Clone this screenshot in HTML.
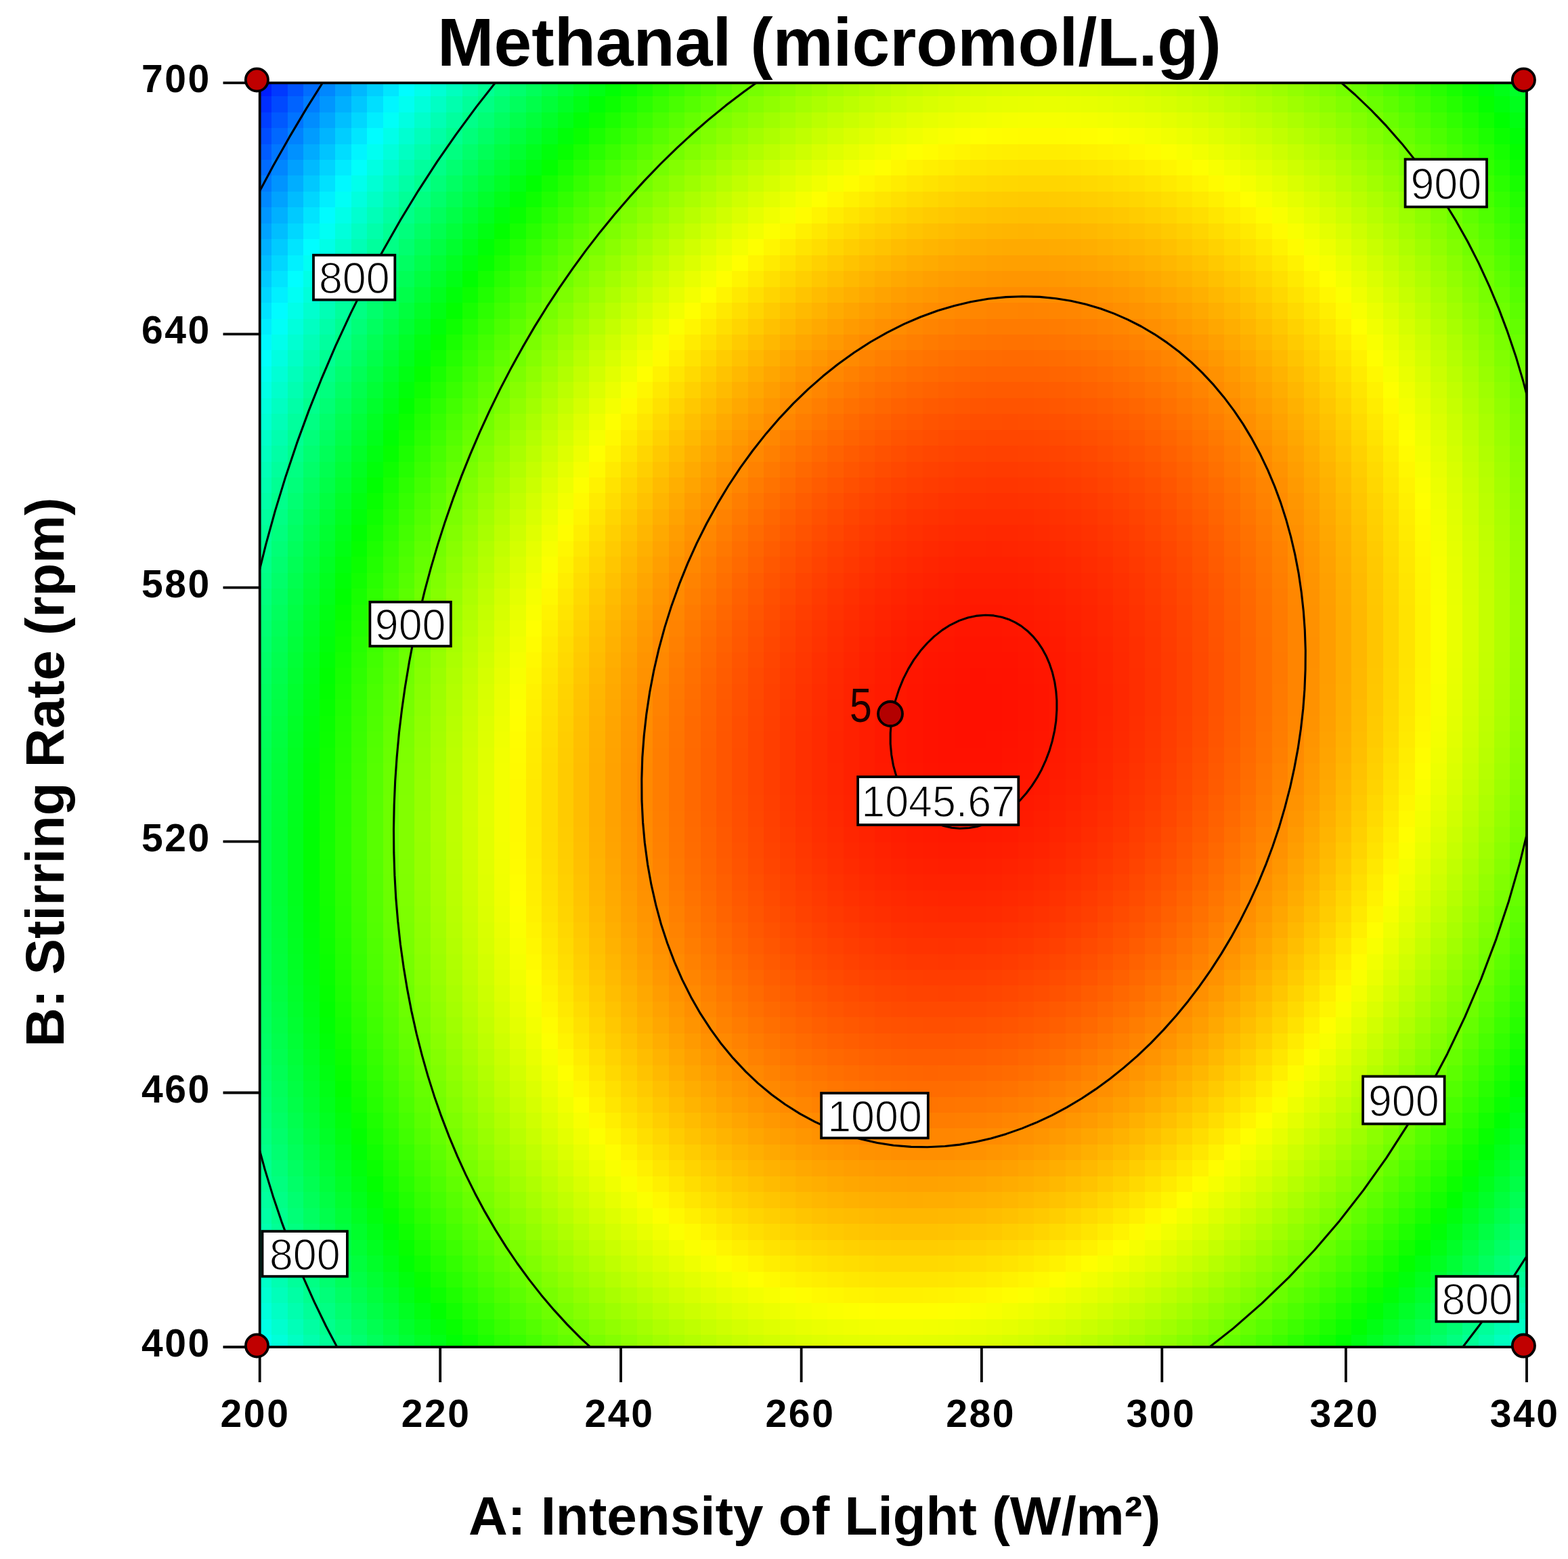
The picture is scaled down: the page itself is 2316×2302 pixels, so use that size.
<!DOCTYPE html>
<html><head><meta charset="utf-8"><title>Methanal contour</title>
<style>
html,body{margin:0;padding:0;background:#fff;}
body{width:2316px;height:2302px;position:relative;overflow:hidden;font-family:"Liberation Sans",Arial,sans-serif;}
#clip{position:absolute;left:383.7px;top:122.4px;width:1871.3px;height:1866.6px;overflow:hidden;}
#field{position:absolute;left:-5.60px;top:-3.60px;width:1876.0px;height:1876.0px;}
#field div{position:absolute;left:0;width:1876.0px;height:24.05px;}
svg{position:absolute;left:0;top:0;}
</style></head><body>
<div id="clip"><div id="field">
<div style="top:0.00px;background:linear-gradient(90deg,#001eff 0 23.4px,#0039ff 0 46.9px,#0053ff 0 70.3px,#006dff 0 93.8px,#0087ff 0 117.2px,#009fff 0 140.7px,#00b8ff 0 164.2px,#00cfff 0 187.6px,#00e6ff 0 211.0px,#00fdff 0 234.5px,#00ffea 0 257.9px,#00ffd4 0 281.4px,#00ffbe 0 304.8px,#00ffa9 0 328.3px,#00ff94 0 351.8px,#00ff80 0 375.2px,#00ff6d 0 398.6px,#00ff5a 0 422.1px,#00ff47 0 445.6px,#00ff36 0 469.0px,#00ff24 0 492.4px,#00ff14 0 515.9px,#00ff04 0 539.4px,#0cff00 0 562.8px,#1bff00 0 586.2px,#2aff00 0 609.7px,#38ff00 0 633.1px,#46ff00 0 656.6px,#53ff00 0 680.0px,#5fff00 0 703.5px,#6bff00 0 726.9px,#76ff00 0 750.4px,#81ff00 0 773.9px,#8bff00 0 797.3px,#95ff00 0 820.8px,#9dff00 0 844.2px,#a6ff00 0 867.6px,#adff00 0 891.1px,#b4ff00 0 914.5px,#bbff00 0 938.0px,#c1ff00 0 961.4px,#c6ff00 0 984.9px,#cbff00 0 1008.4px,#cfff00 0 1031.8px,#d2ff00 0 1055.2px,#d5ff00 0 1078.7px,#d7ff00 0 1102.1px,#d9ff00 0 1125.6px,#daff00 0 1149.0px,#dbff00 0 1172.5px,#dbff00 0 1196.0px,#daff00 0 1219.4px,#d9ff00 0 1242.8px,#d7ff00 0 1266.3px,#d5ff00 0 1289.8px,#d2ff00 0 1313.2px,#ceff00 0 1336.6px,#caff00 0 1360.1px,#c5ff00 0 1383.5px,#c0ff00 0 1407.0px,#baff00 0 1430.5px,#b3ff00 0 1453.9px,#acff00 0 1477.3px,#a4ff00 0 1500.8px,#9cff00 0 1524.2px,#93ff00 0 1547.7px,#89ff00 0 1571.1px,#7fff00 0 1594.6px,#74ff00 0 1618.0px,#69ff00 0 1641.5px,#5dff00 0 1665.0px,#50ff00 0 1688.4px,#43ff00 0 1711.8px,#36ff00 0 1735.3px,#27ff00 0 1758.8px,#18ff00 0 1782.2px,#09ff00 0 1805.6px,#00ff07 0 1829.1px,#00ff17 0 1852.5px,#00ff28 0 1876.0px)"></div>
<div style="top:23.45px;background:linear-gradient(90deg,#002eff 0 23.4px,#0049ff 0 46.9px,#0063ff 0 70.3px,#007dff 0 93.8px,#0096ff 0 117.2px,#00afff 0 140.7px,#00c7ff 0 164.2px,#00dfff 0 187.6px,#00f6ff 0 211.0px,#00fff1 0 234.5px,#00ffda 0 257.9px,#00ffc4 0 281.4px,#00ffae 0 304.8px,#00ff99 0 328.3px,#00ff84 0 351.8px,#00ff70 0 375.2px,#00ff5d 0 398.6px,#00ff4a 0 422.1px,#00ff38 0 445.6px,#00ff26 0 469.0px,#00ff15 0 492.4px,#00ff04 0 515.9px,#0cff00 0 539.4px,#1cff00 0 562.8px,#2bff00 0 586.2px,#3aff00 0 609.7px,#48ff00 0 633.1px,#55ff00 0 656.6px,#62ff00 0 680.0px,#6fff00 0 703.5px,#7aff00 0 726.9px,#86ff00 0 750.4px,#90ff00 0 773.9px,#9aff00 0 797.3px,#a4ff00 0 820.8px,#acff00 0 844.2px,#b4ff00 0 867.6px,#bcff00 0 891.1px,#c3ff00 0 914.5px,#c9ff00 0 938.0px,#cfff00 0 961.4px,#d4ff00 0 984.9px,#d9ff00 0 1008.4px,#ddff00 0 1031.8px,#e1ff00 0 1055.2px,#e3ff00 0 1078.7px,#e6ff00 0 1102.1px,#e7ff00 0 1125.6px,#e8ff00 0 1149.0px,#e9ff00 0 1172.5px,#e9ff00 0 1196.0px,#e8ff00 0 1219.4px,#e7ff00 0 1242.8px,#e5ff00 0 1266.3px,#e2ff00 0 1289.8px,#dfff00 0 1313.2px,#dbff00 0 1336.6px,#d7ff00 0 1360.1px,#d2ff00 0 1383.5px,#cdff00 0 1407.0px,#c7ff00 0 1430.5px,#c0ff00 0 1453.9px,#b9ff00 0 1477.3px,#b1ff00 0 1500.8px,#a9ff00 0 1524.2px,#9fff00 0 1547.7px,#96ff00 0 1571.1px,#8cff00 0 1594.6px,#81ff00 0 1618.0px,#75ff00 0 1641.5px,#69ff00 0 1665.0px,#5dff00 0 1688.4px,#50ff00 0 1711.8px,#42ff00 0 1735.3px,#33ff00 0 1758.8px,#25ff00 0 1782.2px,#15ff00 0 1805.6px,#05ff00 0 1829.1px,#00ff0c 0 1852.5px,#00ff1c 0 1876.0px)"></div>
<div style="top:46.90px;background:linear-gradient(90deg,#003eff 0 23.4px,#0059ff 0 46.9px,#0073ff 0 70.3px,#008dff 0 93.8px,#00a6ff 0 117.2px,#00bfff 0 140.7px,#00d7ff 0 164.2px,#00eeff 0 187.6px,#00fff8 0 211.0px,#00ffe1 0 234.5px,#00ffca 0 257.9px,#00ffb4 0 281.4px,#00ff9e 0 304.8px,#00ff89 0 328.3px,#00ff75 0 351.8px,#00ff61 0 375.2px,#00ff4d 0 398.6px,#00ff3b 0 422.1px,#00ff29 0 445.6px,#00ff17 0 469.0px,#00ff06 0 492.4px,#0bff00 0 515.9px,#1bff00 0 539.4px,#2bff00 0 562.8px,#3aff00 0 586.2px,#49ff00 0 609.7px,#57ff00 0 633.1px,#65ff00 0 656.6px,#71ff00 0 680.0px,#7eff00 0 703.5px,#89ff00 0 726.9px,#94ff00 0 750.4px,#9fff00 0 773.9px,#a9ff00 0 797.3px,#b2ff00 0 820.8px,#bbff00 0 844.2px,#c3ff00 0 867.6px,#caff00 0 891.1px,#d1ff00 0 914.5px,#d8ff00 0 938.0px,#ddff00 0 961.4px,#e3ff00 0 984.9px,#e7ff00 0 1008.4px,#ebff00 0 1031.8px,#eeff00 0 1055.2px,#f1ff00 0 1078.7px,#f3ff00 0 1102.1px,#f5ff00 0 1125.6px,#f6ff00 0 1149.0px,#f6ff00 0 1172.5px,#f6ff00 0 1196.0px,#f5ff00 0 1219.4px,#f4ff00 0 1242.8px,#f2ff00 0 1266.3px,#efff00 0 1289.8px,#ecff00 0 1313.2px,#e9ff00 0 1336.6px,#e4ff00 0 1360.1px,#dfff00 0 1383.5px,#daff00 0 1407.0px,#d4ff00 0 1430.5px,#cdff00 0 1453.9px,#c5ff00 0 1477.3px,#beff00 0 1500.8px,#b5ff00 0 1524.2px,#acff00 0 1547.7px,#a2ff00 0 1571.1px,#98ff00 0 1594.6px,#8dff00 0 1618.0px,#82ff00 0 1641.5px,#76ff00 0 1665.0px,#69ff00 0 1688.4px,#5cff00 0 1711.8px,#4eff00 0 1735.3px,#3fff00 0 1758.8px,#30ff00 0 1782.2px,#21ff00 0 1805.6px,#10ff00 0 1829.1px,#00ff00 0 1852.5px,#00ff11 0 1876.0px)"></div>
<div style="top:70.35px;background:linear-gradient(90deg,#004dff 0 23.4px,#0068ff 0 46.9px,#0082ff 0 70.3px,#009cff 0 93.8px,#00b5ff 0 117.2px,#00ceff 0 140.7px,#00e6ff 0 164.2px,#00fdff 0 187.6px,#00ffe9 0 211.0px,#00ffd1 0 234.5px,#00ffbb 0 257.9px,#00ffa5 0 281.4px,#00ff8f 0 304.8px,#00ff7a 0 328.3px,#00ff66 0 351.8px,#00ff52 0 375.2px,#00ff3e 0 398.6px,#00ff2c 0 422.1px,#00ff1a 0 445.6px,#00ff08 0 469.0px,#09ff00 0 492.4px,#1aff00 0 515.9px,#2aff00 0 539.4px,#3aff00 0 562.8px,#49ff00 0 586.2px,#58ff00 0 609.7px,#66ff00 0 633.1px,#73ff00 0 656.6px,#80ff00 0 680.0px,#8cff00 0 703.5px,#98ff00 0 726.9px,#a3ff00 0 750.4px,#adff00 0 773.9px,#b7ff00 0 797.3px,#c0ff00 0 820.8px,#c9ff00 0 844.2px,#d1ff00 0 867.6px,#d9ff00 0 891.1px,#dfff00 0 914.5px,#e6ff00 0 938.0px,#ebff00 0 961.4px,#f0ff00 0 984.9px,#f5ff00 0 1008.4px,#f9ff00 0 1031.8px,#fcff00 0 1055.2px,#ffff00 0 1078.7px,#fffd00 0 1102.1px,#fffc00 0 1125.6px,#fffb00 0 1149.0px,#fffb00 0 1172.5px,#fffb00 0 1196.0px,#fffc00 0 1219.4px,#fffd00 0 1242.8px,#ffff00 0 1266.3px,#fcff00 0 1289.8px,#f9ff00 0 1313.2px,#f5ff00 0 1336.6px,#f1ff00 0 1360.1px,#ecff00 0 1383.5px,#e6ff00 0 1407.0px,#e0ff00 0 1430.5px,#d9ff00 0 1453.9px,#d2ff00 0 1477.3px,#caff00 0 1500.8px,#c1ff00 0 1524.2px,#b8ff00 0 1547.7px,#aeff00 0 1571.1px,#a4ff00 0 1594.6px,#99ff00 0 1618.0px,#8dff00 0 1641.5px,#81ff00 0 1665.0px,#75ff00 0 1688.4px,#67ff00 0 1711.8px,#59ff00 0 1735.3px,#4bff00 0 1758.8px,#3cff00 0 1782.2px,#2cff00 0 1805.6px,#1cff00 0 1829.1px,#0bff00 0 1852.5px,#00ff06 0 1876.0px)"></div>
<div style="top:93.80px;background:linear-gradient(90deg,#005cff 0 23.4px,#0077ff 0 46.9px,#0091ff 0 70.3px,#00abff 0 93.8px,#00c4ff 0 117.2px,#00ddff 0 140.7px,#00f5ff 0 164.2px,#00fff1 0 187.6px,#00ffda 0 211.0px,#00ffc2 0 234.5px,#00ffac 0 257.9px,#00ff96 0 281.4px,#00ff80 0 304.8px,#00ff6b 0 328.3px,#00ff57 0 351.8px,#00ff43 0 375.2px,#00ff30 0 398.6px,#00ff1d 0 422.1px,#00ff0b 0 445.6px,#07ff00 0 469.0px,#18ff00 0 492.4px,#29ff00 0 515.9px,#39ff00 0 539.4px,#49ff00 0 562.8px,#58ff00 0 586.2px,#67ff00 0 609.7px,#74ff00 0 633.1px,#82ff00 0 656.6px,#8eff00 0 680.0px,#9bff00 0 703.5px,#a6ff00 0 726.9px,#b1ff00 0 750.4px,#bbff00 0 773.9px,#c5ff00 0 797.3px,#ceff00 0 820.8px,#d7ff00 0 844.2px,#dfff00 0 867.6px,#e6ff00 0 891.1px,#edff00 0 914.5px,#f3ff00 0 938.0px,#f9ff00 0 961.4px,#feff00 0 984.9px,#fffc00 0 1008.4px,#fff800 0 1031.8px,#fff500 0 1055.2px,#fff200 0 1078.7px,#fff000 0 1102.1px,#ffef00 0 1125.6px,#ffee00 0 1149.0px,#ffee00 0 1172.5px,#ffee00 0 1196.0px,#ffef00 0 1219.4px,#fff100 0 1242.8px,#fff300 0 1266.3px,#fff500 0 1289.8px,#fff900 0 1313.2px,#fffc00 0 1336.6px,#fdff00 0 1360.1px,#f8ff00 0 1383.5px,#f2ff00 0 1407.0px,#ecff00 0 1430.5px,#e5ff00 0 1453.9px,#deff00 0 1477.3px,#d6ff00 0 1500.8px,#cdff00 0 1524.2px,#c4ff00 0 1547.7px,#baff00 0 1571.1px,#b0ff00 0 1594.6px,#a5ff00 0 1618.0px,#99ff00 0 1641.5px,#8dff00 0 1665.0px,#80ff00 0 1688.4px,#72ff00 0 1711.8px,#64ff00 0 1735.3px,#56ff00 0 1758.8px,#47ff00 0 1782.2px,#37ff00 0 1805.6px,#27ff00 0 1829.1px,#16ff00 0 1852.5px,#04ff00 0 1876.0px)"></div>
<div style="top:117.25px;background:linear-gradient(90deg,#006bff 0 23.4px,#0086ff 0 46.9px,#00a0ff 0 70.3px,#00baff 0 93.8px,#00d3ff 0 117.2px,#00ebff 0 140.7px,#00fffb 0 164.2px,#00ffe2 0 187.6px,#00ffcb 0 211.0px,#00ffb3 0 234.5px,#00ff9d 0 257.9px,#00ff87 0 281.4px,#00ff71 0 304.8px,#00ff5d 0 328.3px,#00ff48 0 351.8px,#00ff35 0 375.2px,#00ff21 0 398.6px,#00ff0f 0 422.1px,#03ff00 0 445.6px,#15ff00 0 469.0px,#27ff00 0 492.4px,#37ff00 0 515.9px,#48ff00 0 539.4px,#57ff00 0 562.8px,#66ff00 0 586.2px,#75ff00 0 609.7px,#83ff00 0 633.1px,#90ff00 0 656.6px,#9cff00 0 680.0px,#a8ff00 0 703.5px,#b4ff00 0 726.9px,#bfff00 0 750.4px,#c9ff00 0 773.9px,#d3ff00 0 797.3px,#dcff00 0 820.8px,#e4ff00 0 844.2px,#ecff00 0 867.6px,#f4ff00 0 891.1px,#faff00 0 914.5px,#fffe00 0 938.0px,#fff800 0 961.4px,#fff300 0 984.9px,#ffef00 0 1008.4px,#ffec00 0 1031.8px,#ffe800 0 1055.2px,#ffe600 0 1078.7px,#ffe400 0 1102.1px,#ffe300 0 1125.6px,#ffe200 0 1149.0px,#ffe200 0 1172.5px,#ffe200 0 1196.0px,#ffe300 0 1219.4px,#ffe500 0 1242.8px,#ffe700 0 1266.3px,#ffea00 0 1289.8px,#ffed00 0 1313.2px,#fff100 0 1336.6px,#fff500 0 1360.1px,#fffa00 0 1383.5px,#feff00 0 1407.0px,#f8ff00 0 1430.5px,#f1ff00 0 1453.9px,#e9ff00 0 1477.3px,#e1ff00 0 1500.8px,#d8ff00 0 1524.2px,#cfff00 0 1547.7px,#c5ff00 0 1571.1px,#bbff00 0 1594.6px,#b0ff00 0 1618.0px,#a4ff00 0 1641.5px,#98ff00 0 1665.0px,#8bff00 0 1688.4px,#7dff00 0 1711.8px,#6fff00 0 1735.3px,#61ff00 0 1758.8px,#51ff00 0 1782.2px,#42ff00 0 1805.6px,#31ff00 0 1829.1px,#20ff00 0 1852.5px,#0eff00 0 1876.0px)"></div>
<div style="top:140.70px;background:linear-gradient(90deg,#007aff 0 23.4px,#0094ff 0 46.9px,#00aeff 0 70.3px,#00c8ff 0 93.8px,#00e1ff 0 117.2px,#00f9ff 0 140.7px,#00ffec 0 164.2px,#00ffd4 0 187.6px,#00ffbc 0 211.0px,#00ffa5 0 234.5px,#00ff8f 0 257.9px,#00ff79 0 281.4px,#00ff63 0 304.8px,#00ff4e 0 328.3px,#00ff3a 0 351.8px,#00ff27 0 375.2px,#00ff13 0 398.6px,#00ff01 0 422.1px,#12ff00 0 445.6px,#23ff00 0 469.0px,#35ff00 0 492.4px,#46ff00 0 515.9px,#56ff00 0 539.4px,#65ff00 0 562.8px,#74ff00 0 586.2px,#83ff00 0 609.7px,#90ff00 0 633.1px,#9dff00 0 656.6px,#aaff00 0 680.0px,#b6ff00 0 703.5px,#c1ff00 0 726.9px,#ccff00 0 750.4px,#d6ff00 0 773.9px,#e0ff00 0 797.3px,#e9ff00 0 820.8px,#f1ff00 0 844.2px,#f9ff00 0 867.6px,#fffd00 0 891.1px,#fff700 0 914.5px,#fff100 0 938.0px,#ffec00 0 961.4px,#ffe700 0 984.9px,#ffe300 0 1008.4px,#ffdf00 0 1031.8px,#ffdc00 0 1055.2px,#ffda00 0 1078.7px,#ffd800 0 1102.1px,#ffd700 0 1125.6px,#ffd600 0 1149.0px,#ffd600 0 1172.5px,#ffd600 0 1196.0px,#ffd700 0 1219.4px,#ffd900 0 1242.8px,#ffdb00 0 1266.3px,#ffde00 0 1289.8px,#ffe100 0 1313.2px,#ffe500 0 1336.6px,#ffea00 0 1360.1px,#ffef00 0 1383.5px,#fff500 0 1407.0px,#fffb00 0 1430.5px,#fcff00 0 1453.9px,#f5ff00 0 1477.3px,#ecff00 0 1500.8px,#e4ff00 0 1524.2px,#daff00 0 1547.7px,#d0ff00 0 1571.1px,#c6ff00 0 1594.6px,#baff00 0 1618.0px,#afff00 0 1641.5px,#a2ff00 0 1665.0px,#95ff00 0 1688.4px,#88ff00 0 1711.8px,#7aff00 0 1735.3px,#6bff00 0 1758.8px,#5cff00 0 1782.2px,#4cff00 0 1805.6px,#3bff00 0 1829.1px,#2aff00 0 1852.5px,#18ff00 0 1876.0px)"></div>
<div style="top:164.15px;background:linear-gradient(90deg,#0088ff 0 23.4px,#00a2ff 0 46.9px,#00bcff 0 70.3px,#00d6ff 0 93.8px,#00efff 0 117.2px,#00fff6 0 140.7px,#00ffde 0 164.2px,#00ffc6 0 187.6px,#00ffae 0 211.0px,#00ff97 0 234.5px,#00ff80 0 257.9px,#00ff6b 0 281.4px,#00ff55 0 304.8px,#00ff41 0 328.3px,#00ff2c 0 351.8px,#00ff19 0 375.2px,#00ff06 0 398.6px,#0dff00 0 422.1px,#1fff00 0 445.6px,#31ff00 0 469.0px,#43ff00 0 492.4px,#53ff00 0 515.9px,#63ff00 0 539.4px,#73ff00 0 562.8px,#82ff00 0 586.2px,#90ff00 0 609.7px,#9eff00 0 633.1px,#abff00 0 656.6px,#b7ff00 0 680.0px,#c3ff00 0 703.5px,#cfff00 0 726.9px,#d9ff00 0 750.4px,#e3ff00 0 773.9px,#edff00 0 797.3px,#f6ff00 0 820.8px,#feff00 0 844.2px,#fff800 0 867.6px,#fff100 0 891.1px,#ffeb00 0 914.5px,#ffe500 0 938.0px,#ffe000 0 961.4px,#ffdb00 0 984.9px,#ffd700 0 1008.4px,#ffd300 0 1031.8px,#ffd000 0 1055.2px,#ffce00 0 1078.7px,#ffcc00 0 1102.1px,#ffcb00 0 1125.6px,#ffca00 0 1149.0px,#ffca00 0 1172.5px,#ffcb00 0 1196.0px,#ffcc00 0 1219.4px,#ffce00 0 1242.8px,#ffd000 0 1266.3px,#ffd300 0 1289.8px,#ffd600 0 1313.2px,#ffda00 0 1336.6px,#ffdf00 0 1360.1px,#ffe400 0 1383.5px,#ffea00 0 1407.0px,#fff000 0 1430.5px,#fff700 0 1453.9px,#ffff00 0 1477.3px,#f7ff00 0 1500.8px,#eeff00 0 1524.2px,#e5ff00 0 1547.7px,#dbff00 0 1571.1px,#d0ff00 0 1594.6px,#c5ff00 0 1618.0px,#b9ff00 0 1641.5px,#adff00 0 1665.0px,#a0ff00 0 1688.4px,#92ff00 0 1711.8px,#84ff00 0 1735.3px,#75ff00 0 1758.8px,#66ff00 0 1782.2px,#56ff00 0 1805.6px,#45ff00 0 1829.1px,#34ff00 0 1852.5px,#22ff00 0 1876.0px)"></div>
<div style="top:187.60px;background:linear-gradient(90deg,#0096ff 0 23.4px,#00b0ff 0 46.9px,#00caff 0 70.3px,#00e4ff 0 93.8px,#00fcff 0 117.2px,#00ffe8 0 140.7px,#00ffd0 0 164.2px,#00ffb8 0 187.6px,#00ffa0 0 211.0px,#00ff89 0 234.5px,#00ff73 0 257.9px,#00ff5d 0 281.4px,#00ff48 0 304.8px,#00ff33 0 328.3px,#00ff1f 0 351.8px,#00ff0b 0 375.2px,#08ff00 0 398.6px,#1bff00 0 422.1px,#2dff00 0 445.6px,#3fff00 0 469.0px,#50ff00 0 492.4px,#61ff00 0 515.9px,#71ff00 0 539.4px,#80ff00 0 562.8px,#8fff00 0 586.2px,#9dff00 0 609.7px,#abff00 0 633.1px,#b8ff00 0 656.6px,#c4ff00 0 680.0px,#d0ff00 0 703.5px,#dbff00 0 726.9px,#e6ff00 0 750.4px,#f0ff00 0 773.9px,#f9ff00 0 797.3px,#fffc00 0 820.8px,#fff400 0 844.2px,#ffec00 0 867.6px,#ffe500 0 891.1px,#ffdf00 0 914.5px,#ffd900 0 938.0px,#ffd400 0 961.4px,#ffcf00 0 984.9px,#ffcb00 0 1008.4px,#ffc800 0 1031.8px,#ffc500 0 1055.2px,#ffc300 0 1078.7px,#ffc100 0 1102.1px,#ffc000 0 1125.6px,#ffbf00 0 1149.0px,#ffbf00 0 1172.5px,#ffc000 0 1196.0px,#ffc100 0 1219.4px,#ffc300 0 1242.8px,#ffc500 0 1266.3px,#ffc800 0 1289.8px,#ffcc00 0 1313.2px,#ffd000 0 1336.6px,#ffd400 0 1360.1px,#ffda00 0 1383.5px,#ffdf00 0 1407.0px,#ffe600 0 1430.5px,#ffed00 0 1453.9px,#fff400 0 1477.3px,#fffc00 0 1500.8px,#f9ff00 0 1524.2px,#efff00 0 1547.7px,#e5ff00 0 1571.1px,#daff00 0 1594.6px,#cfff00 0 1618.0px,#c3ff00 0 1641.5px,#b7ff00 0 1665.0px,#aaff00 0 1688.4px,#9cff00 0 1711.8px,#8eff00 0 1735.3px,#7fff00 0 1758.8px,#6fff00 0 1782.2px,#5fff00 0 1805.6px,#4fff00 0 1829.1px,#3dff00 0 1852.5px,#2bff00 0 1876.0px)"></div>
<div style="top:211.05px;background:linear-gradient(90deg,#00a3ff 0 23.4px,#00beff 0 46.9px,#00d7ff 0 70.3px,#00f1ff 0 93.8px,#00fff4 0 117.2px,#00ffdb 0 140.7px,#00ffc2 0 164.2px,#00ffaa 0 187.6px,#00ff93 0 211.0px,#00ff7c 0 234.5px,#00ff65 0 257.9px,#00ff50 0 281.4px,#00ff3b 0 304.8px,#00ff26 0 328.3px,#00ff12 0 351.8px,#02ff00 0 375.2px,#15ff00 0 398.6px,#28ff00 0 422.1px,#3aff00 0 445.6px,#4cff00 0 469.0px,#5dff00 0 492.4px,#6eff00 0 515.9px,#7eff00 0 539.4px,#8dff00 0 562.8px,#9cff00 0 586.2px,#aaff00 0 609.7px,#b7ff00 0 633.1px,#c4ff00 0 656.6px,#d1ff00 0 680.0px,#dcff00 0 703.5px,#e8ff00 0 726.9px,#f2ff00 0 750.4px,#fcff00 0 773.9px,#fff900 0 797.3px,#fff000 0 820.8px,#ffe800 0 844.2px,#ffe000 0 867.6px,#ffda00 0 891.1px,#ffd300 0 914.5px,#ffce00 0 938.0px,#ffc900 0 961.4px,#ffc400 0 984.9px,#ffc000 0 1008.4px,#ffbd00 0 1031.8px,#ffba00 0 1055.2px,#ffb800 0 1078.7px,#ffb600 0 1102.1px,#ffb500 0 1125.6px,#ffb400 0 1149.0px,#ffb500 0 1172.5px,#ffb500 0 1196.0px,#ffb600 0 1219.4px,#ffb800 0 1242.8px,#ffbb00 0 1266.3px,#ffbe00 0 1289.8px,#ffc100 0 1313.2px,#ffc500 0 1336.6px,#ffca00 0 1360.1px,#ffcf00 0 1383.5px,#ffd500 0 1407.0px,#ffdc00 0 1430.5px,#ffe300 0 1453.9px,#ffea00 0 1477.3px,#fff300 0 1500.8px,#fffb00 0 1524.2px,#f9ff00 0 1547.7px,#efff00 0 1571.1px,#e4ff00 0 1594.6px,#d9ff00 0 1618.0px,#cdff00 0 1641.5px,#c0ff00 0 1665.0px,#b3ff00 0 1688.4px,#a5ff00 0 1711.8px,#97ff00 0 1735.3px,#88ff00 0 1758.8px,#78ff00 0 1782.2px,#68ff00 0 1805.6px,#58ff00 0 1829.1px,#46ff00 0 1852.5px,#34ff00 0 1876.0px)"></div>
<div style="top:234.50px;background:linear-gradient(90deg,#00b0ff 0 23.4px,#00cbff 0 46.9px,#00e5ff 0 70.3px,#00feff 0 93.8px,#00ffe7 0 117.2px,#00ffcd 0 140.7px,#00ffb5 0 164.2px,#00ff9d 0 187.6px,#00ff86 0 211.0px,#00ff6f 0 234.5px,#00ff58 0 257.9px,#00ff43 0 281.4px,#00ff2e 0 304.8px,#00ff19 0 328.3px,#00ff05 0 351.8px,#0fff00 0 375.2px,#22ff00 0 398.6px,#35ff00 0 422.1px,#47ff00 0 445.6px,#59ff00 0 469.0px,#6aff00 0 492.4px,#7aff00 0 515.9px,#8aff00 0 539.4px,#99ff00 0 562.8px,#a8ff00 0 586.2px,#b6ff00 0 609.7px,#c4ff00 0 633.1px,#d1ff00 0 656.6px,#ddff00 0 680.0px,#e9ff00 0 703.5px,#f4ff00 0 726.9px,#feff00 0 750.4px,#fff600 0 773.9px,#ffed00 0 797.3px,#ffe400 0 820.8px,#ffdd00 0 844.2px,#ffd500 0 867.6px,#ffce00 0 891.1px,#ffc800 0 914.5px,#ffc300 0 938.0px,#ffbd00 0 961.4px,#ffb900 0 984.9px,#ffb500 0 1008.4px,#ffb200 0 1031.8px,#ffaf00 0 1055.2px,#ffad00 0 1078.7px,#ffab00 0 1102.1px,#ffaa00 0 1125.6px,#ffaa00 0 1149.0px,#ffaa00 0 1172.5px,#ffab00 0 1196.0px,#ffac00 0 1219.4px,#ffae00 0 1242.8px,#ffb100 0 1266.3px,#ffb400 0 1289.8px,#ffb700 0 1313.2px,#ffbb00 0 1336.6px,#ffc000 0 1360.1px,#ffc600 0 1383.5px,#ffcc00 0 1407.0px,#ffd200 0 1430.5px,#ffd900 0 1453.9px,#ffe100 0 1477.3px,#ffe900 0 1500.8px,#fff200 0 1524.2px,#fffb00 0 1547.7px,#f8ff00 0 1571.1px,#eeff00 0 1594.6px,#e2ff00 0 1618.0px,#d6ff00 0 1641.5px,#c9ff00 0 1665.0px,#bcff00 0 1688.4px,#aeff00 0 1711.8px,#a0ff00 0 1735.3px,#91ff00 0 1758.8px,#81ff00 0 1782.2px,#71ff00 0 1805.6px,#60ff00 0 1829.1px,#4fff00 0 1852.5px,#3dff00 0 1876.0px)"></div>
<div style="top:257.95px;background:linear-gradient(90deg,#00bdff 0 23.4px,#00d7ff 0 46.9px,#00f1ff 0 70.3px,#00fff3 0 93.8px,#00ffda 0 117.2px,#00ffc0 0 140.7px,#00ffa8 0 164.2px,#00ff90 0 187.6px,#00ff79 0 211.0px,#00ff62 0 234.5px,#00ff4c 0 257.9px,#00ff36 0 281.4px,#00ff21 0 304.8px,#00ff0d 0 328.3px,#07ff00 0 351.8px,#1bff00 0 375.2px,#2fff00 0 398.6px,#41ff00 0 422.1px,#54ff00 0 445.6px,#65ff00 0 469.0px,#76ff00 0 492.4px,#87ff00 0 515.9px,#96ff00 0 539.4px,#a6ff00 0 562.8px,#b4ff00 0 586.2px,#c2ff00 0 609.7px,#d0ff00 0 633.1px,#dcff00 0 656.6px,#e9ff00 0 680.0px,#f4ff00 0 703.5px,#ffff00 0 726.9px,#fff400 0 750.4px,#ffeb00 0 773.9px,#ffe200 0 797.3px,#ffd900 0 820.8px,#ffd100 0 844.2px,#ffca00 0 867.6px,#ffc300 0 891.1px,#ffbd00 0 914.5px,#ffb800 0 938.0px,#ffb300 0 961.4px,#ffae00 0 984.9px,#ffab00 0 1008.4px,#ffa700 0 1031.8px,#ffa500 0 1055.2px,#ffa300 0 1078.7px,#ffa100 0 1102.1px,#ffa000 0 1125.6px,#ffa000 0 1149.0px,#ffa000 0 1172.5px,#ffa100 0 1196.0px,#ffa200 0 1219.4px,#ffa400 0 1242.8px,#ffa700 0 1266.3px,#ffaa00 0 1289.8px,#ffae00 0 1313.2px,#ffb200 0 1336.6px,#ffb700 0 1360.1px,#ffbc00 0 1383.5px,#ffc200 0 1407.0px,#ffc900 0 1430.5px,#ffd000 0 1453.9px,#ffd800 0 1477.3px,#ffe000 0 1500.8px,#ffe900 0 1524.2px,#fff200 0 1547.7px,#fffd00 0 1571.1px,#f7ff00 0 1594.6px,#ebff00 0 1618.0px,#dfff00 0 1641.5px,#d2ff00 0 1665.0px,#c5ff00 0 1688.4px,#b7ff00 0 1711.8px,#a9ff00 0 1735.3px,#9aff00 0 1758.8px,#8aff00 0 1782.2px,#7aff00 0 1805.6px,#69ff00 0 1829.1px,#57ff00 0 1852.5px,#45ff00 0 1876.0px)"></div>
<div style="top:281.40px;background:linear-gradient(90deg,#00caff 0 23.4px,#00e4ff 0 46.9px,#00feff 0 70.3px,#00ffe6 0 93.8px,#00ffcd 0 117.2px,#00ffb4 0 140.7px,#00ff9b 0 164.2px,#00ff84 0 187.6px,#00ff6c 0 211.0px,#00ff56 0 234.5px,#00ff40 0 257.9px,#00ff2a 0 281.4px,#00ff15 0 304.8px,#00ff01 0 328.3px,#14ff00 0 351.8px,#28ff00 0 375.2px,#3bff00 0 398.6px,#4eff00 0 422.1px,#60ff00 0 445.6px,#71ff00 0 469.0px,#82ff00 0 492.4px,#92ff00 0 515.9px,#a2ff00 0 539.4px,#b1ff00 0 562.8px,#c0ff00 0 586.2px,#ceff00 0 609.7px,#dbff00 0 633.1px,#e8ff00 0 656.6px,#f4ff00 0 680.0px,#fffe00 0 703.5px,#fff400 0 726.9px,#ffea00 0 750.4px,#ffe000 0 773.9px,#ffd700 0 797.3px,#ffcf00 0 820.8px,#ffc700 0 844.2px,#ffc000 0 867.6px,#ffb900 0 891.1px,#ffb300 0 914.5px,#ffad00 0 938.0px,#ffa800 0 961.4px,#ffa400 0 984.9px,#ffa000 0 1008.4px,#ff9d00 0 1031.8px,#ff9b00 0 1055.2px,#ff9900 0 1078.7px,#ff9700 0 1102.1px,#ff9600 0 1125.6px,#ff9600 0 1149.0px,#ff9600 0 1172.5px,#ff9700 0 1196.0px,#ff9900 0 1219.4px,#ff9b00 0 1242.8px,#ff9d00 0 1266.3px,#ffa000 0 1289.8px,#ffa400 0 1313.2px,#ffa900 0 1336.6px,#ffae00 0 1360.1px,#ffb300 0 1383.5px,#ffb900 0 1407.0px,#ffc000 0 1430.5px,#ffc700 0 1453.9px,#ffcf00 0 1477.3px,#ffd700 0 1500.8px,#ffe000 0 1524.2px,#ffea00 0 1547.7px,#fff400 0 1571.1px,#ffff00 0 1594.6px,#f4ff00 0 1618.0px,#e8ff00 0 1641.5px,#dbff00 0 1665.0px,#cdff00 0 1688.4px,#bfff00 0 1711.8px,#b1ff00 0 1735.3px,#a2ff00 0 1758.8px,#92ff00 0 1782.2px,#82ff00 0 1805.6px,#71ff00 0 1829.1px,#5fff00 0 1852.5px,#4dff00 0 1876.0px)"></div>
<div style="top:304.85px;background:linear-gradient(90deg,#00d6ff 0 23.4px,#00f0ff 0 46.9px,#00fff4 0 70.3px,#00ffda 0 93.8px,#00ffc1 0 117.2px,#00ffa8 0 140.7px,#00ff8f 0 164.2px,#00ff77 0 187.6px,#00ff60 0 211.0px,#00ff4a 0 234.5px,#00ff34 0 257.9px,#00ff1e 0 281.4px,#00ff09 0 304.8px,#0bff00 0 328.3px,#20ff00 0 351.8px,#34ff00 0 375.2px,#47ff00 0 398.6px,#5aff00 0 422.1px,#6cff00 0 445.6px,#7dff00 0 469.0px,#8eff00 0 492.4px,#9eff00 0 515.9px,#aeff00 0 539.4px,#bdff00 0 562.8px,#cbff00 0 586.2px,#d9ff00 0 609.7px,#e6ff00 0 633.1px,#f3ff00 0 656.6px,#ffff00 0 680.0px,#fff400 0 703.5px,#ffe900 0 726.9px,#ffdf00 0 750.4px,#ffd500 0 773.9px,#ffcd00 0 797.3px,#ffc400 0 820.8px,#ffbc00 0 844.2px,#ffb500 0 867.6px,#ffaf00 0 891.1px,#ffa900 0 914.5px,#ffa300 0 938.0px,#ff9e00 0 961.4px,#ff9a00 0 984.9px,#ff9700 0 1008.4px,#ff9300 0 1031.8px,#ff9100 0 1055.2px,#ff8f00 0 1078.7px,#ff8e00 0 1102.1px,#ff8d00 0 1125.6px,#ff8d00 0 1149.0px,#ff8d00 0 1172.5px,#ff8e00 0 1196.0px,#ff8f00 0 1219.4px,#ff9100 0 1242.8px,#ff9400 0 1266.3px,#ff9700 0 1289.8px,#ff9b00 0 1313.2px,#ffa000 0 1336.6px,#ffa500 0 1360.1px,#ffaa00 0 1383.5px,#ffb000 0 1407.0px,#ffb700 0 1430.5px,#ffbe00 0 1453.9px,#ffc600 0 1477.3px,#ffcf00 0 1500.8px,#ffd800 0 1524.2px,#ffe200 0 1547.7px,#ffec00 0 1571.1px,#fff700 0 1594.6px,#fcff00 0 1618.0px,#f0ff00 0 1641.5px,#e3ff00 0 1665.0px,#d5ff00 0 1688.4px,#c7ff00 0 1711.8px,#b9ff00 0 1735.3px,#aaff00 0 1758.8px,#9aff00 0 1782.2px,#89ff00 0 1805.6px,#78ff00 0 1829.1px,#67ff00 0 1852.5px,#55ff00 0 1876.0px)"></div>
<div style="top:328.30px;background:linear-gradient(90deg,#00e2ff 0 23.4px,#00fcff 0 46.9px,#00ffe8 0 70.3px,#00ffce 0 93.8px,#00ffb5 0 117.2px,#00ff9c 0 140.7px,#00ff83 0 164.2px,#00ff6c 0 187.6px,#00ff55 0 211.0px,#00ff3e 0 234.5px,#00ff28 0 257.9px,#00ff13 0 281.4px,#02ff00 0 304.8px,#17ff00 0 328.3px,#2cff00 0 351.8px,#3fff00 0 375.2px,#52ff00 0 398.6px,#65ff00 0 422.1px,#77ff00 0 445.6px,#88ff00 0 469.0px,#99ff00 0 492.4px,#a9ff00 0 515.9px,#b9ff00 0 539.4px,#c8ff00 0 562.8px,#d6ff00 0 586.2px,#e4ff00 0 609.7px,#f1ff00 0 633.1px,#feff00 0 656.6px,#fff400 0 680.0px,#ffe900 0 703.5px,#ffdf00 0 726.9px,#ffd500 0 750.4px,#ffcb00 0 773.9px,#ffc200 0 797.3px,#ffba00 0 820.8px,#ffb300 0 844.2px,#ffab00 0 867.6px,#ffa500 0 891.1px,#ff9f00 0 914.5px,#ff9a00 0 938.0px,#ff9500 0 961.4px,#ff9100 0 984.9px,#ff8d00 0 1008.4px,#ff8a00 0 1031.8px,#ff8800 0 1055.2px,#ff8600 0 1078.7px,#ff8400 0 1102.1px,#ff8400 0 1125.6px,#ff8300 0 1149.0px,#ff8400 0 1172.5px,#ff8500 0 1196.0px,#ff8600 0 1219.4px,#ff8900 0 1242.8px,#ff8b00 0 1266.3px,#ff8f00 0 1289.8px,#ff9300 0 1313.2px,#ff9700 0 1336.6px,#ff9c00 0 1360.1px,#ffa200 0 1383.5px,#ffa800 0 1407.0px,#ffaf00 0 1430.5px,#ffb600 0 1453.9px,#ffbe00 0 1477.3px,#ffc700 0 1500.8px,#ffd000 0 1524.2px,#ffda00 0 1547.7px,#ffe400 0 1571.1px,#ffef00 0 1594.6px,#fffa00 0 1618.0px,#f8ff00 0 1641.5px,#ebff00 0 1665.0px,#ddff00 0 1688.4px,#cfff00 0 1711.8px,#c0ff00 0 1735.3px,#b1ff00 0 1758.8px,#a1ff00 0 1782.2px,#91ff00 0 1805.6px,#80ff00 0 1829.1px,#6eff00 0 1852.5px,#5cff00 0 1876.0px)"></div>
<div style="top:351.75px;background:linear-gradient(90deg,#00edff 0 23.4px,#00fff7 0 46.9px,#00ffdc 0 70.3px,#00ffc2 0 93.8px,#00ffa9 0 117.2px,#00ff90 0 140.7px,#00ff78 0 164.2px,#00ff60 0 187.6px,#00ff49 0 211.0px,#00ff33 0 234.5px,#00ff1d 0 257.9px,#00ff07 0 281.4px,#0eff00 0 304.8px,#23ff00 0 328.3px,#37ff00 0 351.8px,#4bff00 0 375.2px,#5eff00 0 398.6px,#70ff00 0 422.1px,#82ff00 0 445.6px,#93ff00 0 469.0px,#a4ff00 0 492.4px,#b4ff00 0 515.9px,#c4ff00 0 539.4px,#d3ff00 0 562.8px,#e1ff00 0 586.2px,#efff00 0 609.7px,#fcff00 0 633.1px,#fff600 0 656.6px,#ffea00 0 680.0px,#ffdf00 0 703.5px,#ffd500 0 726.9px,#ffcb00 0 750.4px,#ffc100 0 773.9px,#ffb900 0 797.3px,#ffb000 0 820.8px,#ffa900 0 844.2px,#ffa200 0 867.6px,#ff9b00 0 891.1px,#ff9600 0 914.5px,#ff9000 0 938.0px,#ff8c00 0 961.4px,#ff8700 0 984.9px,#ff8400 0 1008.4px,#ff8100 0 1031.8px,#ff7e00 0 1055.2px,#ff7d00 0 1078.7px,#ff7b00 0 1102.1px,#ff7b00 0 1125.6px,#ff7b00 0 1149.0px,#ff7b00 0 1172.5px,#ff7c00 0 1196.0px,#ff7e00 0 1219.4px,#ff8000 0 1242.8px,#ff8300 0 1266.3px,#ff8600 0 1289.8px,#ff8a00 0 1313.2px,#ff8f00 0 1336.6px,#ff9400 0 1360.1px,#ff9a00 0 1383.5px,#ffa000 0 1407.0px,#ffa700 0 1430.5px,#ffae00 0 1453.9px,#ffb600 0 1477.3px,#ffbf00 0 1500.8px,#ffc800 0 1524.2px,#ffd200 0 1547.7px,#ffdc00 0 1571.1px,#ffe700 0 1594.6px,#fff300 0 1618.0px,#ffff00 0 1641.5px,#f2ff00 0 1665.0px,#e5ff00 0 1688.4px,#d6ff00 0 1711.8px,#c8ff00 0 1735.3px,#b8ff00 0 1758.8px,#a8ff00 0 1782.2px,#98ff00 0 1805.6px,#87ff00 0 1829.1px,#75ff00 0 1852.5px,#63ff00 0 1876.0px)"></div>
<div style="top:375.20px;background:linear-gradient(90deg,#00f8ff 0 23.4px,#00ffeb 0 46.9px,#00ffd1 0 70.3px,#00ffb7 0 93.8px,#00ff9e 0 117.2px,#00ff85 0 140.7px,#00ff6d 0 164.2px,#00ff55 0 187.6px,#00ff3e 0 211.0px,#00ff28 0 234.5px,#00ff12 0 257.9px,#03ff00 0 281.4px,#19ff00 0 304.8px,#2eff00 0 328.3px,#42ff00 0 351.8px,#55ff00 0 375.2px,#68ff00 0 398.6px,#7bff00 0 422.1px,#8dff00 0 445.6px,#9eff00 0 469.0px,#afff00 0 492.4px,#bfff00 0 515.9px,#ceff00 0 539.4px,#ddff00 0 562.8px,#ebff00 0 586.2px,#f9ff00 0 609.7px,#fff800 0 633.1px,#ffec00 0 656.6px,#ffe100 0 680.0px,#ffd600 0 703.5px,#ffcb00 0 726.9px,#ffc100 0 750.4px,#ffb800 0 773.9px,#ffaf00 0 797.3px,#ffa700 0 820.8px,#ffa000 0 844.2px,#ff9900 0 867.6px,#ff9200 0 891.1px,#ff8c00 0 914.5px,#ff8700 0 938.0px,#ff8300 0 961.4px,#ff7f00 0 984.9px,#ff7b00 0 1008.4px,#ff7800 0 1031.8px,#ff7600 0 1055.2px,#ff7400 0 1078.7px,#ff7300 0 1102.1px,#ff7200 0 1125.6px,#ff7200 0 1149.0px,#ff7300 0 1172.5px,#ff7400 0 1196.0px,#ff7600 0 1219.4px,#ff7800 0 1242.8px,#ff7b00 0 1266.3px,#ff7e00 0 1289.8px,#ff8200 0 1313.2px,#ff8700 0 1336.6px,#ff8c00 0 1360.1px,#ff9200 0 1383.5px,#ff9800 0 1407.0px,#ff9f00 0 1430.5px,#ffa700 0 1453.9px,#ffaf00 0 1477.3px,#ffb800 0 1500.8px,#ffc100 0 1524.2px,#ffcb00 0 1547.7px,#ffd500 0 1571.1px,#ffe000 0 1594.6px,#ffec00 0 1618.0px,#fff800 0 1641.5px,#f9ff00 0 1665.0px,#ebff00 0 1688.4px,#ddff00 0 1711.8px,#ceff00 0 1735.3px,#bfff00 0 1758.8px,#afff00 0 1782.2px,#9eff00 0 1805.6px,#8dff00 0 1829.1px,#7bff00 0 1852.5px,#69ff00 0 1876.0px)"></div>
<div style="top:398.65px;background:linear-gradient(90deg,#00fffb 0 23.4px,#00ffe0 0 46.9px,#00ffc6 0 70.3px,#00ffac 0 93.8px,#00ff93 0 117.2px,#00ff7a 0 140.7px,#00ff62 0 164.2px,#00ff4a 0 187.6px,#00ff33 0 211.0px,#00ff1d 0 234.5px,#00ff07 0 257.9px,#0eff00 0 281.4px,#24ff00 0 304.8px,#38ff00 0 328.3px,#4cff00 0 351.8px,#60ff00 0 375.2px,#73ff00 0 398.6px,#85ff00 0 422.1px,#97ff00 0 445.6px,#a8ff00 0 469.0px,#b9ff00 0 492.4px,#c9ff00 0 515.9px,#d8ff00 0 539.4px,#e7ff00 0 562.8px,#f5ff00 0 586.2px,#fffb00 0 609.7px,#ffef00 0 633.1px,#ffe300 0 656.6px,#ffd700 0 680.0px,#ffcc00 0 703.5px,#ffc200 0 726.9px,#ffb800 0 750.4px,#ffaf00 0 773.9px,#ffa600 0 797.3px,#ff9e00 0 820.8px,#ff9700 0 844.2px,#ff9000 0 867.6px,#ff8a00 0 891.1px,#ff8400 0 914.5px,#ff7f00 0 938.0px,#ff7a00 0 961.4px,#ff7600 0 984.9px,#ff7300 0 1008.4px,#ff7000 0 1031.8px,#ff6e00 0 1055.2px,#ff6c00 0 1078.7px,#ff6b00 0 1102.1px,#ff6a00 0 1125.6px,#ff6a00 0 1149.0px,#ff6b00 0 1172.5px,#ff6c00 0 1196.0px,#ff6e00 0 1219.4px,#ff7000 0 1242.8px,#ff7300 0 1266.3px,#ff7700 0 1289.8px,#ff7b00 0 1313.2px,#ff8000 0 1336.6px,#ff8500 0 1360.1px,#ff8b00 0 1383.5px,#ff9100 0 1407.0px,#ff9800 0 1430.5px,#ffa000 0 1453.9px,#ffa800 0 1477.3px,#ffb100 0 1500.8px,#ffba00 0 1524.2px,#ffc400 0 1547.7px,#ffce00 0 1571.1px,#ffda00 0 1594.6px,#ffe500 0 1618.0px,#fff100 0 1641.5px,#fffe00 0 1665.0px,#f2ff00 0 1688.4px,#e4ff00 0 1711.8px,#d5ff00 0 1735.3px,#c5ff00 0 1758.8px,#b5ff00 0 1782.2px,#a5ff00 0 1805.6px,#93ff00 0 1829.1px,#81ff00 0 1852.5px,#6fff00 0 1876.0px)"></div>
<div style="top:422.10px;background:linear-gradient(90deg,#00fff0 0 23.4px,#00ffd5 0 46.9px,#00ffbb 0 70.3px,#00ffa1 0 93.8px,#00ff88 0 117.2px,#00ff6f 0 140.7px,#00ff57 0 164.2px,#00ff40 0 187.6px,#00ff29 0 211.0px,#00ff13 0 234.5px,#03ff00 0 257.9px,#19ff00 0 281.4px,#2eff00 0 304.8px,#43ff00 0 328.3px,#57ff00 0 351.8px,#6aff00 0 375.2px,#7dff00 0 398.6px,#8fff00 0 422.1px,#a1ff00 0 445.6px,#b2ff00 0 469.0px,#c3ff00 0 492.4px,#d2ff00 0 515.9px,#e2ff00 0 539.4px,#f0ff00 0 562.8px,#ffff00 0 586.2px,#fff200 0 609.7px,#ffe600 0 633.1px,#ffda00 0 656.6px,#ffce00 0 680.0px,#ffc300 0 703.5px,#ffb900 0 726.9px,#ffaf00 0 750.4px,#ffa600 0 773.9px,#ff9e00 0 797.3px,#ff9600 0 820.8px,#ff8e00 0 844.2px,#ff8700 0 867.6px,#ff8100 0 891.1px,#ff7b00 0 914.5px,#ff7600 0 938.0px,#ff7200 0 961.4px,#ff6e00 0 984.9px,#ff6b00 0 1008.4px,#ff6800 0 1031.8px,#ff6600 0 1055.2px,#ff6400 0 1078.7px,#ff6300 0 1102.1px,#ff6300 0 1125.6px,#ff6300 0 1149.0px,#ff6300 0 1172.5px,#ff6500 0 1196.0px,#ff6600 0 1219.4px,#ff6900 0 1242.8px,#ff6c00 0 1266.3px,#ff7000 0 1289.8px,#ff7400 0 1313.2px,#ff7900 0 1336.6px,#ff7e00 0 1360.1px,#ff8400 0 1383.5px,#ff8a00 0 1407.0px,#ff9100 0 1430.5px,#ff9900 0 1453.9px,#ffa100 0 1477.3px,#ffaa00 0 1500.8px,#ffb300 0 1524.2px,#ffbd00 0 1547.7px,#ffc800 0 1571.1px,#ffd300 0 1594.6px,#ffdf00 0 1618.0px,#ffeb00 0 1641.5px,#fff800 0 1665.0px,#f8ff00 0 1688.4px,#eaff00 0 1711.8px,#dbff00 0 1735.3px,#cbff00 0 1758.8px,#bbff00 0 1782.2px,#abff00 0 1805.6px,#99ff00 0 1829.1px,#87ff00 0 1852.5px,#75ff00 0 1876.0px)"></div>
<div style="top:445.55px;background:linear-gradient(90deg,#00ffe6 0 23.4px,#00ffcb 0 46.9px,#00ffb1 0 70.3px,#00ff97 0 93.8px,#00ff7e 0 117.2px,#00ff65 0 140.7px,#00ff4d 0 164.2px,#00ff36 0 187.6px,#00ff1f 0 211.0px,#00ff09 0 234.5px,#0dff00 0 257.9px,#23ff00 0 281.4px,#38ff00 0 304.8px,#4dff00 0 328.3px,#61ff00 0 351.8px,#74ff00 0 375.2px,#87ff00 0 398.6px,#99ff00 0 422.1px,#abff00 0 445.6px,#bcff00 0 469.0px,#ccff00 0 492.4px,#dcff00 0 515.9px,#ebff00 0 539.4px,#faff00 0 562.8px,#fff600 0 586.2px,#ffe900 0 609.7px,#ffdd00 0 633.1px,#ffd100 0 656.6px,#ffc500 0 680.0px,#ffbb00 0 703.5px,#ffb000 0 726.9px,#ffa700 0 750.4px,#ff9e00 0 773.9px,#ff9500 0 797.3px,#ff8d00 0 820.8px,#ff8600 0 844.2px,#ff7f00 0 867.6px,#ff7900 0 891.1px,#ff7300 0 914.5px,#ff6e00 0 938.0px,#ff6a00 0 961.4px,#ff6600 0 984.9px,#ff6300 0 1008.4px,#ff6000 0 1031.8px,#ff5e00 0 1055.2px,#ff5c00 0 1078.7px,#ff5b00 0 1102.1px,#ff5b00 0 1125.6px,#ff5b00 0 1149.0px,#ff5c00 0 1172.5px,#ff5d00 0 1196.0px,#ff5f00 0 1219.4px,#ff6200 0 1242.8px,#ff6500 0 1266.3px,#ff6900 0 1289.8px,#ff6d00 0 1313.2px,#ff7200 0 1336.6px,#ff7700 0 1360.1px,#ff7d00 0 1383.5px,#ff8400 0 1407.0px,#ff8b00 0 1430.5px,#ff9300 0 1453.9px,#ff9b00 0 1477.3px,#ffa400 0 1500.8px,#ffad00 0 1524.2px,#ffb700 0 1547.7px,#ffc200 0 1571.1px,#ffcd00 0 1594.6px,#ffd900 0 1618.0px,#ffe500 0 1641.5px,#fff200 0 1665.0px,#feff00 0 1688.4px,#f0ff00 0 1711.8px,#e1ff00 0 1735.3px,#d1ff00 0 1758.8px,#c1ff00 0 1782.2px,#b0ff00 0 1805.6px,#9fff00 0 1829.1px,#8dff00 0 1852.5px,#7aff00 0 1876.0px)"></div>
<div style="top:469.00px;background:linear-gradient(90deg,#00ffdb 0 23.4px,#00ffc1 0 46.9px,#00ffa7 0 70.3px,#00ff8d 0 93.8px,#00ff74 0 117.2px,#00ff5b 0 140.7px,#00ff44 0 164.2px,#00ff2c 0 187.6px,#00ff16 0 211.0px,#01ff00 0 234.5px,#17ff00 0 257.9px,#2dff00 0 281.4px,#42ff00 0 304.8px,#56ff00 0 328.3px,#6aff00 0 351.8px,#7dff00 0 375.2px,#90ff00 0 398.6px,#a2ff00 0 422.1px,#b4ff00 0 445.6px,#c5ff00 0 469.0px,#d5ff00 0 492.4px,#e5ff00 0 515.9px,#f4ff00 0 539.4px,#fffb00 0 562.8px,#ffee00 0 586.2px,#ffe100 0 609.7px,#ffd400 0 633.1px,#ffc800 0 656.6px,#ffbd00 0 680.0px,#ffb200 0 703.5px,#ffa800 0 726.9px,#ff9f00 0 750.4px,#ff9600 0 773.9px,#ff8d00 0 797.3px,#ff8500 0 820.8px,#ff7e00 0 844.2px,#ff7700 0 867.6px,#ff7100 0 891.1px,#ff6c00 0 914.5px,#ff6700 0 938.0px,#ff6200 0 961.4px,#ff5f00 0 984.9px,#ff5b00 0 1008.4px,#ff5900 0 1031.8px,#ff5700 0 1055.2px,#ff5500 0 1078.7px,#ff5400 0 1102.1px,#ff5400 0 1125.6px,#ff5400 0 1149.0px,#ff5500 0 1172.5px,#ff5700 0 1196.0px,#ff5900 0 1219.4px,#ff5b00 0 1242.8px,#ff5e00 0 1266.3px,#ff6200 0 1289.8px,#ff6600 0 1313.2px,#ff6b00 0 1336.6px,#ff7100 0 1360.1px,#ff7700 0 1383.5px,#ff7d00 0 1407.0px,#ff8500 0 1430.5px,#ff8c00 0 1453.9px,#ff9500 0 1477.3px,#ff9e00 0 1500.8px,#ffa700 0 1524.2px,#ffb100 0 1547.7px,#ffbc00 0 1571.1px,#ffc700 0 1594.6px,#ffd300 0 1618.0px,#ffe000 0 1641.5px,#ffed00 0 1665.0px,#fffa00 0 1688.4px,#f5ff00 0 1711.8px,#e6ff00 0 1735.3px,#d6ff00 0 1758.8px,#c6ff00 0 1782.2px,#b5ff00 0 1805.6px,#a4ff00 0 1829.1px,#92ff00 0 1852.5px,#7fff00 0 1876.0px)"></div>
<div style="top:492.45px;background:linear-gradient(90deg,#00ffd2 0 23.4px,#00ffb7 0 46.9px,#00ff9d 0 70.3px,#00ff83 0 93.8px,#00ff6a 0 117.2px,#00ff52 0 140.7px,#00ff3a 0 164.2px,#00ff23 0 187.6px,#00ff0c 0 211.0px,#0aff00 0 234.5px,#20ff00 0 257.9px,#36ff00 0 281.4px,#4bff00 0 304.8px,#5fff00 0 328.3px,#73ff00 0 351.8px,#87ff00 0 375.2px,#99ff00 0 398.6px,#abff00 0 422.1px,#bdff00 0 445.6px,#ceff00 0 469.0px,#deff00 0 492.4px,#eeff00 0 515.9px,#fdff00 0 539.4px,#fff300 0 562.8px,#ffe600 0 586.2px,#ffd900 0 609.7px,#ffcc00 0 633.1px,#ffc000 0 656.6px,#ffb500 0 680.0px,#ffaa00 0 703.5px,#ffa000 0 726.9px,#ff9700 0 750.4px,#ff8e00 0 773.9px,#ff8600 0 797.3px,#ff7e00 0 820.8px,#ff7700 0 844.2px,#ff7000 0 867.6px,#ff6a00 0 891.1px,#ff6400 0 914.5px,#ff6000 0 938.0px,#ff5b00 0 961.4px,#ff5800 0 984.9px,#ff5400 0 1008.4px,#ff5200 0 1031.8px,#ff5000 0 1055.2px,#ff4e00 0 1078.7px,#ff4e00 0 1102.1px,#ff4d00 0 1125.6px,#ff4e00 0 1149.0px,#ff4f00 0 1172.5px,#ff5000 0 1196.0px,#ff5200 0 1219.4px,#ff5500 0 1242.8px,#ff5800 0 1266.3px,#ff5c00 0 1289.8px,#ff6000 0 1313.2px,#ff6500 0 1336.6px,#ff6b00 0 1360.1px,#ff7100 0 1383.5px,#ff7800 0 1407.0px,#ff7f00 0 1430.5px,#ff8700 0 1453.9px,#ff8f00 0 1477.3px,#ff9800 0 1500.8px,#ffa200 0 1524.2px,#ffac00 0 1547.7px,#ffb700 0 1571.1px,#ffc200 0 1594.6px,#ffce00 0 1618.0px,#ffdb00 0 1641.5px,#ffe800 0 1665.0px,#fff500 0 1688.4px,#faff00 0 1711.8px,#ebff00 0 1735.3px,#dbff00 0 1758.8px,#cbff00 0 1782.2px,#baff00 0 1805.6px,#a9ff00 0 1829.1px,#96ff00 0 1852.5px,#84ff00 0 1876.0px)"></div>
<div style="top:515.90px;background:linear-gradient(90deg,#00ffc8 0 23.4px,#00ffae 0 46.9px,#00ff94 0 70.3px,#00ff7a 0 93.8px,#00ff61 0 117.2px,#00ff49 0 140.7px,#00ff31 0 164.2px,#00ff1a 0 187.6px,#00ff03 0 211.0px,#13ff00 0 234.5px,#29ff00 0 257.9px,#3fff00 0 281.4px,#54ff00 0 304.8px,#68ff00 0 328.3px,#7cff00 0 351.8px,#8fff00 0 375.2px,#a2ff00 0 398.6px,#b4ff00 0 422.1px,#c5ff00 0 445.6px,#d6ff00 0 469.0px,#e6ff00 0 492.4px,#f6ff00 0 515.9px,#fff900 0 539.4px,#ffeb00 0 562.8px,#ffde00 0 586.2px,#ffd100 0 609.7px,#ffc400 0 633.1px,#ffb900 0 656.6px,#ffad00 0 680.0px,#ffa300 0 703.5px,#ff9900 0 726.9px,#ff8f00 0 750.4px,#ff8700 0 773.9px,#ff7e00 0 797.3px,#ff7700 0 820.8px,#ff6f00 0 844.2px,#ff6900 0 867.6px,#ff6300 0 891.1px,#ff5e00 0 914.5px,#ff5900 0 938.0px,#ff5400 0 961.4px,#ff5100 0 984.9px,#ff4e00 0 1008.4px,#ff4b00 0 1031.8px,#ff4900 0 1055.2px,#ff4800 0 1078.7px,#ff4700 0 1102.1px,#ff4700 0 1125.6px,#ff4700 0 1149.0px,#ff4800 0 1172.5px,#ff4a00 0 1196.0px,#ff4c00 0 1219.4px,#ff4f00 0 1242.8px,#ff5200 0 1266.3px,#ff5600 0 1289.8px,#ff5a00 0 1313.2px,#ff6000 0 1336.6px,#ff6500 0 1360.1px,#ff6b00 0 1383.5px,#ff7200 0 1407.0px,#ff7900 0 1430.5px,#ff8100 0 1453.9px,#ff8a00 0 1477.3px,#ff9300 0 1500.8px,#ff9d00 0 1524.2px,#ffa700 0 1547.7px,#ffb200 0 1571.1px,#ffbd00 0 1594.6px,#ffc900 0 1618.0px,#ffd600 0 1641.5px,#ffe300 0 1665.0px,#fff100 0 1688.4px,#ffff00 0 1711.8px,#f0ff00 0 1735.3px,#e0ff00 0 1758.8px,#d0ff00 0 1782.2px,#bfff00 0 1805.6px,#adff00 0 1829.1px,#9bff00 0 1852.5px,#88ff00 0 1876.0px)"></div>
<div style="top:539.35px;background:linear-gradient(90deg,#00ffbf 0 23.4px,#00ffa5 0 46.9px,#00ff8b 0 70.3px,#00ff71 0 93.8px,#00ff58 0 117.2px,#00ff40 0 140.7px,#00ff28 0 164.2px,#00ff11 0 187.6px,#05ff00 0 211.0px,#1cff00 0 234.5px,#32ff00 0 257.9px,#48ff00 0 281.4px,#5cff00 0 304.8px,#71ff00 0 328.3px,#84ff00 0 351.8px,#98ff00 0 375.2px,#aaff00 0 398.6px,#bcff00 0 422.1px,#cdff00 0 445.6px,#deff00 0 469.0px,#eeff00 0 492.4px,#feff00 0 515.9px,#fff200 0 539.4px,#ffe400 0 562.8px,#ffd600 0 586.2px,#ffc900 0 609.7px,#ffbd00 0 633.1px,#ffb100 0 656.6px,#ffa600 0 680.0px,#ff9c00 0 703.5px,#ff9200 0 726.9px,#ff8800 0 750.4px,#ff8000 0 773.9px,#ff7700 0 797.3px,#ff7000 0 820.8px,#ff6900 0 844.2px,#ff6200 0 867.6px,#ff5c00 0 891.1px,#ff5700 0 914.5px,#ff5200 0 938.0px,#ff4e00 0 961.4px,#ff4a00 0 984.9px,#ff4700 0 1008.4px,#ff4500 0 1031.8px,#ff4300 0 1055.2px,#ff4200 0 1078.7px,#ff4100 0 1102.1px,#ff4100 0 1125.6px,#ff4200 0 1149.0px,#ff4300 0 1172.5px,#ff4400 0 1196.0px,#ff4600 0 1219.4px,#ff4900 0 1242.8px,#ff4d00 0 1266.3px,#ff5100 0 1289.8px,#ff5500 0 1313.2px,#ff5a00 0 1336.6px,#ff6000 0 1360.1px,#ff6600 0 1383.5px,#ff6d00 0 1407.0px,#ff7400 0 1430.5px,#ff7c00 0 1453.9px,#ff8500 0 1477.3px,#ff8e00 0 1500.8px,#ff9800 0 1524.2px,#ffa200 0 1547.7px,#ffad00 0 1571.1px,#ffb900 0 1594.6px,#ffc500 0 1618.0px,#ffd100 0 1641.5px,#ffde00 0 1665.0px,#ffec00 0 1688.4px,#fffb00 0 1711.8px,#f4ff00 0 1735.3px,#e4ff00 0 1758.8px,#d4ff00 0 1782.2px,#c3ff00 0 1805.6px,#b1ff00 0 1829.1px,#9fff00 0 1852.5px,#8cff00 0 1876.0px)"></div>
<div style="top:562.80px;background:linear-gradient(90deg,#00ffb6 0 23.4px,#00ff9c 0 46.9px,#00ff82 0 70.3px,#00ff69 0 93.8px,#00ff50 0 117.2px,#00ff38 0 140.7px,#00ff20 0 164.2px,#00ff09 0 187.6px,#0eff00 0 211.0px,#24ff00 0 234.5px,#3aff00 0 257.9px,#50ff00 0 281.4px,#65ff00 0 304.8px,#79ff00 0 328.3px,#8dff00 0 351.8px,#a0ff00 0 375.2px,#b2ff00 0 398.6px,#c4ff00 0 422.1px,#d5ff00 0 445.6px,#e6ff00 0 469.0px,#f6ff00 0 492.4px,#fff900 0 515.9px,#ffea00 0 539.4px,#ffdc00 0 562.8px,#ffcf00 0 586.2px,#ffc200 0 609.7px,#ffb600 0 633.1px,#ffaa00 0 656.6px,#ff9f00 0 680.0px,#ff9500 0 703.5px,#ff8b00 0 726.9px,#ff8200 0 750.4px,#ff7900 0 773.9px,#ff7100 0 797.3px,#ff6900 0 820.8px,#ff6200 0 844.2px,#ff5c00 0 867.6px,#ff5600 0 891.1px,#ff5100 0 914.5px,#ff4c00 0 938.0px,#ff4800 0 961.4px,#ff4400 0 984.9px,#ff4100 0 1008.4px,#ff3f00 0 1031.8px,#ff3d00 0 1055.2px,#ff3c00 0 1078.7px,#ff3b00 0 1102.1px,#ff3b00 0 1125.6px,#ff3c00 0 1149.0px,#ff3d00 0 1172.5px,#ff3f00 0 1196.0px,#ff4100 0 1219.4px,#ff4400 0 1242.8px,#ff4700 0 1266.3px,#ff4b00 0 1289.8px,#ff5000 0 1313.2px,#ff5500 0 1336.6px,#ff5b00 0 1360.1px,#ff6100 0 1383.5px,#ff6800 0 1407.0px,#ff7000 0 1430.5px,#ff7800 0 1453.9px,#ff8000 0 1477.3px,#ff8a00 0 1500.8px,#ff9300 0 1524.2px,#ff9e00 0 1547.7px,#ffa900 0 1571.1px,#ffb400 0 1594.6px,#ffc000 0 1618.0px,#ffcd00 0 1641.5px,#ffda00 0 1665.0px,#ffe800 0 1688.4px,#fff700 0 1711.8px,#f8ff00 0 1735.3px,#e8ff00 0 1758.8px,#d8ff00 0 1782.2px,#c6ff00 0 1805.6px,#b5ff00 0 1829.1px,#a2ff00 0 1852.5px,#8fff00 0 1876.0px)"></div>
<div style="top:586.25px;background:linear-gradient(90deg,#00ffae 0 23.4px,#00ff93 0 46.9px,#00ff7a 0 70.3px,#00ff60 0 93.8px,#00ff48 0 117.2px,#00ff30 0 140.7px,#00ff18 0 164.2px,#00ff01 0 187.6px,#16ff00 0 211.0px,#2dff00 0 234.5px,#42ff00 0 257.9px,#58ff00 0 281.4px,#6dff00 0 304.8px,#81ff00 0 328.3px,#94ff00 0 351.8px,#a7ff00 0 375.2px,#baff00 0 398.6px,#cbff00 0 422.1px,#ddff00 0 445.6px,#edff00 0 469.0px,#fdff00 0 492.4px,#fff200 0 515.9px,#ffe300 0 539.4px,#ffd500 0 562.8px,#ffc800 0 586.2px,#ffbb00 0 609.7px,#ffaf00 0 633.1px,#ffa400 0 656.6px,#ff9900 0 680.0px,#ff8e00 0 703.5px,#ff8500 0 726.9px,#ff7b00 0 750.4px,#ff7300 0 773.9px,#ff6b00 0 797.3px,#ff6300 0 820.8px,#ff5c00 0 844.2px,#ff5600 0 867.6px,#ff5000 0 891.1px,#ff4b00 0 914.5px,#ff4600 0 938.0px,#ff4200 0 961.4px,#ff3f00 0 984.9px,#ff3c00 0 1008.4px,#ff3a00 0 1031.8px,#ff3800 0 1055.2px,#ff3700 0 1078.7px,#ff3600 0 1102.1px,#ff3600 0 1125.6px,#ff3700 0 1149.0px,#ff3800 0 1172.5px,#ff3a00 0 1196.0px,#ff3c00 0 1219.4px,#ff3f00 0 1242.8px,#ff4300 0 1266.3px,#ff4700 0 1289.8px,#ff4b00 0 1313.2px,#ff5000 0 1336.6px,#ff5600 0 1360.1px,#ff5d00 0 1383.5px,#ff6400 0 1407.0px,#ff6b00 0 1430.5px,#ff7300 0 1453.9px,#ff7c00 0 1477.3px,#ff8500 0 1500.8px,#ff8f00 0 1524.2px,#ff9a00 0 1547.7px,#ffa500 0 1571.1px,#ffb000 0 1594.6px,#ffbd00 0 1618.0px,#ffc900 0 1641.5px,#ffd700 0 1665.0px,#ffe500 0 1688.4px,#fff300 0 1711.8px,#fcff00 0 1735.3px,#ecff00 0 1758.8px,#dbff00 0 1782.2px,#caff00 0 1805.6px,#b8ff00 0 1829.1px,#a5ff00 0 1852.5px,#92ff00 0 1876.0px)"></div>
<div style="top:609.70px;background:linear-gradient(90deg,#00ffa6 0 23.4px,#00ff8b 0 46.9px,#00ff72 0 70.3px,#00ff59 0 93.8px,#00ff40 0 117.2px,#00ff28 0 140.7px,#00ff10 0 164.2px,#07ff00 0 187.6px,#1eff00 0 211.0px,#34ff00 0 234.5px,#4aff00 0 257.9px,#5fff00 0 281.4px,#74ff00 0 304.8px,#88ff00 0 328.3px,#9cff00 0 351.8px,#afff00 0 375.2px,#c1ff00 0 398.6px,#d3ff00 0 422.1px,#e4ff00 0 445.6px,#f4ff00 0 469.0px,#fffa00 0 492.4px,#ffeb00 0 515.9px,#ffdd00 0 539.4px,#ffcf00 0 562.8px,#ffc200 0 586.2px,#ffb500 0 609.7px,#ffa900 0 633.1px,#ff9d00 0 656.6px,#ff9300 0 680.0px,#ff8800 0 703.5px,#ff7e00 0 726.9px,#ff7500 0 750.4px,#ff6d00 0 773.9px,#ff6500 0 797.3px,#ff5d00 0 820.8px,#ff5600 0 844.2px,#ff5000 0 867.6px,#ff4a00 0 891.1px,#ff4500 0 914.5px,#ff4100 0 938.0px,#ff3d00 0 961.4px,#ff3900 0 984.9px,#ff3700 0 1008.4px,#ff3400 0 1031.8px,#ff3300 0 1055.2px,#ff3200 0 1078.7px,#ff3100 0 1102.1px,#ff3100 0 1125.6px,#ff3200 0 1149.0px,#ff3300 0 1172.5px,#ff3500 0 1196.0px,#ff3700 0 1219.4px,#ff3a00 0 1242.8px,#ff3e00 0 1266.3px,#ff4200 0 1289.8px,#ff4700 0 1313.2px,#ff4c00 0 1336.6px,#ff5200 0 1360.1px,#ff5900 0 1383.5px,#ff6000 0 1407.0px,#ff6700 0 1430.5px,#ff6f00 0 1453.9px,#ff7800 0 1477.3px,#ff8200 0 1500.8px,#ff8c00 0 1524.2px,#ff9600 0 1547.7px,#ffa100 0 1571.1px,#ffad00 0 1594.6px,#ffb900 0 1618.0px,#ffc600 0 1641.5px,#ffd300 0 1665.0px,#ffe100 0 1688.4px,#fff000 0 1711.8px,#ffff00 0 1735.3px,#efff00 0 1758.8px,#deff00 0 1782.2px,#cdff00 0 1805.6px,#bbff00 0 1829.1px,#a8ff00 0 1852.5px,#95ff00 0 1876.0px)"></div>
<div style="top:633.15px;background:linear-gradient(90deg,#00ff9e 0 23.4px,#00ff84 0 46.9px,#00ff6a 0 70.3px,#00ff51 0 93.8px,#00ff38 0 117.2px,#00ff20 0 140.7px,#00ff09 0 164.2px,#0eff00 0 187.6px,#25ff00 0 211.0px,#3cff00 0 234.5px,#51ff00 0 257.9px,#67ff00 0 281.4px,#7bff00 0 304.8px,#8fff00 0 328.3px,#a3ff00 0 351.8px,#b5ff00 0 375.2px,#c8ff00 0 398.6px,#d9ff00 0 422.1px,#eaff00 0 445.6px,#fbff00 0 469.0px,#fff400 0 492.4px,#ffe500 0 515.9px,#ffd600 0 539.4px,#ffc900 0 562.8px,#ffbb00 0 586.2px,#ffaf00 0 609.7px,#ffa300 0 633.1px,#ff9700 0 656.6px,#ff8d00 0 680.0px,#ff8200 0 703.5px,#ff7900 0 726.9px,#ff7000 0 750.4px,#ff6700 0 773.9px,#ff5f00 0 797.3px,#ff5800 0 820.8px,#ff5100 0 844.2px,#ff4b00 0 867.6px,#ff4500 0 891.1px,#ff4000 0 914.5px,#ff3c00 0 938.0px,#ff3800 0 961.4px,#ff3400 0 984.9px,#ff3200 0 1008.4px,#ff3000 0 1031.8px,#ff2e00 0 1055.2px,#ff2d00 0 1078.7px,#ff2d00 0 1102.1px,#ff2d00 0 1125.6px,#ff2d00 0 1149.0px,#ff2f00 0 1172.5px,#ff3100 0 1196.0px,#ff3300 0 1219.4px,#ff3600 0 1242.8px,#ff3a00 0 1266.3px,#ff3e00 0 1289.8px,#ff4300 0 1313.2px,#ff4800 0 1336.6px,#ff4e00 0 1360.1px,#ff5500 0 1383.5px,#ff5c00 0 1407.0px,#ff6400 0 1430.5px,#ff6c00 0 1453.9px,#ff7500 0 1477.3px,#ff7e00 0 1500.8px,#ff8800 0 1524.2px,#ff9300 0 1547.7px,#ff9e00 0 1571.1px,#ffaa00 0 1594.6px,#ffb600 0 1618.0px,#ffc300 0 1641.5px,#ffd000 0 1665.0px,#ffde00 0 1688.4px,#ffed00 0 1711.8px,#fffc00 0 1735.3px,#f2ff00 0 1758.8px,#e1ff00 0 1782.2px,#cfff00 0 1805.6px,#bdff00 0 1829.1px,#abff00 0 1852.5px,#98ff00 0 1876.0px)"></div>
<div style="top:656.60px;background:linear-gradient(90deg,#00ff97 0 23.4px,#00ff7d 0 46.9px,#00ff63 0 70.3px,#00ff4a 0 93.8px,#00ff31 0 117.2px,#00ff19 0 140.7px,#00ff02 0 164.2px,#15ff00 0 187.6px,#2cff00 0 211.0px,#43ff00 0 234.5px,#58ff00 0 257.9px,#6dff00 0 281.4px,#82ff00 0 304.8px,#96ff00 0 328.3px,#a9ff00 0 351.8px,#bcff00 0 375.2px,#ceff00 0 398.6px,#e0ff00 0 422.1px,#f1ff00 0 445.6px,#fffd00 0 469.0px,#ffee00 0 492.4px,#ffdf00 0 515.9px,#ffd000 0 539.4px,#ffc300 0 562.8px,#ffb600 0 586.2px,#ffa900 0 609.7px,#ff9d00 0 633.1px,#ff9200 0 656.6px,#ff8700 0 680.0px,#ff7d00 0 703.5px,#ff7300 0 726.9px,#ff6a00 0 750.4px,#ff6200 0 773.9px,#ff5a00 0 797.3px,#ff5300 0 820.8px,#ff4c00 0 844.2px,#ff4600 0 867.6px,#ff4000 0 891.1px,#ff3b00 0 914.5px,#ff3700 0 938.0px,#ff3300 0 961.4px,#ff3000 0 984.9px,#ff2d00 0 1008.4px,#ff2b00 0 1031.8px,#ff2a00 0 1055.2px,#ff2900 0 1078.7px,#ff2800 0 1102.1px,#ff2800 0 1125.6px,#ff2900 0 1149.0px,#ff2b00 0 1172.5px,#ff2d00 0 1196.0px,#ff2f00 0 1219.4px,#ff3200 0 1242.8px,#ff3600 0 1266.3px,#ff3a00 0 1289.8px,#ff3f00 0 1313.2px,#ff4500 0 1336.6px,#ff4b00 0 1360.1px,#ff5100 0 1383.5px,#ff5800 0 1407.0px,#ff6000 0 1430.5px,#ff6900 0 1453.9px,#ff7100 0 1477.3px,#ff7b00 0 1500.8px,#ff8500 0 1524.2px,#ff9000 0 1547.7px,#ff9b00 0 1571.1px,#ffa700 0 1594.6px,#ffb300 0 1618.0px,#ffc000 0 1641.5px,#ffce00 0 1665.0px,#ffdc00 0 1688.4px,#ffeb00 0 1711.8px,#fffa00 0 1735.3px,#f4ff00 0 1758.8px,#e3ff00 0 1782.2px,#d2ff00 0 1805.6px,#c0ff00 0 1829.1px,#adff00 0 1852.5px,#9aff00 0 1876.0px)"></div>
<div style="top:680.05px;background:linear-gradient(90deg,#00ff90 0 23.4px,#00ff76 0 46.9px,#00ff5c 0 70.3px,#00ff43 0 93.8px,#00ff2b 0 117.2px,#00ff13 0 140.7px,#05ff00 0 164.2px,#1cff00 0 187.6px,#33ff00 0 211.0px,#49ff00 0 234.5px,#5fff00 0 257.9px,#74ff00 0 281.4px,#88ff00 0 304.8px,#9cff00 0 328.3px,#b0ff00 0 351.8px,#c2ff00 0 375.2px,#d4ff00 0 398.6px,#e6ff00 0 422.1px,#f7ff00 0 445.6px,#fff700 0 469.0px,#ffe800 0 492.4px,#ffd900 0 515.9px,#ffcb00 0 539.4px,#ffbd00 0 562.8px,#ffb000 0 586.2px,#ffa400 0 609.7px,#ff9800 0 633.1px,#ff8d00 0 656.6px,#ff8200 0 680.0px,#ff7800 0 703.5px,#ff6e00 0 726.9px,#ff6500 0 750.4px,#ff5d00 0 773.9px,#ff5500 0 797.3px,#ff4e00 0 820.8px,#ff4700 0 844.2px,#ff4100 0 867.6px,#ff3c00 0 891.1px,#ff3700 0 914.5px,#ff3200 0 938.0px,#ff2f00 0 961.4px,#ff2c00 0 984.9px,#ff2900 0 1008.4px,#ff2700 0 1031.8px,#ff2500 0 1055.2px,#ff2500 0 1078.7px,#ff2400 0 1102.1px,#ff2500 0 1125.6px,#ff2600 0 1149.0px,#ff2700 0 1172.5px,#ff2900 0 1196.0px,#ff2c00 0 1219.4px,#ff2f00 0 1242.8px,#ff3300 0 1266.3px,#ff3700 0 1289.8px,#ff3c00 0 1313.2px,#ff4100 0 1336.6px,#ff4700 0 1360.1px,#ff4e00 0 1383.5px,#ff5500 0 1407.0px,#ff5d00 0 1430.5px,#ff6600 0 1453.9px,#ff6f00 0 1477.3px,#ff7800 0 1500.8px,#ff8200 0 1524.2px,#ff8d00 0 1547.7px,#ff9800 0 1571.1px,#ffa400 0 1594.6px,#ffb100 0 1618.0px,#ffbe00 0 1641.5px,#ffcb00 0 1665.0px,#ffda00 0 1688.4px,#ffe800 0 1711.8px,#fff800 0 1735.3px,#f6ff00 0 1758.8px,#e5ff00 0 1782.2px,#d4ff00 0 1805.6px,#c2ff00 0 1829.1px,#afff00 0 1852.5px,#9cff00 0 1876.0px)"></div>
<div style="top:703.50px;background:linear-gradient(90deg,#00ff89 0 23.4px,#00ff6f 0 46.9px,#00ff55 0 70.3px,#00ff3d 0 93.8px,#00ff24 0 117.2px,#00ff0c 0 140.7px,#0bff00 0 164.2px,#22ff00 0 187.6px,#39ff00 0 211.0px,#4fff00 0 234.5px,#65ff00 0 257.9px,#7aff00 0 281.4px,#8eff00 0 304.8px,#a2ff00 0 328.3px,#b5ff00 0 351.8px,#c8ff00 0 375.2px,#daff00 0 398.6px,#ebff00 0 422.1px,#fcff00 0 445.6px,#fff200 0 469.0px,#ffe200 0 492.4px,#ffd400 0 515.9px,#ffc600 0 539.4px,#ffb800 0 562.8px,#ffab00 0 586.2px,#ff9f00 0 609.7px,#ff9300 0 633.1px,#ff8800 0 656.6px,#ff7d00 0 680.0px,#ff7300 0 703.5px,#ff6a00 0 726.9px,#ff6100 0 750.4px,#ff5800 0 773.9px,#ff5100 0 797.3px,#ff4a00 0 820.8px,#ff4300 0 844.2px,#ff3d00 0 867.6px,#ff3800 0 891.1px,#ff3300 0 914.5px,#ff2e00 0 938.0px,#ff2b00 0 961.4px,#ff2800 0 984.9px,#ff2500 0 1008.4px,#ff2300 0 1031.8px,#ff2200 0 1055.2px,#ff2100 0 1078.7px,#ff2100 0 1102.1px,#ff2100 0 1125.6px,#ff2200 0 1149.0px,#ff2400 0 1172.5px,#ff2600 0 1196.0px,#ff2800 0 1219.4px,#ff2c00 0 1242.8px,#ff2f00 0 1266.3px,#ff3400 0 1289.8px,#ff3900 0 1313.2px,#ff3e00 0 1336.6px,#ff4500 0 1360.1px,#ff4b00 0 1383.5px,#ff5300 0 1407.0px,#ff5b00 0 1430.5px,#ff6300 0 1453.9px,#ff6c00 0 1477.3px,#ff7600 0 1500.8px,#ff8000 0 1524.2px,#ff8b00 0 1547.7px,#ff9600 0 1571.1px,#ffa200 0 1594.6px,#ffaf00 0 1618.0px,#ffbc00 0 1641.5px,#ffc900 0 1665.0px,#ffd800 0 1688.4px,#ffe700 0 1711.8px,#fff600 0 1735.3px,#f8ff00 0 1758.8px,#e7ff00 0 1782.2px,#d5ff00 0 1805.6px,#c3ff00 0 1829.1px,#b0ff00 0 1852.5px,#9dff00 0 1876.0px)"></div>
<div style="top:726.95px;background:linear-gradient(90deg,#00ff83 0 23.4px,#00ff69 0 46.9px,#00ff4f 0 70.3px,#00ff36 0 93.8px,#00ff1e 0 117.2px,#00ff06 0 140.7px,#11ff00 0 164.2px,#28ff00 0 187.6px,#3fff00 0 211.0px,#55ff00 0 234.5px,#6bff00 0 257.9px,#80ff00 0 281.4px,#94ff00 0 304.8px,#a8ff00 0 328.3px,#bbff00 0 351.8px,#cdff00 0 375.2px,#dfff00 0 398.6px,#f1ff00 0 422.1px,#fffc00 0 445.6px,#ffed00 0 469.0px,#ffdd00 0 492.4px,#ffcf00 0 515.9px,#ffc100 0 539.4px,#ffb300 0 562.8px,#ffa600 0 586.2px,#ff9a00 0 609.7px,#ff8e00 0 633.1px,#ff8300 0 656.6px,#ff7900 0 680.0px,#ff6f00 0 703.5px,#ff6500 0 726.9px,#ff5c00 0 750.4px,#ff5400 0 773.9px,#ff4d00 0 797.3px,#ff4500 0 820.8px,#ff3f00 0 844.2px,#ff3900 0 867.6px,#ff3400 0 891.1px,#ff2f00 0 914.5px,#ff2b00 0 938.0px,#ff2700 0 961.4px,#ff2400 0 984.9px,#ff2200 0 1008.4px,#ff2000 0 1031.8px,#ff1e00 0 1055.2px,#ff1e00 0 1078.7px,#ff1e00 0 1102.1px,#ff1e00 0 1125.6px,#ff1f00 0 1149.0px,#ff2100 0 1172.5px,#ff2300 0 1196.0px,#ff2600 0 1219.4px,#ff2900 0 1242.8px,#ff2d00 0 1266.3px,#ff3100 0 1289.8px,#ff3600 0 1313.2px,#ff3c00 0 1336.6px,#ff4200 0 1360.1px,#ff4900 0 1383.5px,#ff5000 0 1407.0px,#ff5800 0 1430.5px,#ff6100 0 1453.9px,#ff6a00 0 1477.3px,#ff7400 0 1500.8px,#ff7e00 0 1524.2px,#ff8900 0 1547.7px,#ff9400 0 1571.1px,#ffa000 0 1594.6px,#ffad00 0 1618.0px,#ffba00 0 1641.5px,#ffc800 0 1665.0px,#ffd600 0 1688.4px,#ffe500 0 1711.8px,#fff500 0 1735.3px,#f9ff00 0 1758.8px,#e8ff00 0 1782.2px,#d6ff00 0 1805.6px,#c4ff00 0 1829.1px,#b1ff00 0 1852.5px,#9eff00 0 1876.0px)"></div>
<div style="top:750.40px;background:linear-gradient(90deg,#00ff7d 0 23.4px,#00ff63 0 46.9px,#00ff49 0 70.3px,#00ff31 0 93.8px,#00ff19 0 117.2px,#00ff01 0 140.7px,#17ff00 0 164.2px,#2eff00 0 187.6px,#45ff00 0 211.0px,#5bff00 0 234.5px,#70ff00 0 257.9px,#85ff00 0 281.4px,#99ff00 0 304.8px,#adff00 0 328.3px,#c0ff00 0 351.8px,#d3ff00 0 375.2px,#e4ff00 0 398.6px,#f6ff00 0 422.1px,#fff800 0 445.6px,#ffe800 0 469.0px,#ffd900 0 492.4px,#ffca00 0 515.9px,#ffbc00 0 539.4px,#ffaf00 0 562.8px,#ffa200 0 586.2px,#ff9600 0 609.7px,#ff8a00 0 633.1px,#ff7f00 0 656.6px,#ff7500 0 680.0px,#ff6b00 0 703.5px,#ff6100 0 726.9px,#ff5900 0 750.4px,#ff5000 0 773.9px,#ff4900 0 797.3px,#ff4200 0 820.8px,#ff3b00 0 844.2px,#ff3500 0 867.6px,#ff3000 0 891.1px,#ff2b00 0 914.5px,#ff2700 0 938.0px,#ff2400 0 961.4px,#ff2100 0 984.9px,#ff1e00 0 1008.4px,#ff1d00 0 1031.8px,#ff1b00 0 1055.2px,#ff1b00 0 1078.7px,#ff1b00 0 1102.1px,#ff1b00 0 1125.6px,#ff1c00 0 1149.0px,#ff1e00 0 1172.5px,#ff2000 0 1196.0px,#ff2300 0 1219.4px,#ff2600 0 1242.8px,#ff2a00 0 1266.3px,#ff2f00 0 1289.8px,#ff3400 0 1313.2px,#ff3a00 0 1336.6px,#ff4000 0 1360.1px,#ff4700 0 1383.5px,#ff4e00 0 1407.0px,#ff5600 0 1430.5px,#ff5f00 0 1453.9px,#ff6800 0 1477.3px,#ff7200 0 1500.8px,#ff7c00 0 1524.2px,#ff8700 0 1547.7px,#ff9300 0 1571.1px,#ff9f00 0 1594.6px,#ffac00 0 1618.0px,#ffb900 0 1641.5px,#ffc700 0 1665.0px,#ffd500 0 1688.4px,#ffe400 0 1711.8px,#fff400 0 1735.3px,#faff00 0 1758.8px,#e9ff00 0 1782.2px,#d7ff00 0 1805.6px,#c5ff00 0 1829.1px,#b2ff00 0 1852.5px,#9eff00 0 1876.0px)"></div>
<div style="top:773.85px;background:linear-gradient(90deg,#00ff77 0 23.4px,#00ff5d 0 46.9px,#00ff44 0 70.3px,#00ff2b 0 93.8px,#00ff13 0 117.2px,#05ff00 0 140.7px,#1cff00 0 164.2px,#33ff00 0 187.6px,#4aff00 0 211.0px,#60ff00 0 234.5px,#75ff00 0 257.9px,#8aff00 0 281.4px,#9eff00 0 304.8px,#b2ff00 0 328.3px,#c5ff00 0 351.8px,#d7ff00 0 375.2px,#e9ff00 0 398.6px,#faff00 0 422.1px,#fff300 0 445.6px,#ffe400 0 469.0px,#ffd500 0 492.4px,#ffc600 0 515.9px,#ffb800 0 539.4px,#ffab00 0 562.8px,#ff9e00 0 586.2px,#ff9200 0 609.7px,#ff8600 0 633.1px,#ff7b00 0 656.6px,#ff7100 0 680.0px,#ff6700 0 703.5px,#ff5e00 0 726.9px,#ff5500 0 750.4px,#ff4d00 0 773.9px,#ff4500 0 797.3px,#ff3e00 0 820.8px,#ff3800 0 844.2px,#ff3200 0 867.6px,#ff2d00 0 891.1px,#ff2800 0 914.5px,#ff2400 0 938.0px,#ff2100 0 961.4px,#ff1e00 0 984.9px,#ff1c00 0 1008.4px,#ff1a00 0 1031.8px,#ff1900 0 1055.2px,#ff1800 0 1078.7px,#ff1800 0 1102.1px,#ff1900 0 1125.6px,#ff1a00 0 1149.0px,#ff1c00 0 1172.5px,#ff1e00 0 1196.0px,#ff2100 0 1219.4px,#ff2400 0 1242.8px,#ff2800 0 1266.3px,#ff2d00 0 1289.8px,#ff3200 0 1313.2px,#ff3800 0 1336.6px,#ff3e00 0 1360.1px,#ff4500 0 1383.5px,#ff4d00 0 1407.0px,#ff5500 0 1430.5px,#ff5e00 0 1453.9px,#ff6700 0 1477.3px,#ff7100 0 1500.8px,#ff7b00 0 1524.2px,#ff8600 0 1547.7px,#ff9200 0 1571.1px,#ff9e00 0 1594.6px,#ffab00 0 1618.0px,#ffb800 0 1641.5px,#ffc600 0 1665.0px,#ffd400 0 1688.4px,#ffe300 0 1711.8px,#fff300 0 1735.3px,#fbff00 0 1758.8px,#eaff00 0 1782.2px,#d8ff00 0 1805.6px,#c5ff00 0 1829.1px,#b2ff00 0 1852.5px,#9fff00 0 1876.0px)"></div>
<div style="top:797.30px;background:linear-gradient(90deg,#00ff72 0 23.4px,#00ff58 0 46.9px,#00ff3f 0 70.3px,#00ff26 0 93.8px,#00ff0e 0 117.2px,#0aff00 0 140.7px,#21ff00 0 164.2px,#38ff00 0 187.6px,#4fff00 0 211.0px,#65ff00 0 234.5px,#7aff00 0 257.9px,#8fff00 0 281.4px,#a3ff00 0 304.8px,#b6ff00 0 328.3px,#c9ff00 0 351.8px,#dcff00 0 375.2px,#edff00 0 398.6px,#ffff00 0 422.1px,#ffef00 0 445.6px,#ffe000 0 469.0px,#ffd100 0 492.4px,#ffc200 0 515.9px,#ffb400 0 539.4px,#ffa700 0 562.8px,#ff9a00 0 586.2px,#ff8e00 0 609.7px,#ff8300 0 633.1px,#ff7800 0 656.6px,#ff6d00 0 680.0px,#ff6400 0 703.5px,#ff5a00 0 726.9px,#ff5200 0 750.4px,#ff4a00 0 773.9px,#ff4200 0 797.3px,#ff3b00 0 820.8px,#ff3500 0 844.2px,#ff2f00 0 867.6px,#ff2a00 0 891.1px,#ff2600 0 914.5px,#ff2200 0 938.0px,#ff1e00 0 961.4px,#ff1b00 0 984.9px,#ff1900 0 1008.4px,#ff1800 0 1031.8px,#ff1600 0 1055.2px,#ff1600 0 1078.7px,#ff1600 0 1102.1px,#ff1700 0 1125.6px,#ff1800 0 1149.0px,#ff1a00 0 1172.5px,#ff1c00 0 1196.0px,#ff1f00 0 1219.4px,#ff2300 0 1242.8px,#ff2700 0 1266.3px,#ff2b00 0 1289.8px,#ff3100 0 1313.2px,#ff3600 0 1336.6px,#ff3d00 0 1360.1px,#ff4400 0 1383.5px,#ff4b00 0 1407.0px,#ff5400 0 1430.5px,#ff5c00 0 1453.9px,#ff6600 0 1477.3px,#ff7000 0 1500.8px,#ff7a00 0 1524.2px,#ff8500 0 1547.7px,#ff9100 0 1571.1px,#ff9d00 0 1594.6px,#ffaa00 0 1618.0px,#ffb700 0 1641.5px,#ffc500 0 1665.0px,#ffd400 0 1688.4px,#ffe300 0 1711.8px,#fff300 0 1735.3px,#fbff00 0 1758.8px,#eaff00 0 1782.2px,#d8ff00 0 1805.6px,#c5ff00 0 1829.1px,#b2ff00 0 1852.5px,#9fff00 0 1876.0px)"></div>
<div style="top:820.75px;background:linear-gradient(90deg,#00ff6d 0 23.4px,#00ff53 0 46.9px,#00ff3a 0 70.3px,#00ff22 0 93.8px,#00ff0a 0 117.2px,#0eff00 0 140.7px,#26ff00 0 164.2px,#3dff00 0 187.6px,#53ff00 0 211.0px,#69ff00 0 234.5px,#7eff00 0 257.9px,#93ff00 0 281.4px,#a7ff00 0 304.8px,#bbff00 0 328.3px,#cdff00 0 351.8px,#e0ff00 0 375.2px,#f1ff00 0 398.6px,#fffc00 0 422.1px,#ffeb00 0 445.6px,#ffdc00 0 469.0px,#ffcd00 0 492.4px,#ffbf00 0 515.9px,#ffb100 0 539.4px,#ffa400 0 562.8px,#ff9700 0 586.2px,#ff8b00 0 609.7px,#ff8000 0 633.1px,#ff7500 0 656.6px,#ff6a00 0 680.0px,#ff6100 0 703.5px,#ff5800 0 726.9px,#ff4f00 0 750.4px,#ff4700 0 773.9px,#ff4000 0 797.3px,#ff3900 0 820.8px,#ff3300 0 844.2px,#ff2d00 0 867.6px,#ff2800 0 891.1px,#ff2300 0 914.5px,#ff1f00 0 938.0px,#ff1c00 0 961.4px,#ff1900 0 984.9px,#ff1700 0 1008.4px,#ff1600 0 1031.8px,#ff1400 0 1055.2px,#ff1400 0 1078.7px,#ff1400 0 1102.1px,#ff1500 0 1125.6px,#ff1600 0 1149.0px,#ff1800 0 1172.5px,#ff1a00 0 1196.0px,#ff1e00 0 1219.4px,#ff2100 0 1242.8px,#ff2500 0 1266.3px,#ff2a00 0 1289.8px,#ff2f00 0 1313.2px,#ff3500 0 1336.6px,#ff3c00 0 1360.1px,#ff4300 0 1383.5px,#ff4b00 0 1407.0px,#ff5300 0 1430.5px,#ff5c00 0 1453.9px,#ff6500 0 1477.3px,#ff6f00 0 1500.8px,#ff7a00 0 1524.2px,#ff8500 0 1547.7px,#ff9000 0 1571.1px,#ff9d00 0 1594.6px,#ffaa00 0 1618.0px,#ffb700 0 1641.5px,#ffc500 0 1665.0px,#ffd400 0 1688.4px,#ffe300 0 1711.8px,#fff300 0 1735.3px,#fbff00 0 1758.8px,#eaff00 0 1782.2px,#d8ff00 0 1805.6px,#c5ff00 0 1829.1px,#b2ff00 0 1852.5px,#9eff00 0 1876.0px)"></div>
<div style="top:844.20px;background:linear-gradient(90deg,#00ff68 0 23.4px,#00ff4f 0 46.9px,#00ff36 0 70.3px,#00ff1d 0 93.8px,#00ff05 0 117.2px,#13ff00 0 140.7px,#2aff00 0 164.2px,#41ff00 0 187.6px,#58ff00 0 211.0px,#6dff00 0 234.5px,#82ff00 0 257.9px,#97ff00 0 281.4px,#abff00 0 304.8px,#beff00 0 328.3px,#d1ff00 0 351.8px,#e3ff00 0 375.2px,#f5ff00 0 398.6px,#fff800 0 422.1px,#ffe800 0 445.6px,#ffd900 0 469.0px,#ffca00 0 492.4px,#ffbc00 0 515.9px,#ffae00 0 539.4px,#ffa100 0 562.8px,#ff9400 0 586.2px,#ff8800 0 609.7px,#ff7d00 0 633.1px,#ff7200 0 656.6px,#ff6800 0 680.0px,#ff5e00 0 703.5px,#ff5500 0 726.9px,#ff4d00 0 750.4px,#ff4500 0 773.9px,#ff3d00 0 797.3px,#ff3700 0 820.8px,#ff3000 0 844.2px,#ff2b00 0 867.6px,#ff2600 0 891.1px,#ff2100 0 914.5px,#ff1d00 0 938.0px,#ff1a00 0 961.4px,#ff1800 0 984.9px,#ff1500 0 1008.4px,#ff1400 0 1031.8px,#ff1300 0 1055.2px,#ff1300 0 1078.7px,#ff1300 0 1102.1px,#ff1300 0 1125.6px,#ff1500 0 1149.0px,#ff1700 0 1172.5px,#ff1900 0 1196.0px,#ff1c00 0 1219.4px,#ff2000 0 1242.8px,#ff2400 0 1266.3px,#ff2900 0 1289.8px,#ff2f00 0 1313.2px,#ff3500 0 1336.6px,#ff3b00 0 1360.1px,#ff4200 0 1383.5px,#ff4a00 0 1407.0px,#ff5200 0 1430.5px,#ff5b00 0 1453.9px,#ff6500 0 1477.3px,#ff6f00 0 1500.8px,#ff7900 0 1524.2px,#ff8500 0 1547.7px,#ff9000 0 1571.1px,#ff9d00 0 1594.6px,#ffaa00 0 1618.0px,#ffb700 0 1641.5px,#ffc500 0 1665.0px,#ffd400 0 1688.4px,#ffe300 0 1711.8px,#fff300 0 1735.3px,#faff00 0 1758.8px,#e9ff00 0 1782.2px,#d7ff00 0 1805.6px,#c4ff00 0 1829.1px,#b1ff00 0 1852.5px,#9dff00 0 1876.0px)"></div>
<div style="top:867.65px;background:linear-gradient(90deg,#00ff64 0 23.4px,#00ff4b 0 46.9px,#00ff32 0 70.3px,#00ff19 0 93.8px,#00ff01 0 117.2px,#17ff00 0 140.7px,#2eff00 0 164.2px,#45ff00 0 187.6px,#5bff00 0 211.0px,#71ff00 0 234.5px,#86ff00 0 257.9px,#9bff00 0 281.4px,#afff00 0 304.8px,#c2ff00 0 328.3px,#d5ff00 0 351.8px,#e7ff00 0 375.2px,#f8ff00 0 398.6px,#fff500 0 422.1px,#ffe500 0 445.6px,#ffd600 0 469.0px,#ffc700 0 492.4px,#ffb900 0 515.9px,#ffab00 0 539.4px,#ff9e00 0 562.8px,#ff9200 0 586.2px,#ff8600 0 609.7px,#ff7a00 0 633.1px,#ff7000 0 656.6px,#ff6500 0 680.0px,#ff5c00 0 703.5px,#ff5300 0 726.9px,#ff4a00 0 750.4px,#ff4300 0 773.9px,#ff3b00 0 797.3px,#ff3500 0 820.8px,#ff2f00 0 844.2px,#ff2900 0 867.6px,#ff2400 0 891.1px,#ff2000 0 914.5px,#ff1c00 0 938.0px,#ff1900 0 961.4px,#ff1600 0 984.9px,#ff1400 0 1008.4px,#ff1300 0 1031.8px,#ff1200 0 1055.2px,#ff1100 0 1078.7px,#ff1200 0 1102.1px,#ff1200 0 1125.6px,#ff1400 0 1149.0px,#ff1600 0 1172.5px,#ff1800 0 1196.0px,#ff1c00 0 1219.4px,#ff1f00 0 1242.8px,#ff2400 0 1266.3px,#ff2900 0 1289.8px,#ff2e00 0 1313.2px,#ff3400 0 1336.6px,#ff3b00 0 1360.1px,#ff4200 0 1383.5px,#ff4a00 0 1407.0px,#ff5200 0 1430.5px,#ff5b00 0 1453.9px,#ff6500 0 1477.3px,#ff6f00 0 1500.8px,#ff7900 0 1524.2px,#ff8500 0 1547.7px,#ff9100 0 1571.1px,#ff9d00 0 1594.6px,#ffaa00 0 1618.0px,#ffb800 0 1641.5px,#ffc600 0 1665.0px,#ffd500 0 1688.4px,#ffe400 0 1711.8px,#fff400 0 1735.3px,#faff00 0 1758.8px,#e8ff00 0 1782.2px,#d6ff00 0 1805.6px,#c3ff00 0 1829.1px,#b0ff00 0 1852.5px,#9cff00 0 1876.0px)"></div>
<div style="top:891.10px;background:linear-gradient(90deg,#00ff60 0 23.4px,#00ff47 0 46.9px,#00ff2e 0 70.3px,#00ff16 0 93.8px,#02ff00 0 117.2px,#1aff00 0 140.7px,#32ff00 0 164.2px,#49ff00 0 187.6px,#5fff00 0 211.0px,#74ff00 0 234.5px,#89ff00 0 257.9px,#9eff00 0 281.4px,#b2ff00 0 304.8px,#c5ff00 0 328.3px,#d8ff00 0 351.8px,#eaff00 0 375.2px,#fbff00 0 398.6px,#fff200 0 422.1px,#ffe200 0 445.6px,#ffd300 0 469.0px,#ffc400 0 492.4px,#ffb600 0 515.9px,#ffa900 0 539.4px,#ff9c00 0 562.8px,#ff8f00 0 586.2px,#ff8300 0 609.7px,#ff7800 0 633.1px,#ff6e00 0 656.6px,#ff6300 0 680.0px,#ff5a00 0 703.5px,#ff5100 0 726.9px,#ff4900 0 750.4px,#ff4100 0 773.9px,#ff3a00 0 797.3px,#ff3300 0 820.8px,#ff2d00 0 844.2px,#ff2800 0 867.6px,#ff2300 0 891.1px,#ff1e00 0 914.5px,#ff1b00 0 938.0px,#ff1800 0 961.4px,#ff1500 0 984.9px,#ff1300 0 1008.4px,#ff1200 0 1031.8px,#ff1100 0 1055.2px,#ff1100 0 1078.7px,#ff1100 0 1102.1px,#ff1200 0 1125.6px,#ff1300 0 1149.0px,#ff1500 0 1172.5px,#ff1800 0 1196.0px,#ff1b00 0 1219.4px,#ff1f00 0 1242.8px,#ff2300 0 1266.3px,#ff2800 0 1289.8px,#ff2e00 0 1313.2px,#ff3400 0 1336.6px,#ff3b00 0 1360.1px,#ff4200 0 1383.5px,#ff4a00 0 1407.0px,#ff5200 0 1430.5px,#ff5b00 0 1453.9px,#ff6500 0 1477.3px,#ff6f00 0 1500.8px,#ff7a00 0 1524.2px,#ff8500 0 1547.7px,#ff9100 0 1571.1px,#ff9e00 0 1594.6px,#ffab00 0 1618.0px,#ffb800 0 1641.5px,#ffc700 0 1665.0px,#ffd500 0 1688.4px,#ffe500 0 1711.8px,#fff500 0 1735.3px,#f8ff00 0 1758.8px,#e7ff00 0 1782.2px,#d5ff00 0 1805.6px,#c2ff00 0 1829.1px,#afff00 0 1852.5px,#9bff00 0 1876.0px)"></div>
<div style="top:914.55px;background:linear-gradient(90deg,#00ff5d 0 23.4px,#00ff43 0 46.9px,#00ff2b 0 70.3px,#00ff12 0 93.8px,#06ff00 0 117.2px,#1eff00 0 140.7px,#35ff00 0 164.2px,#4cff00 0 187.6px,#62ff00 0 211.0px,#77ff00 0 234.5px,#8cff00 0 257.9px,#a1ff00 0 281.4px,#b4ff00 0 304.8px,#c8ff00 0 328.3px,#daff00 0 351.8px,#ecff00 0 375.2px,#feff00 0 398.6px,#fff000 0 422.1px,#ffe000 0 445.6px,#ffd100 0 469.0px,#ffc200 0 492.4px,#ffb400 0 515.9px,#ffa700 0 539.4px,#ff9a00 0 562.8px,#ff8d00 0 586.2px,#ff8200 0 609.7px,#ff7600 0 633.1px,#ff6c00 0 656.6px,#ff6200 0 680.0px,#ff5800 0 703.5px,#ff5000 0 726.9px,#ff4700 0 750.4px,#ff4000 0 773.9px,#ff3800 0 797.3px,#ff3200 0 820.8px,#ff2c00 0 844.2px,#ff2600 0 867.6px,#ff2200 0 891.1px,#ff1d00 0 914.5px,#ff1a00 0 938.0px,#ff1700 0 961.4px,#ff1400 0 984.9px,#ff1200 0 1008.4px,#ff1100 0 1031.8px,#ff1000 0 1055.2px,#ff1000 0 1078.7px,#ff1000 0 1102.1px,#ff1100 0 1125.6px,#ff1300 0 1149.0px,#ff1500 0 1172.5px,#ff1800 0 1196.0px,#ff1b00 0 1219.4px,#ff1f00 0 1242.8px,#ff2300 0 1266.3px,#ff2900 0 1289.8px,#ff2e00 0 1313.2px,#ff3400 0 1336.6px,#ff3b00 0 1360.1px,#ff4200 0 1383.5px,#ff4a00 0 1407.0px,#ff5300 0 1430.5px,#ff5c00 0 1453.9px,#ff6600 0 1477.3px,#ff7000 0 1500.8px,#ff7b00 0 1524.2px,#ff8600 0 1547.7px,#ff9200 0 1571.1px,#ff9f00 0 1594.6px,#ffac00 0 1618.0px,#ffba00 0 1641.5px,#ffc800 0 1665.0px,#ffd700 0 1688.4px,#ffe600 0 1711.8px,#fff600 0 1735.3px,#f7ff00 0 1758.8px,#e5ff00 0 1782.2px,#d3ff00 0 1805.6px,#c0ff00 0 1829.1px,#adff00 0 1852.5px,#99ff00 0 1876.0px)"></div>
<div style="top:938.00px;background:linear-gradient(90deg,#00ff5a 0 23.4px,#00ff40 0 46.9px,#00ff27 0 70.3px,#00ff0f 0 93.8px,#09ff00 0 117.2px,#21ff00 0 140.7px,#38ff00 0 164.2px,#4eff00 0 187.6px,#65ff00 0 211.0px,#7aff00 0 234.5px,#8fff00 0 257.9px,#a3ff00 0 281.4px,#b7ff00 0 304.8px,#caff00 0 328.3px,#ddff00 0 351.8px,#eeff00 0 375.2px,#fffe00 0 398.6px,#ffee00 0 422.1px,#ffde00 0 445.6px,#ffcf00 0 469.0px,#ffc000 0 492.4px,#ffb200 0 515.9px,#ffa500 0 539.4px,#ff9800 0 562.8px,#ff8c00 0 586.2px,#ff8000 0 609.7px,#ff7500 0 633.1px,#ff6a00 0 656.6px,#ff6100 0 680.0px,#ff5700 0 703.5px,#ff4e00 0 726.9px,#ff4600 0 750.4px,#ff3f00 0 773.9px,#ff3700 0 797.3px,#ff3100 0 820.8px,#ff2b00 0 844.2px,#ff2600 0 867.6px,#ff2100 0 891.1px,#ff1d00 0 914.5px,#ff1900 0 938.0px,#ff1600 0 961.4px,#ff1400 0 984.9px,#ff1200 0 1008.4px,#ff1100 0 1031.8px,#ff1000 0 1055.2px,#ff1000 0 1078.7px,#ff1000 0 1102.1px,#ff1100 0 1125.6px,#ff1300 0 1149.0px,#ff1500 0 1172.5px,#ff1800 0 1196.0px,#ff1b00 0 1219.4px,#ff1f00 0 1242.8px,#ff2400 0 1266.3px,#ff2900 0 1289.8px,#ff2f00 0 1313.2px,#ff3500 0 1336.6px,#ff3c00 0 1360.1px,#ff4300 0 1383.5px,#ff4b00 0 1407.0px,#ff5400 0 1430.5px,#ff5d00 0 1453.9px,#ff6700 0 1477.3px,#ff7100 0 1500.8px,#ff7c00 0 1524.2px,#ff8700 0 1547.7px,#ff9300 0 1571.1px,#ffa000 0 1594.6px,#ffad00 0 1618.0px,#ffbb00 0 1641.5px,#ffca00 0 1665.0px,#ffd800 0 1688.4px,#ffe800 0 1711.8px,#fff800 0 1735.3px,#f5ff00 0 1758.8px,#e3ff00 0 1782.2px,#d1ff00 0 1805.6px,#beff00 0 1829.1px,#abff00 0 1852.5px,#97ff00 0 1876.0px)"></div>
<div style="top:961.45px;background:linear-gradient(90deg,#00ff57 0 23.4px,#00ff3e 0 46.9px,#00ff25 0 70.3px,#00ff0d 0 93.8px,#0bff00 0 117.2px,#23ff00 0 140.7px,#3aff00 0 164.2px,#51ff00 0 187.6px,#67ff00 0 211.0px,#7cff00 0 234.5px,#91ff00 0 257.9px,#a5ff00 0 281.4px,#b9ff00 0 304.8px,#ccff00 0 328.3px,#deff00 0 351.8px,#f0ff00 0 375.2px,#fffc00 0 398.6px,#ffec00 0 422.1px,#ffdd00 0 445.6px,#ffcd00 0 469.0px,#ffbf00 0 492.4px,#ffb100 0 515.9px,#ffa400 0 539.4px,#ff9700 0 562.8px,#ff8b00 0 586.2px,#ff7f00 0 609.7px,#ff7400 0 633.1px,#ff6a00 0 656.6px,#ff6000 0 680.0px,#ff5600 0 703.5px,#ff4e00 0 726.9px,#ff4500 0 750.4px,#ff3e00 0 773.9px,#ff3700 0 797.3px,#ff3000 0 820.8px,#ff2b00 0 844.2px,#ff2500 0 867.6px,#ff2100 0 891.1px,#ff1d00 0 914.5px,#ff1900 0 938.0px,#ff1600 0 961.4px,#ff1400 0 984.9px,#ff1200 0 1008.4px,#ff1100 0 1031.8px,#ff1000 0 1055.2px,#ff1000 0 1078.7px,#ff1100 0 1102.1px,#ff1200 0 1125.6px,#ff1400 0 1149.0px,#ff1600 0 1172.5px,#ff1900 0 1196.0px,#ff1c00 0 1219.4px,#ff2000 0 1242.8px,#ff2500 0 1266.3px,#ff2a00 0 1289.8px,#ff3000 0 1313.2px,#ff3600 0 1336.6px,#ff3d00 0 1360.1px,#ff4400 0 1383.5px,#ff4c00 0 1407.0px,#ff5500 0 1430.5px,#ff5e00 0 1453.9px,#ff6800 0 1477.3px,#ff7300 0 1500.8px,#ff7d00 0 1524.2px,#ff8900 0 1547.7px,#ff9500 0 1571.1px,#ffa200 0 1594.6px,#ffaf00 0 1618.0px,#ffbd00 0 1641.5px,#ffcb00 0 1665.0px,#ffda00 0 1688.4px,#ffea00 0 1711.8px,#fffa00 0 1735.3px,#f3ff00 0 1758.8px,#e1ff00 0 1782.2px,#cfff00 0 1805.6px,#bcff00 0 1829.1px,#a8ff00 0 1852.5px,#94ff00 0 1876.0px)"></div>
<div style="top:984.90px;background:linear-gradient(90deg,#00ff54 0 23.4px,#00ff3b 0 46.9px,#00ff22 0 70.3px,#00ff0a 0 93.8px,#0eff00 0 117.2px,#25ff00 0 140.7px,#3cff00 0 164.2px,#53ff00 0 187.6px,#69ff00 0 211.0px,#7eff00 0 234.5px,#93ff00 0 257.9px,#a7ff00 0 281.4px,#bbff00 0 304.8px,#ceff00 0 328.3px,#e0ff00 0 351.8px,#f2ff00 0 375.2px,#fffb00 0 398.6px,#ffeb00 0 422.1px,#ffdb00 0 445.6px,#ffcc00 0 469.0px,#ffbe00 0 492.4px,#ffb000 0 515.9px,#ffa300 0 539.4px,#ff9600 0 562.8px,#ff8a00 0 586.2px,#ff7e00 0 609.7px,#ff7300 0 633.1px,#ff6900 0 656.6px,#ff5f00 0 680.0px,#ff5600 0 703.5px,#ff4d00 0 726.9px,#ff4500 0 750.4px,#ff3e00 0 773.9px,#ff3700 0 797.3px,#ff3000 0 820.8px,#ff2b00 0 844.2px,#ff2500 0 867.6px,#ff2100 0 891.1px,#ff1d00 0 914.5px,#ff1900 0 938.0px,#ff1600 0 961.4px,#ff1400 0 984.9px,#ff1200 0 1008.4px,#ff1100 0 1031.8px,#ff1100 0 1055.2px,#ff1100 0 1078.7px,#ff1100 0 1102.1px,#ff1300 0 1125.6px,#ff1400 0 1149.0px,#ff1700 0 1172.5px,#ff1a00 0 1196.0px,#ff1d00 0 1219.4px,#ff2100 0 1242.8px,#ff2600 0 1266.3px,#ff2b00 0 1289.8px,#ff3100 0 1313.2px,#ff3700 0 1336.6px,#ff3e00 0 1360.1px,#ff4600 0 1383.5px,#ff4e00 0 1407.0px,#ff5700 0 1430.5px,#ff6000 0 1453.9px,#ff6a00 0 1477.3px,#ff7400 0 1500.8px,#ff7f00 0 1524.2px,#ff8b00 0 1547.7px,#ff9700 0 1571.1px,#ffa400 0 1594.6px,#ffb100 0 1618.0px,#ffbf00 0 1641.5px,#ffce00 0 1665.0px,#ffdd00 0 1688.4px,#ffed00 0 1711.8px,#fffd00 0 1735.3px,#f0ff00 0 1758.8px,#deff00 0 1782.2px,#ccff00 0 1805.6px,#b9ff00 0 1829.1px,#a5ff00 0 1852.5px,#91ff00 0 1876.0px)"></div>
<div style="top:1008.35px;background:linear-gradient(90deg,#00ff52 0 23.4px,#00ff39 0 46.9px,#00ff21 0 70.3px,#00ff08 0 93.8px,#0fff00 0 117.2px,#27ff00 0 140.7px,#3eff00 0 164.2px,#55ff00 0 187.6px,#6bff00 0 211.0px,#80ff00 0 234.5px,#94ff00 0 257.9px,#a9ff00 0 281.4px,#bcff00 0 304.8px,#cfff00 0 328.3px,#e1ff00 0 351.8px,#f3ff00 0 375.2px,#fffa00 0 398.6px,#ffea00 0 422.1px,#ffda00 0 445.6px,#ffcb00 0 469.0px,#ffbd00 0 492.4px,#ffaf00 0 515.9px,#ffa200 0 539.4px,#ff9500 0 562.8px,#ff8900 0 586.2px,#ff7e00 0 609.7px,#ff7300 0 633.1px,#ff6900 0 656.6px,#ff5f00 0 680.0px,#ff5600 0 703.5px,#ff4d00 0 726.9px,#ff4500 0 750.4px,#ff3e00 0 773.9px,#ff3700 0 797.3px,#ff3000 0 820.8px,#ff2b00 0 844.2px,#ff2600 0 867.6px,#ff2100 0 891.1px,#ff1d00 0 914.5px,#ff1a00 0 938.0px,#ff1700 0 961.4px,#ff1500 0 984.9px,#ff1300 0 1008.4px,#ff1200 0 1031.8px,#ff1200 0 1055.2px,#ff1200 0 1078.7px,#ff1200 0 1102.1px,#ff1400 0 1125.6px,#ff1500 0 1149.0px,#ff1800 0 1172.5px,#ff1b00 0 1196.0px,#ff1e00 0 1219.4px,#ff2300 0 1242.8px,#ff2700 0 1266.3px,#ff2d00 0 1289.8px,#ff3300 0 1313.2px,#ff3900 0 1336.6px,#ff4000 0 1360.1px,#ff4800 0 1383.5px,#ff5000 0 1407.0px,#ff5900 0 1430.5px,#ff6200 0 1453.9px,#ff6c00 0 1477.3px,#ff7700 0 1500.8px,#ff8200 0 1524.2px,#ff8d00 0 1547.7px,#ff9a00 0 1571.1px,#ffa600 0 1594.6px,#ffb400 0 1618.0px,#ffc200 0 1641.5px,#ffd000 0 1665.0px,#ffe000 0 1688.4px,#ffef00 0 1711.8px,#feff00 0 1735.3px,#edff00 0 1758.8px,#dbff00 0 1782.2px,#c9ff00 0 1805.6px,#b6ff00 0 1829.1px,#a2ff00 0 1852.5px,#8eff00 0 1876.0px)"></div>
<div style="top:1031.80px;background:linear-gradient(90deg,#00ff51 0 23.4px,#00ff37 0 46.9px,#00ff1f 0 70.3px,#00ff07 0 93.8px,#11ff00 0 117.2px,#29ff00 0 140.7px,#40ff00 0 164.2px,#56ff00 0 187.6px,#6cff00 0 211.0px,#81ff00 0 234.5px,#96ff00 0 257.9px,#aaff00 0 281.4px,#bdff00 0 304.8px,#d0ff00 0 328.3px,#e2ff00 0 351.8px,#f4ff00 0 375.2px,#fff900 0 398.6px,#ffe900 0 422.1px,#ffda00 0 445.6px,#ffcb00 0 469.0px,#ffbd00 0 492.4px,#ffaf00 0 515.9px,#ffa200 0 539.4px,#ff9500 0 562.8px,#ff8900 0 586.2px,#ff7e00 0 609.7px,#ff7300 0 633.1px,#ff6900 0 656.6px,#ff5f00 0 680.0px,#ff5600 0 703.5px,#ff4d00 0 726.9px,#ff4500 0 750.4px,#ff3e00 0 773.9px,#ff3700 0 797.3px,#ff3100 0 820.8px,#ff2b00 0 844.2px,#ff2600 0 867.6px,#ff2200 0 891.1px,#ff1e00 0 914.5px,#ff1b00 0 938.0px,#ff1800 0 961.4px,#ff1600 0 984.9px,#ff1400 0 1008.4px,#ff1300 0 1031.8px,#ff1300 0 1055.2px,#ff1300 0 1078.7px,#ff1400 0 1102.1px,#ff1500 0 1125.6px,#ff1700 0 1149.0px,#ff1900 0 1172.5px,#ff1d00 0 1196.0px,#ff2000 0 1219.4px,#ff2400 0 1242.8px,#ff2900 0 1266.3px,#ff2f00 0 1289.8px,#ff3500 0 1313.2px,#ff3b00 0 1336.6px,#ff4200 0 1360.1px,#ff4a00 0 1383.5px,#ff5200 0 1407.0px,#ff5b00 0 1430.5px,#ff6400 0 1453.9px,#ff6e00 0 1477.3px,#ff7900 0 1500.8px,#ff8400 0 1524.2px,#ff9000 0 1547.7px,#ff9c00 0 1571.1px,#ffa900 0 1594.6px,#ffb700 0 1618.0px,#ffc500 0 1641.5px,#ffd300 0 1665.0px,#ffe300 0 1688.4px,#fff200 0 1711.8px,#fbff00 0 1735.3px,#eaff00 0 1758.8px,#d8ff00 0 1782.2px,#c5ff00 0 1805.6px,#b2ff00 0 1829.1px,#9eff00 0 1852.5px,#8aff00 0 1876.0px)"></div>
<div style="top:1055.25px;background:linear-gradient(90deg,#00ff4f 0 23.4px,#00ff36 0 46.9px,#00ff1e 0 70.3px,#00ff06 0 93.8px,#12ff00 0 117.2px,#2aff00 0 140.7px,#41ff00 0 164.2px,#57ff00 0 187.6px,#6dff00 0 211.0px,#82ff00 0 234.5px,#96ff00 0 257.9px,#aaff00 0 281.4px,#beff00 0 304.8px,#d0ff00 0 328.3px,#e3ff00 0 351.8px,#f4ff00 0 375.2px,#fff900 0 398.6px,#ffe900 0 422.1px,#ffda00 0 445.6px,#ffcb00 0 469.0px,#ffbd00 0 492.4px,#ffaf00 0 515.9px,#ffa200 0 539.4px,#ff9500 0 562.8px,#ff8900 0 586.2px,#ff7e00 0 609.7px,#ff7300 0 633.1px,#ff6900 0 656.6px,#ff5f00 0 680.0px,#ff5600 0 703.5px,#ff4e00 0 726.9px,#ff4600 0 750.4px,#ff3f00 0 773.9px,#ff3800 0 797.3px,#ff3200 0 820.8px,#ff2c00 0 844.2px,#ff2700 0 867.6px,#ff2300 0 891.1px,#ff1f00 0 914.5px,#ff1c00 0 938.0px,#ff1900 0 961.4px,#ff1700 0 984.9px,#ff1600 0 1008.4px,#ff1500 0 1031.8px,#ff1400 0 1055.2px,#ff1500 0 1078.7px,#ff1500 0 1102.1px,#ff1700 0 1125.6px,#ff1900 0 1149.0px,#ff1b00 0 1172.5px,#ff1f00 0 1196.0px,#ff2200 0 1219.4px,#ff2700 0 1242.8px,#ff2b00 0 1266.3px,#ff3100 0 1289.8px,#ff3700 0 1313.2px,#ff3d00 0 1336.6px,#ff4500 0 1360.1px,#ff4c00 0 1383.5px,#ff5500 0 1407.0px,#ff5e00 0 1430.5px,#ff6700 0 1453.9px,#ff7100 0 1477.3px,#ff7c00 0 1500.8px,#ff8700 0 1524.2px,#ff9300 0 1547.7px,#ff9f00 0 1571.1px,#ffac00 0 1594.6px,#ffba00 0 1618.0px,#ffc800 0 1641.5px,#ffd700 0 1665.0px,#ffe600 0 1688.4px,#fff600 0 1711.8px,#f7ff00 0 1735.3px,#e6ff00 0 1758.8px,#d4ff00 0 1782.2px,#c1ff00 0 1805.6px,#aeff00 0 1829.1px,#9aff00 0 1852.5px,#86ff00 0 1876.0px)"></div>
<div style="top:1078.70px;background:linear-gradient(90deg,#00ff4e 0 23.4px,#00ff35 0 46.9px,#00ff1d 0 70.3px,#00ff05 0 93.8px,#13ff00 0 117.2px,#2aff00 0 140.7px,#41ff00 0 164.2px,#58ff00 0 187.6px,#6dff00 0 211.0px,#82ff00 0 234.5px,#97ff00 0 257.9px,#abff00 0 281.4px,#beff00 0 304.8px,#d1ff00 0 328.3px,#e3ff00 0 351.8px,#f4ff00 0 375.2px,#fff900 0 398.6px,#ffe900 0 422.1px,#ffda00 0 445.6px,#ffcb00 0 469.0px,#ffbd00 0 492.4px,#ffaf00 0 515.9px,#ffa200 0 539.4px,#ff9600 0 562.8px,#ff8a00 0 586.2px,#ff7f00 0 609.7px,#ff7400 0 633.1px,#ff6a00 0 656.6px,#ff6000 0 680.0px,#ff5700 0 703.5px,#ff4f00 0 726.9px,#ff4700 0 750.4px,#ff4000 0 773.9px,#ff3900 0 797.3px,#ff3300 0 820.8px,#ff2e00 0 844.2px,#ff2900 0 867.6px,#ff2400 0 891.1px,#ff2100 0 914.5px,#ff1e00 0 938.0px,#ff1b00 0 961.4px,#ff1900 0 984.9px,#ff1700 0 1008.4px,#ff1700 0 1031.8px,#ff1600 0 1055.2px,#ff1700 0 1078.7px,#ff1800 0 1102.1px,#ff1900 0 1125.6px,#ff1b00 0 1149.0px,#ff1e00 0 1172.5px,#ff2100 0 1196.0px,#ff2500 0 1219.4px,#ff2900 0 1242.8px,#ff2e00 0 1266.3px,#ff3300 0 1289.8px,#ff3a00 0 1313.2px,#ff4000 0 1336.6px,#ff4700 0 1360.1px,#ff4f00 0 1383.5px,#ff5800 0 1407.0px,#ff6100 0 1430.5px,#ff6a00 0 1453.9px,#ff7400 0 1477.3px,#ff7f00 0 1500.8px,#ff8a00 0 1524.2px,#ff9600 0 1547.7px,#ffa300 0 1571.1px,#ffb000 0 1594.6px,#ffbd00 0 1618.0px,#ffcc00 0 1641.5px,#ffda00 0 1665.0px,#ffea00 0 1688.4px,#fffa00 0 1711.8px,#f3ff00 0 1735.3px,#e2ff00 0 1758.8px,#d0ff00 0 1782.2px,#bdff00 0 1805.6px,#aaff00 0 1829.1px,#96ff00 0 1852.5px,#81ff00 0 1876.0px)"></div>
<div style="top:1102.15px;background:linear-gradient(90deg,#00ff4d 0 23.4px,#00ff34 0 46.9px,#00ff1c 0 70.3px,#00ff04 0 93.8px,#13ff00 0 117.2px,#2bff00 0 140.7px,#42ff00 0 164.2px,#58ff00 0 187.6px,#6dff00 0 211.0px,#82ff00 0 234.5px,#97ff00 0 257.9px,#abff00 0 281.4px,#beff00 0 304.8px,#d0ff00 0 328.3px,#e2ff00 0 351.8px,#f4ff00 0 375.2px,#fff900 0 398.6px,#ffea00 0 422.1px,#ffda00 0 445.6px,#ffcc00 0 469.0px,#ffbe00 0 492.4px,#ffb000 0 515.9px,#ffa300 0 539.4px,#ff9700 0 562.8px,#ff8b00 0 586.2px,#ff8000 0 609.7px,#ff7500 0 633.1px,#ff6b00 0 656.6px,#ff6200 0 680.0px,#ff5900 0 703.5px,#ff5000 0 726.9px,#ff4900 0 750.4px,#ff4100 0 773.9px,#ff3b00 0 797.3px,#ff3500 0 820.8px,#ff2f00 0 844.2px,#ff2b00 0 867.6px,#ff2600 0 891.1px,#ff2300 0 914.5px,#ff1f00 0 938.0px,#ff1d00 0 961.4px,#ff1b00 0 984.9px,#ff1a00 0 1008.4px,#ff1900 0 1031.8px,#ff1900 0 1055.2px,#ff1900 0 1078.7px,#ff1a00 0 1102.1px,#ff1b00 0 1125.6px,#ff1e00 0 1149.0px,#ff2000 0 1172.5px,#ff2400 0 1196.0px,#ff2700 0 1219.4px,#ff2c00 0 1242.8px,#ff3100 0 1266.3px,#ff3600 0 1289.8px,#ff3d00 0 1313.2px,#ff4300 0 1336.6px,#ff4b00 0 1360.1px,#ff5300 0 1383.5px,#ff5b00 0 1407.0px,#ff6400 0 1430.5px,#ff6e00 0 1453.9px,#ff7800 0 1477.3px,#ff8300 0 1500.8px,#ff8e00 0 1524.2px,#ff9a00 0 1547.7px,#ffa700 0 1571.1px,#ffb400 0 1594.6px,#ffc100 0 1618.0px,#ffd000 0 1641.5px,#ffdf00 0 1665.0px,#ffee00 0 1688.4px,#fffe00 0 1711.8px,#efff00 0 1735.3px,#ddff00 0 1758.8px,#cbff00 0 1782.2px,#b8ff00 0 1805.6px,#a5ff00 0 1829.1px,#91ff00 0 1852.5px,#7dff00 0 1876.0px)"></div>
<div style="top:1125.60px;background:linear-gradient(90deg,#00ff4d 0 23.4px,#00ff34 0 46.9px,#00ff1c 0 70.3px,#00ff04 0 93.8px,#14ff00 0 117.2px,#2bff00 0 140.7px,#42ff00 0 164.2px,#58ff00 0 187.6px,#6dff00 0 211.0px,#82ff00 0 234.5px,#96ff00 0 257.9px,#aaff00 0 281.4px,#bdff00 0 304.8px,#d0ff00 0 328.3px,#e2ff00 0 351.8px,#f3ff00 0 375.2px,#fffa00 0 398.6px,#ffea00 0 422.1px,#ffdb00 0 445.6px,#ffcd00 0 469.0px,#ffbf00 0 492.4px,#ffb100 0 515.9px,#ffa400 0 539.4px,#ff9800 0 562.8px,#ff8c00 0 586.2px,#ff8100 0 609.7px,#ff7600 0 633.1px,#ff6c00 0 656.6px,#ff6300 0 680.0px,#ff5a00 0 703.5px,#ff5200 0 726.9px,#ff4a00 0 750.4px,#ff4300 0 773.9px,#ff3d00 0 797.3px,#ff3700 0 820.8px,#ff3100 0 844.2px,#ff2d00 0 867.6px,#ff2800 0 891.1px,#ff2500 0 914.5px,#ff2200 0 938.0px,#ff1f00 0 961.4px,#ff1d00 0 984.9px,#ff1c00 0 1008.4px,#ff1b00 0 1031.8px,#ff1b00 0 1055.2px,#ff1c00 0 1078.7px,#ff1d00 0 1102.1px,#ff1e00 0 1125.6px,#ff2100 0 1149.0px,#ff2300 0 1172.5px,#ff2700 0 1196.0px,#ff2b00 0 1219.4px,#ff2f00 0 1242.8px,#ff3400 0 1266.3px,#ff3a00 0 1289.8px,#ff4000 0 1313.2px,#ff4700 0 1336.6px,#ff4e00 0 1360.1px,#ff5600 0 1383.5px,#ff5f00 0 1407.0px,#ff6800 0 1430.5px,#ff7200 0 1453.9px,#ff7c00 0 1477.3px,#ff8700 0 1500.8px,#ff9200 0 1524.2px,#ff9e00 0 1547.7px,#ffab00 0 1571.1px,#ffb800 0 1594.6px,#ffc600 0 1618.0px,#ffd400 0 1641.5px,#ffe300 0 1665.0px,#fff200 0 1688.4px,#fbff00 0 1711.8px,#eaff00 0 1735.3px,#d9ff00 0 1758.8px,#c6ff00 0 1782.2px,#b4ff00 0 1805.6px,#a0ff00 0 1829.1px,#8cff00 0 1852.5px,#77ff00 0 1876.0px)"></div>
<div style="top:1149.05px;background:linear-gradient(90deg,#00ff4d 0 23.4px,#00ff34 0 46.9px,#00ff1c 0 70.3px,#00ff04 0 93.8px,#13ff00 0 117.2px,#2bff00 0 140.7px,#41ff00 0 164.2px,#57ff00 0 187.6px,#6dff00 0 211.0px,#81ff00 0 234.5px,#96ff00 0 257.9px,#a9ff00 0 281.4px,#bcff00 0 304.8px,#cfff00 0 328.3px,#e1ff00 0 351.8px,#f2ff00 0 375.2px,#fffb00 0 398.6px,#ffec00 0 422.1px,#ffdc00 0 445.6px,#ffce00 0 469.0px,#ffc000 0 492.4px,#ffb300 0 515.9px,#ffa600 0 539.4px,#ff9900 0 562.8px,#ff8e00 0 586.2px,#ff8300 0 609.7px,#ff7800 0 633.1px,#ff6e00 0 656.6px,#ff6500 0 680.0px,#ff5c00 0 703.5px,#ff5400 0 726.9px,#ff4c00 0 750.4px,#ff4500 0 773.9px,#ff3f00 0 797.3px,#ff3900 0 820.8px,#ff3400 0 844.2px,#ff2f00 0 867.6px,#ff2b00 0 891.1px,#ff2700 0 914.5px,#ff2400 0 938.0px,#ff2200 0 961.4px,#ff2000 0 984.9px,#ff1f00 0 1008.4px,#ff1e00 0 1031.8px,#ff1e00 0 1055.2px,#ff1f00 0 1078.7px,#ff2000 0 1102.1px,#ff2200 0 1125.6px,#ff2400 0 1149.0px,#ff2700 0 1172.5px,#ff2a00 0 1196.0px,#ff2e00 0 1219.4px,#ff3300 0 1242.8px,#ff3800 0 1266.3px,#ff3d00 0 1289.8px,#ff4400 0 1313.2px,#ff4b00 0 1336.6px,#ff5200 0 1360.1px,#ff5a00 0 1383.5px,#ff6300 0 1407.0px,#ff6c00 0 1430.5px,#ff7600 0 1453.9px,#ff8000 0 1477.3px,#ff8b00 0 1500.8px,#ff9600 0 1524.2px,#ffa300 0 1547.7px,#ffaf00 0 1571.1px,#ffbc00 0 1594.6px,#ffca00 0 1618.0px,#ffd900 0 1641.5px,#ffe800 0 1665.0px,#fff700 0 1688.4px,#f6ff00 0 1711.8px,#e5ff00 0 1735.3px,#d3ff00 0 1758.8px,#c1ff00 0 1782.2px,#aeff00 0 1805.6px,#9bff00 0 1829.1px,#87ff00 0 1852.5px,#72ff00 0 1876.0px)"></div>
<div style="top:1172.50px;background:linear-gradient(90deg,#00ff4d 0 23.4px,#00ff35 0 46.9px,#00ff1c 0 70.3px,#00ff05 0 93.8px,#13ff00 0 117.2px,#2aff00 0 140.7px,#40ff00 0 164.2px,#56ff00 0 187.6px,#6cff00 0 211.0px,#80ff00 0 234.5px,#95ff00 0 257.9px,#a8ff00 0 281.4px,#bbff00 0 304.8px,#ceff00 0 328.3px,#dfff00 0 351.8px,#f1ff00 0 375.2px,#fffd00 0 398.6px,#ffed00 0 422.1px,#ffde00 0 445.6px,#ffd000 0 469.0px,#ffc200 0 492.4px,#ffb400 0 515.9px,#ffa800 0 539.4px,#ff9b00 0 562.8px,#ff9000 0 586.2px,#ff8500 0 609.7px,#ff7a00 0 633.1px,#ff7000 0 656.6px,#ff6700 0 680.0px,#ff5f00 0 703.5px,#ff5600 0 726.9px,#ff4f00 0 750.4px,#ff4800 0 773.9px,#ff4200 0 797.3px,#ff3c00 0 820.8px,#ff3700 0 844.2px,#ff3200 0 867.6px,#ff2e00 0 891.1px,#ff2a00 0 914.5px,#ff2700 0 938.0px,#ff2500 0 961.4px,#ff2300 0 984.9px,#ff2200 0 1008.4px,#ff2200 0 1031.8px,#ff2200 0 1055.2px,#ff2200 0 1078.7px,#ff2300 0 1102.1px,#ff2500 0 1125.6px,#ff2700 0 1149.0px,#ff2a00 0 1172.5px,#ff2e00 0 1196.0px,#ff3200 0 1219.4px,#ff3600 0 1242.8px,#ff3c00 0 1266.3px,#ff4100 0 1289.8px,#ff4800 0 1313.2px,#ff4f00 0 1336.6px,#ff5600 0 1360.1px,#ff5e00 0 1383.5px,#ff6700 0 1407.0px,#ff7000 0 1430.5px,#ff7a00 0 1453.9px,#ff8500 0 1477.3px,#ff9000 0 1500.8px,#ff9b00 0 1524.2px,#ffa700 0 1547.7px,#ffb400 0 1571.1px,#ffc100 0 1594.6px,#ffcf00 0 1618.0px,#ffde00 0 1641.5px,#ffed00 0 1665.0px,#fffc00 0 1688.4px,#f1ff00 0 1711.8px,#e0ff00 0 1735.3px,#ceff00 0 1758.8px,#bcff00 0 1782.2px,#a9ff00 0 1805.6px,#95ff00 0 1829.1px,#81ff00 0 1852.5px,#6cff00 0 1876.0px)"></div>
<div style="top:1195.95px;background:linear-gradient(90deg,#00ff4e 0 23.4px,#00ff35 0 46.9px,#00ff1d 0 70.3px,#00ff06 0 93.8px,#12ff00 0 117.2px,#29ff00 0 140.7px,#3fff00 0 164.2px,#55ff00 0 187.6px,#6aff00 0 211.0px,#7fff00 0 234.5px,#93ff00 0 257.9px,#a7ff00 0 281.4px,#baff00 0 304.8px,#ccff00 0 328.3px,#deff00 0 351.8px,#efff00 0 375.2px,#fffe00 0 398.6px,#ffef00 0 422.1px,#ffe000 0 445.6px,#ffd200 0 469.0px,#ffc400 0 492.4px,#ffb600 0 515.9px,#ffaa00 0 539.4px,#ff9e00 0 562.8px,#ff9200 0 586.2px,#ff8700 0 609.7px,#ff7d00 0 633.1px,#ff7300 0 656.6px,#ff6a00 0 680.0px,#ff6100 0 703.5px,#ff5900 0 726.9px,#ff5200 0 750.4px,#ff4b00 0 773.9px,#ff4400 0 797.3px,#ff3f00 0 820.8px,#ff3a00 0 844.2px,#ff3500 0 867.6px,#ff3100 0 891.1px,#ff2e00 0 914.5px,#ff2b00 0 938.0px,#ff2900 0 961.4px,#ff2700 0 984.9px,#ff2600 0 1008.4px,#ff2500 0 1031.8px,#ff2500 0 1055.2px,#ff2600 0 1078.7px,#ff2700 0 1102.1px,#ff2900 0 1125.6px,#ff2b00 0 1149.0px,#ff2e00 0 1172.5px,#ff3200 0 1196.0px,#ff3600 0 1219.4px,#ff3b00 0 1242.8px,#ff4000 0 1266.3px,#ff4600 0 1289.8px,#ff4c00 0 1313.2px,#ff5300 0 1336.6px,#ff5b00 0 1360.1px,#ff6300 0 1383.5px,#ff6c00 0 1407.0px,#ff7500 0 1430.5px,#ff7f00 0 1453.9px,#ff8a00 0 1477.3px,#ff9500 0 1500.8px,#ffa000 0 1524.2px,#ffac00 0 1547.7px,#ffb900 0 1571.1px,#ffc700 0 1594.6px,#ffd500 0 1618.0px,#ffe300 0 1641.5px,#fff200 0 1665.0px,#fcff00 0 1688.4px,#ebff00 0 1711.8px,#daff00 0 1735.3px,#c8ff00 0 1758.8px,#b6ff00 0 1782.2px,#a3ff00 0 1805.6px,#8fff00 0 1829.1px,#7bff00 0 1852.5px,#66ff00 0 1876.0px)"></div>
<div style="top:1219.40px;background:linear-gradient(90deg,#00ff4f 0 23.4px,#00ff37 0 46.9px,#00ff1f 0 70.3px,#00ff07 0 93.8px,#10ff00 0 117.2px,#27ff00 0 140.7px,#3eff00 0 164.2px,#54ff00 0 187.6px,#69ff00 0 211.0px,#7dff00 0 234.5px,#91ff00 0 257.9px,#a5ff00 0 281.4px,#b8ff00 0 304.8px,#caff00 0 328.3px,#dcff00 0 351.8px,#edff00 0 375.2px,#fdff00 0 398.6px,#fff100 0 422.1px,#ffe200 0 445.6px,#ffd400 0 469.0px,#ffc600 0 492.4px,#ffb900 0 515.9px,#ffac00 0 539.4px,#ffa000 0 562.8px,#ff9500 0 586.2px,#ff8a00 0 609.7px,#ff8000 0 633.1px,#ff7600 0 656.6px,#ff6d00 0 680.0px,#ff6400 0 703.5px,#ff5c00 0 726.9px,#ff5500 0 750.4px,#ff4e00 0 773.9px,#ff4800 0 797.3px,#ff4200 0 820.8px,#ff3d00 0 844.2px,#ff3900 0 867.6px,#ff3500 0 891.1px,#ff3100 0 914.5px,#ff2f00 0 938.0px,#ff2c00 0 961.4px,#ff2b00 0 984.9px,#ff2a00 0 1008.4px,#ff2900 0 1031.8px,#ff2900 0 1055.2px,#ff2a00 0 1078.7px,#ff2b00 0 1102.1px,#ff2d00 0 1125.6px,#ff3000 0 1149.0px,#ff3300 0 1172.5px,#ff3600 0 1196.0px,#ff3b00 0 1219.4px,#ff3f00 0 1242.8px,#ff4500 0 1266.3px,#ff4b00 0 1289.8px,#ff5100 0 1313.2px,#ff5800 0 1336.6px,#ff6000 0 1360.1px,#ff6800 0 1383.5px,#ff7100 0 1407.0px,#ff7a00 0 1430.5px,#ff8400 0 1453.9px,#ff8f00 0 1477.3px,#ff9a00 0 1500.8px,#ffa600 0 1524.2px,#ffb200 0 1547.7px,#ffbf00 0 1571.1px,#ffcc00 0 1594.6px,#ffda00 0 1618.0px,#ffe900 0 1641.5px,#fff800 0 1665.0px,#f6ff00 0 1688.4px,#e5ff00 0 1711.8px,#d4ff00 0 1735.3px,#c2ff00 0 1758.8px,#afff00 0 1782.2px,#9cff00 0 1805.6px,#88ff00 0 1829.1px,#74ff00 0 1852.5px,#5fff00 0 1876.0px)"></div>
<div style="top:1242.85px;background:linear-gradient(90deg,#00ff50 0 23.4px,#00ff38 0 46.9px,#00ff20 0 70.3px,#00ff09 0 93.8px,#0fff00 0 117.2px,#26ff00 0 140.7px,#3cff00 0 164.2px,#52ff00 0 187.6px,#67ff00 0 211.0px,#7bff00 0 234.5px,#8fff00 0 257.9px,#a3ff00 0 281.4px,#b6ff00 0 304.8px,#c8ff00 0 328.3px,#d9ff00 0 351.8px,#eaff00 0 375.2px,#fbff00 0 398.6px,#fff400 0 422.1px,#ffe500 0 445.6px,#ffd700 0 469.0px,#ffc900 0 492.4px,#ffbc00 0 515.9px,#ffaf00 0 539.4px,#ffa300 0 562.8px,#ff9800 0 586.2px,#ff8d00 0 609.7px,#ff8300 0 633.1px,#ff7900 0 656.6px,#ff7000 0 680.0px,#ff6800 0 703.5px,#ff6000 0 726.9px,#ff5800 0 750.4px,#ff5200 0 773.9px,#ff4b00 0 797.3px,#ff4600 0 820.8px,#ff4100 0 844.2px,#ff3c00 0 867.6px,#ff3900 0 891.1px,#ff3500 0 914.5px,#ff3300 0 938.0px,#ff3000 0 961.4px,#ff2f00 0 984.9px,#ff2e00 0 1008.4px,#ff2e00 0 1031.8px,#ff2e00 0 1055.2px,#ff2f00 0 1078.7px,#ff3000 0 1102.1px,#ff3200 0 1125.6px,#ff3400 0 1149.0px,#ff3700 0 1172.5px,#ff3b00 0 1196.0px,#ff3f00 0 1219.4px,#ff4400 0 1242.8px,#ff4a00 0 1266.3px,#ff5000 0 1289.8px,#ff5600 0 1313.2px,#ff5d00 0 1336.6px,#ff6500 0 1360.1px,#ff6d00 0 1383.5px,#ff7600 0 1407.0px,#ff8000 0 1430.5px,#ff8a00 0 1453.9px,#ff9400 0 1477.3px,#ffa000 0 1500.8px,#ffab00 0 1524.2px,#ffb800 0 1547.7px,#ffc500 0 1571.1px,#ffd200 0 1594.6px,#ffe000 0 1618.0px,#ffef00 0 1641.5px,#fffe00 0 1665.0px,#efff00 0 1688.4px,#dfff00 0 1711.8px,#cdff00 0 1735.3px,#bbff00 0 1758.8px,#a9ff00 0 1782.2px,#95ff00 0 1805.6px,#82ff00 0 1829.1px,#6dff00 0 1852.5px,#58ff00 0 1876.0px)"></div>
<div style="top:1266.30px;background:linear-gradient(90deg,#00ff52 0 23.4px,#00ff3a 0 46.9px,#00ff22 0 70.3px,#00ff0b 0 93.8px,#0dff00 0 117.2px,#23ff00 0 140.7px,#3aff00 0 164.2px,#4fff00 0 187.6px,#64ff00 0 211.0px,#79ff00 0 234.5px,#8dff00 0 257.9px,#a0ff00 0 281.4px,#b3ff00 0 304.8px,#c5ff00 0 328.3px,#d7ff00 0 351.8px,#e7ff00 0 375.2px,#f8ff00 0 398.6px,#fff700 0 422.1px,#ffe800 0 445.6px,#ffda00 0 469.0px,#ffcc00 0 492.4px,#ffbf00 0 515.9px,#ffb200 0 539.4px,#ffa700 0 562.8px,#ff9b00 0 586.2px,#ff9000 0 609.7px,#ff8600 0 633.1px,#ff7d00 0 656.6px,#ff7400 0 680.0px,#ff6b00 0 703.5px,#ff6300 0 726.9px,#ff5c00 0 750.4px,#ff5600 0 773.9px,#ff4f00 0 797.3px,#ff4a00 0 820.8px,#ff4500 0 844.2px,#ff4100 0 867.6px,#ff3d00 0 891.1px,#ff3a00 0 914.5px,#ff3700 0 938.0px,#ff3500 0 961.4px,#ff3300 0 984.9px,#ff3300 0 1008.4px,#ff3200 0 1031.8px,#ff3300 0 1055.2px,#ff3300 0 1078.7px,#ff3500 0 1102.1px,#ff3700 0 1125.6px,#ff3900 0 1149.0px,#ff3d00 0 1172.5px,#ff4000 0 1196.0px,#ff4500 0 1219.4px,#ff4a00 0 1242.8px,#ff4f00 0 1266.3px,#ff5500 0 1289.8px,#ff5c00 0 1313.2px,#ff6300 0 1336.6px,#ff6b00 0 1360.1px,#ff7300 0 1383.5px,#ff7c00 0 1407.0px,#ff8600 0 1430.5px,#ff9000 0 1453.9px,#ff9a00 0 1477.3px,#ffa600 0 1500.8px,#ffb200 0 1524.2px,#ffbe00 0 1547.7px,#ffcb00 0 1571.1px,#ffd900 0 1594.6px,#ffe700 0 1618.0px,#fff600 0 1641.5px,#f9ff00 0 1665.0px,#e9ff00 0 1688.4px,#d8ff00 0 1711.8px,#c6ff00 0 1735.3px,#b4ff00 0 1758.8px,#a2ff00 0 1782.2px,#8eff00 0 1805.6px,#7aff00 0 1829.1px,#66ff00 0 1852.5px,#51ff00 0 1876.0px)"></div>
<div style="top:1289.75px;background:linear-gradient(90deg,#00ff54 0 23.4px,#00ff3c 0 46.9px,#00ff24 0 70.3px,#00ff0d 0 93.8px,#0aff00 0 117.2px,#21ff00 0 140.7px,#37ff00 0 164.2px,#4dff00 0 187.6px,#62ff00 0 211.0px,#76ff00 0 234.5px,#8aff00 0 257.9px,#9dff00 0 281.4px,#b0ff00 0 304.8px,#c2ff00 0 328.3px,#d3ff00 0 351.8px,#e4ff00 0 375.2px,#f5ff00 0 398.6px,#fffa00 0 422.1px,#ffeb00 0 445.6px,#ffdd00 0 469.0px,#ffcf00 0 492.4px,#ffc200 0 515.9px,#ffb600 0 539.4px,#ffaa00 0 562.8px,#ff9f00 0 586.2px,#ff9400 0 609.7px,#ff8a00 0 633.1px,#ff8100 0 656.6px,#ff7800 0 680.0px,#ff6f00 0 703.5px,#ff6800 0 726.9px,#ff6000 0 750.4px,#ff5a00 0 773.9px,#ff5400 0 797.3px,#ff4e00 0 820.8px,#ff4900 0 844.2px,#ff4500 0 867.6px,#ff4100 0 891.1px,#ff3e00 0 914.5px,#ff3c00 0 938.0px,#ff3a00 0 961.4px,#ff3800 0 984.9px,#ff3800 0 1008.4px,#ff3700 0 1031.8px,#ff3800 0 1055.2px,#ff3900 0 1078.7px,#ff3a00 0 1102.1px,#ff3c00 0 1125.6px,#ff3f00 0 1149.0px,#ff4200 0 1172.5px,#ff4600 0 1196.0px,#ff4a00 0 1219.4px,#ff4f00 0 1242.8px,#ff5500 0 1266.3px,#ff5b00 0 1289.8px,#ff6200 0 1313.2px,#ff6900 0 1336.6px,#ff7100 0 1360.1px,#ff7900 0 1383.5px,#ff8200 0 1407.0px,#ff8c00 0 1430.5px,#ff9600 0 1453.9px,#ffa100 0 1477.3px,#ffac00 0 1500.8px,#ffb800 0 1524.2px,#ffc500 0 1547.7px,#ffd200 0 1571.1px,#ffdf00 0 1594.6px,#ffee00 0 1618.0px,#fffc00 0 1641.5px,#f2ff00 0 1665.0px,#e2ff00 0 1688.4px,#d1ff00 0 1711.8px,#bfff00 0 1735.3px,#adff00 0 1758.8px,#9aff00 0 1782.2px,#87ff00 0 1805.6px,#73ff00 0 1829.1px,#5eff00 0 1852.5px,#49ff00 0 1876.0px)"></div>
<div style="top:1313.20px;background:linear-gradient(90deg,#00ff57 0 23.4px,#00ff3e 0 46.9px,#00ff27 0 70.3px,#00ff10 0 93.8px,#07ff00 0 117.2px,#1eff00 0 140.7px,#34ff00 0 164.2px,#4aff00 0 187.6px,#5fff00 0 211.0px,#73ff00 0 234.5px,#87ff00 0 257.9px,#9aff00 0 281.4px,#adff00 0 304.8px,#bfff00 0 328.3px,#d0ff00 0 351.8px,#e1ff00 0 375.2px,#f1ff00 0 398.6px,#fffe00 0 422.1px,#ffef00 0 445.6px,#ffe100 0 469.0px,#ffd300 0 492.4px,#ffc600 0 515.9px,#ffba00 0 539.4px,#ffae00 0 562.8px,#ffa300 0 586.2px,#ff9800 0 609.7px,#ff8e00 0 633.1px,#ff8500 0 656.6px,#ff7c00 0 680.0px,#ff7400 0 703.5px,#ff6c00 0 726.9px,#ff6500 0 750.4px,#ff5e00 0 773.9px,#ff5900 0 797.3px,#ff5300 0 820.8px,#ff4e00 0 844.2px,#ff4a00 0 867.6px,#ff4600 0 891.1px,#ff4300 0 914.5px,#ff4100 0 938.0px,#ff3f00 0 961.4px,#ff3e00 0 984.9px,#ff3d00 0 1008.4px,#ff3d00 0 1031.8px,#ff3d00 0 1055.2px,#ff3e00 0 1078.7px,#ff4000 0 1102.1px,#ff4200 0 1125.6px,#ff4500 0 1149.0px,#ff4800 0 1172.5px,#ff4c00 0 1196.0px,#ff5000 0 1219.4px,#ff5500 0 1242.8px,#ff5b00 0 1266.3px,#ff6100 0 1289.8px,#ff6800 0 1313.2px,#ff6f00 0 1336.6px,#ff7700 0 1360.1px,#ff8000 0 1383.5px,#ff8900 0 1407.0px,#ff9200 0 1430.5px,#ff9d00 0 1453.9px,#ffa700 0 1477.3px,#ffb300 0 1500.8px,#ffbf00 0 1524.2px,#ffcb00 0 1547.7px,#ffd900 0 1571.1px,#ffe600 0 1594.6px,#fff500 0 1618.0px,#faff00 0 1641.5px,#ebff00 0 1665.0px,#daff00 0 1688.4px,#c9ff00 0 1711.8px,#b7ff00 0 1735.3px,#a5ff00 0 1758.8px,#92ff00 0 1782.2px,#7fff00 0 1805.6px,#6bff00 0 1829.1px,#56ff00 0 1852.5px,#41ff00 0 1876.0px)"></div>
<div style="top:1336.65px;background:linear-gradient(90deg,#00ff5a 0 23.4px,#00ff41 0 46.9px,#00ff2a 0 70.3px,#00ff13 0 93.8px,#04ff00 0 117.2px,#1bff00 0 140.7px,#31ff00 0 164.2px,#46ff00 0 187.6px,#5bff00 0 211.0px,#6fff00 0 234.5px,#83ff00 0 257.9px,#96ff00 0 281.4px,#a9ff00 0 304.8px,#bbff00 0 328.3px,#ccff00 0 351.8px,#ddff00 0 375.2px,#edff00 0 398.6px,#fcff00 0 422.1px,#fff300 0 445.6px,#ffe500 0 469.0px,#ffd700 0 492.4px,#ffcb00 0 515.9px,#ffbe00 0 539.4px,#ffb300 0 562.8px,#ffa800 0 586.2px,#ff9d00 0 609.7px,#ff9300 0 633.1px,#ff8a00 0 656.6px,#ff8100 0 680.0px,#ff7900 0 703.5px,#ff7100 0 726.9px,#ff6a00 0 750.4px,#ff6300 0 773.9px,#ff5e00 0 797.3px,#ff5800 0 820.8px,#ff5400 0 844.2px,#ff4f00 0 867.6px,#ff4c00 0 891.1px,#ff4900 0 914.5px,#ff4600 0 938.0px,#ff4500 0 961.4px,#ff4300 0 984.9px,#ff4300 0 1008.4px,#ff4200 0 1031.8px,#ff4300 0 1055.2px,#ff4400 0 1078.7px,#ff4600 0 1102.1px,#ff4800 0 1125.6px,#ff4b00 0 1149.0px,#ff4e00 0 1172.5px,#ff5200 0 1196.0px,#ff5600 0 1219.4px,#ff5c00 0 1242.8px,#ff6100 0 1266.3px,#ff6800 0 1289.8px,#ff6e00 0 1313.2px,#ff7600 0 1336.6px,#ff7e00 0 1360.1px,#ff8600 0 1383.5px,#ff9000 0 1407.0px,#ff9900 0 1430.5px,#ffa400 0 1453.9px,#ffaf00 0 1477.3px,#ffba00 0 1500.8px,#ffc600 0 1524.2px,#ffd300 0 1547.7px,#ffe000 0 1571.1px,#ffee00 0 1594.6px,#fffc00 0 1618.0px,#f3ff00 0 1641.5px,#e3ff00 0 1665.0px,#d2ff00 0 1688.4px,#c1ff00 0 1711.8px,#afff00 0 1735.3px,#9dff00 0 1758.8px,#8aff00 0 1782.2px,#77ff00 0 1805.6px,#63ff00 0 1829.1px,#4eff00 0 1852.5px,#39ff00 0 1876.0px)"></div>
<div style="top:1360.10px;background:linear-gradient(90deg,#00ff5d 0 23.4px,#00ff45 0 46.9px,#00ff2d 0 70.3px,#00ff16 0 93.8px,#01ff00 0 117.2px,#17ff00 0 140.7px,#2dff00 0 164.2px,#43ff00 0 187.6px,#57ff00 0 211.0px,#6cff00 0 234.5px,#7fff00 0 257.9px,#92ff00 0 281.4px,#a5ff00 0 304.8px,#b7ff00 0 328.3px,#c8ff00 0 351.8px,#d8ff00 0 375.2px,#e9ff00 0 398.6px,#f8ff00 0 422.1px,#fff700 0 445.6px,#ffe900 0 469.0px,#ffdc00 0 492.4px,#ffcf00 0 515.9px,#ffc300 0 539.4px,#ffb700 0 562.8px,#ffac00 0 586.2px,#ffa200 0 609.7px,#ff9800 0 633.1px,#ff8f00 0 656.6px,#ff8600 0 680.0px,#ff7e00 0 703.5px,#ff7600 0 726.9px,#ff6f00 0 750.4px,#ff6900 0 773.9px,#ff6300 0 797.3px,#ff5e00 0 820.8px,#ff5900 0 844.2px,#ff5500 0 867.6px,#ff5100 0 891.1px,#ff4f00 0 914.5px,#ff4c00 0 938.0px,#ff4a00 0 961.4px,#ff4900 0 984.9px,#ff4900 0 1008.4px,#ff4900 0 1031.8px,#ff4900 0 1055.2px,#ff4a00 0 1078.7px,#ff4c00 0 1102.1px,#ff4e00 0 1125.6px,#ff5100 0 1149.0px,#ff5500 0 1172.5px,#ff5900 0 1196.0px,#ff5d00 0 1219.4px,#ff6200 0 1242.8px,#ff6800 0 1266.3px,#ff6e00 0 1289.8px,#ff7500 0 1313.2px,#ff7d00 0 1336.6px,#ff8500 0 1360.1px,#ff8e00 0 1383.5px,#ff9700 0 1407.0px,#ffa100 0 1430.5px,#ffab00 0 1453.9px,#ffb600 0 1477.3px,#ffc100 0 1500.8px,#ffce00 0 1524.2px,#ffda00 0 1547.7px,#ffe800 0 1571.1px,#fff500 0 1594.6px,#faff00 0 1618.0px,#ebff00 0 1641.5px,#dbff00 0 1665.0px,#caff00 0 1688.4px,#b9ff00 0 1711.8px,#a7ff00 0 1735.3px,#95ff00 0 1758.8px,#82ff00 0 1782.2px,#6eff00 0 1805.6px,#5aff00 0 1829.1px,#45ff00 0 1852.5px,#30ff00 0 1876.0px)"></div>
<div style="top:1383.55px;background:linear-gradient(90deg,#00ff60 0 23.4px,#00ff48 0 46.9px,#00ff31 0 70.3px,#00ff1a 0 93.8px,#00ff03 0 117.2px,#13ff00 0 140.7px,#29ff00 0 164.2px,#3eff00 0 187.6px,#53ff00 0 211.0px,#67ff00 0 234.5px,#7bff00 0 257.9px,#8eff00 0 281.4px,#a0ff00 0 304.8px,#b2ff00 0 328.3px,#c3ff00 0 351.8px,#d4ff00 0 375.2px,#e4ff00 0 398.6px,#f3ff00 0 422.1px,#fffc00 0 445.6px,#ffee00 0 469.0px,#ffe100 0 492.4px,#ffd400 0 515.9px,#ffc800 0 539.4px,#ffbc00 0 562.8px,#ffb100 0 586.2px,#ffa700 0 609.7px,#ff9d00 0 633.1px,#ff9400 0 656.6px,#ff8b00 0 680.0px,#ff8300 0 703.5px,#ff7c00 0 726.9px,#ff7500 0 750.4px,#ff6f00 0 773.9px,#ff6900 0 797.3px,#ff6400 0 820.8px,#ff5f00 0 844.2px,#ff5b00 0 867.6px,#ff5800 0 891.1px,#ff5500 0 914.5px,#ff5200 0 938.0px,#ff5100 0 961.4px,#ff5000 0 984.9px,#ff4f00 0 1008.4px,#ff4f00 0 1031.8px,#ff5000 0 1055.2px,#ff5100 0 1078.7px,#ff5300 0 1102.1px,#ff5500 0 1125.6px,#ff5800 0 1149.0px,#ff5b00 0 1172.5px,#ff5f00 0 1196.0px,#ff6400 0 1219.4px,#ff6900 0 1242.8px,#ff6f00 0 1266.3px,#ff7600 0 1289.8px,#ff7d00 0 1313.2px,#ff8400 0 1336.6px,#ff8c00 0 1360.1px,#ff9500 0 1383.5px,#ff9e00 0 1407.0px,#ffa800 0 1430.5px,#ffb300 0 1453.9px,#ffbe00 0 1477.3px,#ffc900 0 1500.8px,#ffd500 0 1524.2px,#ffe200 0 1547.7px,#fff000 0 1571.1px,#fffe00 0 1594.6px,#f2ff00 0 1618.0px,#e2ff00 0 1641.5px,#d2ff00 0 1665.0px,#c1ff00 0 1688.4px,#b0ff00 0 1711.8px,#9eff00 0 1735.3px,#8cff00 0 1758.8px,#79ff00 0 1782.2px,#65ff00 0 1805.6px,#51ff00 0 1829.1px,#3cff00 0 1852.5px,#27ff00 0 1876.0px)"></div>
<div style="top:1407.00px;background:linear-gradient(90deg,#00ff64 0 23.4px,#00ff4c 0 46.9px,#00ff35 0 70.3px,#00ff1e 0 93.8px,#00ff07 0 117.2px,#0fff00 0 140.7px,#25ff00 0 164.2px,#3aff00 0 187.6px,#4fff00 0 211.0px,#63ff00 0 234.5px,#76ff00 0 257.9px,#89ff00 0 281.4px,#9bff00 0 304.8px,#adff00 0 328.3px,#beff00 0 351.8px,#cfff00 0 375.2px,#dfff00 0 398.6px,#eeff00 0 422.1px,#fdff00 0 445.6px,#fff300 0 469.0px,#ffe600 0 492.4px,#ffd900 0 515.9px,#ffcd00 0 539.4px,#ffc200 0 562.8px,#ffb700 0 586.2px,#ffad00 0 609.7px,#ffa300 0 633.1px,#ff9a00 0 656.6px,#ff9100 0 680.0px,#ff8900 0 703.5px,#ff8200 0 726.9px,#ff7b00 0 750.4px,#ff7500 0 773.9px,#ff6f00 0 797.3px,#ff6a00 0 820.8px,#ff6500 0 844.2px,#ff6100 0 867.6px,#ff5e00 0 891.1px,#ff5b00 0 914.5px,#ff5900 0 938.0px,#ff5700 0 961.4px,#ff5600 0 984.9px,#ff5600 0 1008.4px,#ff5600 0 1031.8px,#ff5700 0 1055.2px,#ff5800 0 1078.7px,#ff5a00 0 1102.1px,#ff5c00 0 1125.6px,#ff5f00 0 1149.0px,#ff6300 0 1172.5px,#ff6700 0 1196.0px,#ff6b00 0 1219.4px,#ff7100 0 1242.8px,#ff7700 0 1266.3px,#ff7d00 0 1289.8px,#ff8400 0 1313.2px,#ff8c00 0 1336.6px,#ff9400 0 1360.1px,#ff9d00 0 1383.5px,#ffa600 0 1407.0px,#ffb000 0 1430.5px,#ffbb00 0 1453.9px,#ffc600 0 1477.3px,#ffd100 0 1500.8px,#ffde00 0 1524.2px,#ffeb00 0 1547.7px,#fff800 0 1571.1px,#f8ff00 0 1594.6px,#e9ff00 0 1618.0px,#d9ff00 0 1641.5px,#c9ff00 0 1665.0px,#b9ff00 0 1688.4px,#a7ff00 0 1711.8px,#95ff00 0 1735.3px,#83ff00 0 1758.8px,#70ff00 0 1782.2px,#5cff00 0 1805.6px,#48ff00 0 1829.1px,#33ff00 0 1852.5px,#1dff00 0 1876.0px)"></div>
<div style="top:1430.45px;background:linear-gradient(90deg,#00ff68 0 23.4px,#00ff50 0 46.9px,#00ff39 0 70.3px,#00ff22 0 93.8px,#00ff0c 0 117.2px,#0aff00 0 140.7px,#20ff00 0 164.2px,#35ff00 0 187.6px,#4aff00 0 211.0px,#5eff00 0 234.5px,#71ff00 0 257.9px,#84ff00 0 281.4px,#96ff00 0 304.8px,#a8ff00 0 328.3px,#b9ff00 0 351.8px,#c9ff00 0 375.2px,#d9ff00 0 398.6px,#e9ff00 0 422.1px,#f7ff00 0 445.6px,#fff900 0 469.0px,#ffec00 0 492.4px,#ffdf00 0 515.9px,#ffd300 0 539.4px,#ffc800 0 562.8px,#ffbd00 0 586.2px,#ffb300 0 609.7px,#ffa900 0 633.1px,#ffa000 0 656.6px,#ff9700 0 680.0px,#ff8f00 0 703.5px,#ff8800 0 726.9px,#ff8100 0 750.4px,#ff7b00 0 773.9px,#ff7500 0 797.3px,#ff7000 0 820.8px,#ff6c00 0 844.2px,#ff6800 0 867.6px,#ff6500 0 891.1px,#ff6200 0 914.5px,#ff6000 0 938.0px,#ff5e00 0 961.4px,#ff5d00 0 984.9px,#ff5d00 0 1008.4px,#ff5d00 0 1031.8px,#ff5e00 0 1055.2px,#ff5f00 0 1078.7px,#ff6100 0 1102.1px,#ff6300 0 1125.6px,#ff6700 0 1149.0px,#ff6a00 0 1172.5px,#ff6e00 0 1196.0px,#ff7300 0 1219.4px,#ff7900 0 1242.8px,#ff7f00 0 1266.3px,#ff8500 0 1289.8px,#ff8c00 0 1313.2px,#ff9400 0 1336.6px,#ff9c00 0 1360.1px,#ffa500 0 1383.5px,#ffae00 0 1407.0px,#ffb800 0 1430.5px,#ffc300 0 1453.9px,#ffce00 0 1477.3px,#ffda00 0 1500.8px,#ffe600 0 1524.2px,#fff300 0 1547.7px,#fdff00 0 1571.1px,#efff00 0 1594.6px,#e0ff00 0 1618.0px,#d0ff00 0 1641.5px,#c0ff00 0 1665.0px,#afff00 0 1688.4px,#9eff00 0 1711.8px,#8cff00 0 1735.3px,#79ff00 0 1758.8px,#66ff00 0 1782.2px,#52ff00 0 1805.6px,#3eff00 0 1829.1px,#29ff00 0 1852.5px,#13ff00 0 1876.0px)"></div>
<div style="top:1453.90px;background:linear-gradient(90deg,#00ff6d 0 23.4px,#00ff55 0 46.9px,#00ff3e 0 70.3px,#00ff27 0 93.8px,#00ff11 0 117.2px,#05ff00 0 140.7px,#1bff00 0 164.2px,#30ff00 0 187.6px,#45ff00 0 211.0px,#59ff00 0 234.5px,#6cff00 0 257.9px,#7fff00 0 281.4px,#91ff00 0 304.8px,#a2ff00 0 328.3px,#b3ff00 0 351.8px,#c4ff00 0 375.2px,#d3ff00 0 398.6px,#e3ff00 0 422.1px,#f1ff00 0 445.6px,#ffff00 0 469.0px,#fff200 0 492.4px,#ffe500 0 515.9px,#ffd900 0 539.4px,#ffce00 0 562.8px,#ffc300 0 586.2px,#ffb900 0 609.7px,#ffaf00 0 633.1px,#ffa600 0 656.6px,#ff9e00 0 680.0px,#ff9600 0 703.5px,#ff8f00 0 726.9px,#ff8800 0 750.4px,#ff8200 0 773.9px,#ff7c00 0 797.3px,#ff7700 0 820.8px,#ff7300 0 844.2px,#ff6f00 0 867.6px,#ff6c00 0 891.1px,#ff6900 0 914.5px,#ff6700 0 938.0px,#ff6600 0 961.4px,#ff6500 0 984.9px,#ff6400 0 1008.4px,#ff6500 0 1031.8px,#ff6500 0 1055.2px,#ff6700 0 1078.7px,#ff6900 0 1102.1px,#ff6b00 0 1125.6px,#ff6e00 0 1149.0px,#ff7200 0 1172.5px,#ff7600 0 1196.0px,#ff7b00 0 1219.4px,#ff8100 0 1242.8px,#ff8700 0 1266.3px,#ff8d00 0 1289.8px,#ff9500 0 1313.2px,#ff9c00 0 1336.6px,#ffa500 0 1360.1px,#ffae00 0 1383.5px,#ffb700 0 1407.0px,#ffc100 0 1430.5px,#ffcc00 0 1453.9px,#ffd700 0 1477.3px,#ffe300 0 1500.8px,#ffef00 0 1524.2px,#fffc00 0 1547.7px,#f4ff00 0 1571.1px,#e5ff00 0 1594.6px,#d6ff00 0 1618.0px,#c7ff00 0 1641.5px,#b6ff00 0 1665.0px,#a6ff00 0 1688.4px,#94ff00 0 1711.8px,#82ff00 0 1735.3px,#6fff00 0 1758.8px,#5cff00 0 1782.2px,#48ff00 0 1805.6px,#34ff00 0 1829.1px,#1fff00 0 1852.5px,#09ff00 0 1876.0px)"></div>
<div style="top:1477.35px;background:linear-gradient(90deg,#00ff72 0 23.4px,#00ff5a 0 46.9px,#00ff43 0 70.3px,#00ff2c 0 93.8px,#00ff16 0 117.2px,#00ff00 0 140.7px,#15ff00 0 164.2px,#2aff00 0 187.6px,#3fff00 0 211.0px,#53ff00 0 234.5px,#66ff00 0 257.9px,#79ff00 0 281.4px,#8bff00 0 304.8px,#9cff00 0 328.3px,#adff00 0 351.8px,#beff00 0 375.2px,#cdff00 0 398.6px,#dcff00 0 422.1px,#ebff00 0 445.6px,#f9ff00 0 469.0px,#fff800 0 492.4px,#ffec00 0 515.9px,#ffe000 0 539.4px,#ffd400 0 562.8px,#ffca00 0 586.2px,#ffc000 0 609.7px,#ffb600 0 633.1px,#ffad00 0 656.6px,#ffa500 0 680.0px,#ff9d00 0 703.5px,#ff9600 0 726.9px,#ff8f00 0 750.4px,#ff8900 0 773.9px,#ff8300 0 797.3px,#ff7e00 0 820.8px,#ff7a00 0 844.2px,#ff7600 0 867.6px,#ff7300 0 891.1px,#ff7100 0 914.5px,#ff6f00 0 938.0px,#ff6d00 0 961.4px,#ff6c00 0 984.9px,#ff6c00 0 1008.4px,#ff6c00 0 1031.8px,#ff6d00 0 1055.2px,#ff6f00 0 1078.7px,#ff7100 0 1102.1px,#ff7300 0 1125.6px,#ff7700 0 1149.0px,#ff7a00 0 1172.5px,#ff7f00 0 1196.0px,#ff8400 0 1219.4px,#ff8900 0 1242.8px,#ff8f00 0 1266.3px,#ff9600 0 1289.8px,#ff9d00 0 1313.2px,#ffa500 0 1336.6px,#ffad00 0 1360.1px,#ffb600 0 1383.5px,#ffc000 0 1407.0px,#ffca00 0 1430.5px,#ffd500 0 1453.9px,#ffe000 0 1477.3px,#ffec00 0 1500.8px,#fff900 0 1524.2px,#f8ff00 0 1547.7px,#eaff00 0 1571.1px,#dcff00 0 1594.6px,#cdff00 0 1618.0px,#bdff00 0 1641.5px,#acff00 0 1665.0px,#9cff00 0 1688.4px,#8aff00 0 1711.8px,#78ff00 0 1735.3px,#65ff00 0 1758.8px,#52ff00 0 1782.2px,#3eff00 0 1805.6px,#29ff00 0 1829.1px,#14ff00 0 1852.5px,#00ff01 0 1876.0px)"></div>
<div style="top:1500.80px;background:linear-gradient(90deg,#00ff77 0 23.4px,#00ff5f 0 46.9px,#00ff48 0 70.3px,#00ff31 0 93.8px,#00ff1b 0 117.2px,#00ff06 0 140.7px,#10ff00 0 164.2px,#25ff00 0 187.6px,#39ff00 0 211.0px,#4dff00 0 234.5px,#60ff00 0 257.9px,#73ff00 0 281.4px,#85ff00 0 304.8px,#96ff00 0 328.3px,#a7ff00 0 351.8px,#b7ff00 0 375.2px,#c7ff00 0 398.6px,#d6ff00 0 422.1px,#e4ff00 0 445.6px,#f2ff00 0 469.0px,#ffff00 0 492.4px,#fff200 0 515.9px,#ffe600 0 539.4px,#ffdb00 0 562.8px,#ffd100 0 586.2px,#ffc700 0 609.7px,#ffbd00 0 633.1px,#ffb400 0 656.6px,#ffac00 0 680.0px,#ffa400 0 703.5px,#ff9d00 0 726.9px,#ff9600 0 750.4px,#ff9000 0 773.9px,#ff8b00 0 797.3px,#ff8600 0 820.8px,#ff8200 0 844.2px,#ff7e00 0 867.6px,#ff7b00 0 891.1px,#ff7900 0 914.5px,#ff7700 0 938.0px,#ff7500 0 961.4px,#ff7400 0 984.9px,#ff7400 0 1008.4px,#ff7500 0 1031.8px,#ff7600 0 1055.2px,#ff7700 0 1078.7px,#ff7900 0 1102.1px,#ff7c00 0 1125.6px,#ff7f00 0 1149.0px,#ff8300 0 1172.5px,#ff8700 0 1196.0px,#ff8c00 0 1219.4px,#ff9200 0 1242.8px,#ff9800 0 1266.3px,#ff9f00 0 1289.8px,#ffa600 0 1313.2px,#ffae00 0 1336.6px,#ffb700 0 1360.1px,#ffc000 0 1383.5px,#ffc900 0 1407.0px,#ffd400 0 1430.5px,#ffde00 0 1453.9px,#ffea00 0 1477.3px,#fff600 0 1500.8px,#fcff00 0 1524.2px,#eeff00 0 1547.7px,#e0ff00 0 1571.1px,#d2ff00 0 1594.6px,#c2ff00 0 1618.0px,#b3ff00 0 1641.5px,#a2ff00 0 1665.0px,#91ff00 0 1688.4px,#80ff00 0 1711.8px,#6dff00 0 1735.3px,#5bff00 0 1758.8px,#47ff00 0 1782.2px,#33ff00 0 1805.6px,#1fff00 0 1829.1px,#0aff00 0 1852.5px,#00ff0c 0 1876.0px)"></div>
<div style="top:1524.25px;background:linear-gradient(90deg,#00ff7c 0 23.4px,#00ff65 0 46.9px,#00ff4e 0 70.3px,#00ff37 0 93.8px,#00ff21 0 117.2px,#00ff0c 0 140.7px,#09ff00 0 164.2px,#1eff00 0 187.6px,#33ff00 0 211.0px,#46ff00 0 234.5px,#5aff00 0 257.9px,#6cff00 0 281.4px,#7eff00 0 304.8px,#8fff00 0 328.3px,#a0ff00 0 351.8px,#b0ff00 0 375.2px,#c0ff00 0 398.6px,#cfff00 0 422.1px,#ddff00 0 445.6px,#ebff00 0 469.0px,#f8ff00 0 492.4px,#fff900 0 515.9px,#ffee00 0 539.4px,#ffe200 0 562.8px,#ffd800 0 586.2px,#ffce00 0 609.7px,#ffc400 0 633.1px,#ffbc00 0 656.6px,#ffb300 0 680.0px,#ffac00 0 703.5px,#ffa500 0 726.9px,#ff9e00 0 750.4px,#ff9800 0 773.9px,#ff9300 0 797.3px,#ff8e00 0 820.8px,#ff8a00 0 844.2px,#ff8600 0 867.6px,#ff8300 0 891.1px,#ff8100 0 914.5px,#ff7f00 0 938.0px,#ff7e00 0 961.4px,#ff7d00 0 984.9px,#ff7d00 0 1008.4px,#ff7d00 0 1031.8px,#ff7e00 0 1055.2px,#ff8000 0 1078.7px,#ff8200 0 1102.1px,#ff8500 0 1125.6px,#ff8800 0 1149.0px,#ff8c00 0 1172.5px,#ff9000 0 1196.0px,#ff9600 0 1219.4px,#ff9b00 0 1242.8px,#ffa100 0 1266.3px,#ffa800 0 1289.8px,#ffb000 0 1313.2px,#ffb800 0 1336.6px,#ffc000 0 1360.1px,#ffc900 0 1383.5px,#ffd300 0 1407.0px,#ffdd00 0 1430.5px,#ffe800 0 1453.9px,#fff400 0 1477.3px,#feff00 0 1500.8px,#f1ff00 0 1524.2px,#e4ff00 0 1547.7px,#d6ff00 0 1571.1px,#c7ff00 0 1594.6px,#b8ff00 0 1618.0px,#a8ff00 0 1641.5px,#97ff00 0 1665.0px,#86ff00 0 1688.4px,#75ff00 0 1711.8px,#62ff00 0 1735.3px,#50ff00 0 1758.8px,#3cff00 0 1782.2px,#28ff00 0 1805.6px,#13ff00 0 1829.1px,#00ff02 0 1852.5px,#00ff17 0 1876.0px)"></div>
<div style="top:1547.70px;background:linear-gradient(90deg,#00ff82 0 23.4px,#00ff6b 0 46.9px,#00ff54 0 70.3px,#00ff3d 0 93.8px,#00ff27 0 117.2px,#00ff12 0 140.7px,#03ff00 0 164.2px,#18ff00 0 187.6px,#2cff00 0 211.0px,#40ff00 0 234.5px,#53ff00 0 257.9px,#65ff00 0 281.4px,#77ff00 0 304.8px,#88ff00 0 328.3px,#99ff00 0 351.8px,#a9ff00 0 375.2px,#b9ff00 0 398.6px,#c8ff00 0 422.1px,#d6ff00 0 445.6px,#e4ff00 0 469.0px,#f1ff00 0 492.4px,#fdff00 0 515.9px,#fff500 0 539.4px,#ffea00 0 562.8px,#ffdf00 0 586.2px,#ffd600 0 609.7px,#ffcc00 0 633.1px,#ffc300 0 656.6px,#ffbb00 0 680.0px,#ffb400 0 703.5px,#ffad00 0 726.9px,#ffa600 0 750.4px,#ffa000 0 773.9px,#ff9b00 0 797.3px,#ff9600 0 820.8px,#ff9200 0 844.2px,#ff8f00 0 867.6px,#ff8c00 0 891.1px,#ff8900 0 914.5px,#ff8800 0 938.0px,#ff8600 0 961.4px,#ff8600 0 984.9px,#ff8600 0 1008.4px,#ff8600 0 1031.8px,#ff8700 0 1055.2px,#ff8900 0 1078.7px,#ff8b00 0 1102.1px,#ff8e00 0 1125.6px,#ff9100 0 1149.0px,#ff9500 0 1172.5px,#ff9a00 0 1196.0px,#ff9f00 0 1219.4px,#ffa500 0 1242.8px,#ffab00 0 1266.3px,#ffb200 0 1289.8px,#ffb900 0 1313.2px,#ffc100 0 1336.6px,#ffca00 0 1360.1px,#ffd300 0 1383.5px,#ffdd00 0 1407.0px,#ffe700 0 1430.5px,#fff200 0 1453.9px,#fffe00 0 1477.3px,#f4ff00 0 1500.8px,#e7ff00 0 1524.2px,#d9ff00 0 1547.7px,#cbff00 0 1571.1px,#bcff00 0 1594.6px,#adff00 0 1618.0px,#9dff00 0 1641.5px,#8cff00 0 1665.0px,#7bff00 0 1688.4px,#6aff00 0 1711.8px,#57ff00 0 1735.3px,#44ff00 0 1758.8px,#31ff00 0 1782.2px,#1dff00 0 1805.6px,#08ff00 0 1829.1px,#00ff0d 0 1852.5px,#00ff22 0 1876.0px)"></div>
<div style="top:1571.15px;background:linear-gradient(90deg,#00ff89 0 23.4px,#00ff71 0 46.9px,#00ff5a 0 70.3px,#00ff44 0 93.8px,#00ff2e 0 117.2px,#00ff19 0 140.7px,#00ff04 0 164.2px,#11ff00 0 187.6px,#25ff00 0 211.0px,#38ff00 0 234.5px,#4bff00 0 257.9px,#5eff00 0 281.4px,#70ff00 0 304.8px,#81ff00 0 328.3px,#92ff00 0 351.8px,#a2ff00 0 375.2px,#b1ff00 0 398.6px,#c0ff00 0 422.1px,#ceff00 0 445.6px,#dcff00 0 469.0px,#e9ff00 0 492.4px,#f5ff00 0 515.9px,#fffd00 0 539.4px,#fff200 0 562.8px,#ffe700 0 586.2px,#ffde00 0 609.7px,#ffd400 0 633.1px,#ffcc00 0 656.6px,#ffc400 0 680.0px,#ffbc00 0 703.5px,#ffb500 0 726.9px,#ffaf00 0 750.4px,#ffa900 0 773.9px,#ffa400 0 797.3px,#ff9f00 0 820.8px,#ff9b00 0 844.2px,#ff9800 0 867.6px,#ff9500 0 891.1px,#ff9200 0 914.5px,#ff9100 0 938.0px,#ff8f00 0 961.4px,#ff8f00 0 984.9px,#ff8f00 0 1008.4px,#ff8f00 0 1031.8px,#ff9100 0 1055.2px,#ff9200 0 1078.7px,#ff9500 0 1102.1px,#ff9700 0 1125.6px,#ff9b00 0 1149.0px,#ff9f00 0 1172.5px,#ffa400 0 1196.0px,#ffa900 0 1219.4px,#ffaf00 0 1242.8px,#ffb500 0 1266.3px,#ffbc00 0 1289.8px,#ffc300 0 1313.2px,#ffcc00 0 1336.6px,#ffd400 0 1360.1px,#ffde00 0 1383.5px,#ffe700 0 1407.0px,#fff200 0 1430.5px,#fffd00 0 1453.9px,#f5ff00 0 1477.3px,#e9ff00 0 1500.8px,#dcff00 0 1524.2px,#ceff00 0 1547.7px,#c0ff00 0 1571.1px,#b1ff00 0 1594.6px,#a2ff00 0 1618.0px,#92ff00 0 1641.5px,#81ff00 0 1665.0px,#70ff00 0 1688.4px,#5eff00 0 1711.8px,#4cff00 0 1735.3px,#39ff00 0 1758.8px,#25ff00 0 1782.2px,#11ff00 0 1805.6px,#00ff04 0 1829.1px,#00ff18 0 1852.5px,#00ff2e 0 1876.0px)"></div>
<div style="top:1594.60px;background:linear-gradient(90deg,#00ff8f 0 23.4px,#00ff78 0 46.9px,#00ff61 0 70.3px,#00ff4b 0 93.8px,#00ff35 0 117.2px,#00ff20 0 140.7px,#00ff0b 0 164.2px,#09ff00 0 187.6px,#1dff00 0 211.0px,#31ff00 0 234.5px,#44ff00 0 257.9px,#56ff00 0 281.4px,#68ff00 0 304.8px,#79ff00 0 328.3px,#8aff00 0 351.8px,#9aff00 0 375.2px,#a9ff00 0 398.6px,#b8ff00 0 422.1px,#c6ff00 0 445.6px,#d4ff00 0 469.0px,#e1ff00 0 492.4px,#edff00 0 515.9px,#f9ff00 0 539.4px,#fffa00 0 562.8px,#fff000 0 586.2px,#ffe600 0 609.7px,#ffdd00 0 633.1px,#ffd400 0 656.6px,#ffcc00 0 680.0px,#ffc500 0 703.5px,#ffbe00 0 726.9px,#ffb700 0 750.4px,#ffb200 0 773.9px,#ffad00 0 797.3px,#ffa800 0 820.8px,#ffa400 0 844.2px,#ffa100 0 867.6px,#ff9e00 0 891.1px,#ff9c00 0 914.5px,#ff9a00 0 938.0px,#ff9900 0 961.4px,#ff9800 0 984.9px,#ff9800 0 1008.4px,#ff9900 0 1031.8px,#ff9a00 0 1055.2px,#ff9c00 0 1078.7px,#ff9e00 0 1102.1px,#ffa100 0 1125.6px,#ffa500 0 1149.0px,#ffa900 0 1172.5px,#ffae00 0 1196.0px,#ffb300 0 1219.4px,#ffb900 0 1242.8px,#ffbf00 0 1266.3px,#ffc600 0 1289.8px,#ffce00 0 1313.2px,#ffd600 0 1336.6px,#ffdf00 0 1360.1px,#ffe800 0 1383.5px,#fff200 0 1407.0px,#fffd00 0 1430.5px,#f6ff00 0 1453.9px,#eaff00 0 1477.3px,#deff00 0 1500.8px,#d1ff00 0 1524.2px,#c3ff00 0 1547.7px,#b4ff00 0 1571.1px,#a6ff00 0 1594.6px,#96ff00 0 1618.0px,#86ff00 0 1641.5px,#75ff00 0 1665.0px,#64ff00 0 1688.4px,#52ff00 0 1711.8px,#40ff00 0 1735.3px,#2dff00 0 1758.8px,#19ff00 0 1782.2px,#05ff00 0 1805.6px,#00ff10 0 1829.1px,#00ff24 0 1852.5px,#00ff3a 0 1876.0px)"></div>
<div style="top:1618.05px;background:linear-gradient(90deg,#00ff96 0 23.4px,#00ff7f 0 46.9px,#00ff68 0 70.3px,#00ff52 0 93.8px,#00ff3c 0 117.2px,#00ff27 0 140.7px,#00ff12 0 164.2px,#02ff00 0 187.6px,#16ff00 0 211.0px,#29ff00 0 234.5px,#3cff00 0 257.9px,#4eff00 0 281.4px,#60ff00 0 304.8px,#71ff00 0 328.3px,#81ff00 0 351.8px,#91ff00 0 375.2px,#a1ff00 0 398.6px,#afff00 0 422.1px,#bdff00 0 445.6px,#cbff00 0 469.0px,#d8ff00 0 492.4px,#e4ff00 0 515.9px,#f0ff00 0 539.4px,#fbff00 0 562.8px,#fff800 0 586.2px,#ffef00 0 609.7px,#ffe600 0 633.1px,#ffdd00 0 656.6px,#ffd500 0 680.0px,#ffce00 0 703.5px,#ffc700 0 726.9px,#ffc100 0 750.4px,#ffbb00 0 773.9px,#ffb600 0 797.3px,#ffb100 0 820.8px,#ffae00 0 844.2px,#ffaa00 0 867.6px,#ffa700 0 891.1px,#ffa500 0 914.5px,#ffa400 0 938.0px,#ffa300 0 961.4px,#ffa200 0 984.9px,#ffa200 0 1008.4px,#ffa300 0 1031.8px,#ffa400 0 1055.2px,#ffa600 0 1078.7px,#ffa900 0 1102.1px,#ffac00 0 1125.6px,#ffaf00 0 1149.0px,#ffb300 0 1172.5px,#ffb800 0 1196.0px,#ffbe00 0 1219.4px,#ffc300 0 1242.8px,#ffca00 0 1266.3px,#ffd100 0 1289.8px,#ffd900 0 1313.2px,#ffe100 0 1336.6px,#ffea00 0 1360.1px,#fff300 0 1383.5px,#fffd00 0 1407.0px,#f6ff00 0 1430.5px,#ebff00 0 1453.9px,#dfff00 0 1477.3px,#d2ff00 0 1500.8px,#c5ff00 0 1524.2px,#b7ff00 0 1547.7px,#a9ff00 0 1571.1px,#9aff00 0 1594.6px,#8aff00 0 1618.0px,#7aff00 0 1641.5px,#69ff00 0 1665.0px,#58ff00 0 1688.4px,#46ff00 0 1711.8px,#33ff00 0 1735.3px,#20ff00 0 1758.8px,#0cff00 0 1782.2px,#00ff08 0 1805.6px,#00ff1c 0 1829.1px,#00ff31 0 1852.5px,#00ff46 0 1876.0px)"></div>
<div style="top:1641.50px;background:linear-gradient(90deg,#00ff9e 0 23.4px,#00ff86 0 46.9px,#00ff70 0 70.3px,#00ff59 0 93.8px,#00ff44 0 117.2px,#00ff2f 0 140.7px,#00ff1a 0 164.2px,#00ff06 0 187.6px,#0eff00 0 211.0px,#21ff00 0 234.5px,#34ff00 0 257.9px,#46ff00 0 281.4px,#57ff00 0 304.8px,#68ff00 0 328.3px,#79ff00 0 351.8px,#89ff00 0 375.2px,#98ff00 0 398.6px,#a7ff00 0 422.1px,#b5ff00 0 445.6px,#c2ff00 0 469.0px,#cfff00 0 492.4px,#dbff00 0 515.9px,#e7ff00 0 539.4px,#f2ff00 0 562.8px,#fcff00 0 586.2px,#fff800 0 609.7px,#ffef00 0 633.1px,#ffe600 0 656.6px,#ffde00 0 680.0px,#ffd700 0 703.5px,#ffd000 0 726.9px,#ffca00 0 750.4px,#ffc500 0 773.9px,#ffc000 0 797.3px,#ffbb00 0 820.8px,#ffb700 0 844.2px,#ffb400 0 867.6px,#ffb100 0 891.1px,#ffaf00 0 914.5px,#ffae00 0 938.0px,#ffad00 0 961.4px,#ffac00 0 984.9px,#ffad00 0 1008.4px,#ffad00 0 1031.8px,#ffaf00 0 1055.2px,#ffb100 0 1078.7px,#ffb300 0 1102.1px,#ffb600 0 1125.6px,#ffba00 0 1149.0px,#ffbe00 0 1172.5px,#ffc300 0 1196.0px,#ffc800 0 1219.4px,#ffce00 0 1242.8px,#ffd500 0 1266.3px,#ffdc00 0 1289.8px,#ffe400 0 1313.2px,#ffec00 0 1336.6px,#fff500 0 1360.1px,#ffff00 0 1383.5px,#f5ff00 0 1407.0px,#eaff00 0 1430.5px,#dfff00 0 1453.9px,#d3ff00 0 1477.3px,#c6ff00 0 1500.8px,#b9ff00 0 1524.2px,#abff00 0 1547.7px,#9cff00 0 1571.1px,#8dff00 0 1594.6px,#7eff00 0 1618.0px,#6eff00 0 1641.5px,#5dff00 0 1665.0px,#4bff00 0 1688.4px,#39ff00 0 1711.8px,#27ff00 0 1735.3px,#13ff00 0 1758.8px,#00ff00 0 1782.2px,#00ff14 0 1805.6px,#00ff28 0 1829.1px,#00ff3d 0 1852.5px,#00ff53 0 1876.0px)"></div>
<div style="top:1664.95px;background:linear-gradient(90deg,#00ffa5 0 23.4px,#00ff8e 0 46.9px,#00ff77 0 70.3px,#00ff61 0 93.8px,#00ff4c 0 117.2px,#00ff37 0 140.7px,#00ff22 0 164.2px,#00ff0e 0 187.6px,#05ff00 0 211.0px,#18ff00 0 234.5px,#2bff00 0 257.9px,#3dff00 0 281.4px,#4fff00 0 304.8px,#60ff00 0 328.3px,#70ff00 0 351.8px,#80ff00 0 375.2px,#8fff00 0 398.6px,#9dff00 0 422.1px,#abff00 0 445.6px,#b9ff00 0 469.0px,#c6ff00 0 492.4px,#d2ff00 0 515.9px,#ddff00 0 539.4px,#e8ff00 0 562.8px,#f3ff00 0 586.2px,#fdff00 0 609.7px,#fff800 0 633.1px,#fff000 0 656.6px,#ffe800 0 680.0px,#ffe100 0 703.5px,#ffda00 0 726.9px,#ffd400 0 750.4px,#ffcf00 0 773.9px,#ffca00 0 797.3px,#ffc500 0 820.8px,#ffc100 0 844.2px,#ffbe00 0 867.6px,#ffbc00 0 891.1px,#ffba00 0 914.5px,#ffb800 0 938.0px,#ffb700 0 961.4px,#ffb700 0 984.9px,#ffb700 0 1008.4px,#ffb800 0 1031.8px,#ffb900 0 1055.2px,#ffbb00 0 1078.7px,#ffbe00 0 1102.1px,#ffc100 0 1125.6px,#ffc500 0 1149.0px,#ffc900 0 1172.5px,#ffce00 0 1196.0px,#ffd400 0 1219.4px,#ffda00 0 1242.8px,#ffe000 0 1266.3px,#ffe800 0 1289.8px,#ffef00 0 1313.2px,#fff800 0 1336.6px,#fdff00 0 1360.1px,#f3ff00 0 1383.5px,#e9ff00 0 1407.0px,#deff00 0 1430.5px,#d3ff00 0 1453.9px,#c6ff00 0 1477.3px,#baff00 0 1500.8px,#acff00 0 1524.2px,#9eff00 0 1547.7px,#90ff00 0 1571.1px,#81ff00 0 1594.6px,#71ff00 0 1618.0px,#61ff00 0 1641.5px,#50ff00 0 1665.0px,#3eff00 0 1688.4px,#2cff00 0 1711.8px,#1aff00 0 1735.3px,#06ff00 0 1758.8px,#00ff0d 0 1782.2px,#00ff21 0 1805.6px,#00ff35 0 1829.1px,#00ff4a 0 1852.5px,#00ff60 0 1876.0px)"></div>
<div style="top:1688.40px;background:linear-gradient(90deg,#00ffad 0 23.4px,#00ff96 0 46.9px,#00ff80 0 70.3px,#00ff69 0 93.8px,#00ff54 0 117.2px,#00ff3f 0 140.7px,#00ff2b 0 164.2px,#00ff17 0 187.6px,#00ff04 0 211.0px,#0fff00 0 234.5px,#22ff00 0 257.9px,#34ff00 0 281.4px,#46ff00 0 304.8px,#56ff00 0 328.3px,#67ff00 0 351.8px,#76ff00 0 375.2px,#85ff00 0 398.6px,#94ff00 0 422.1px,#a2ff00 0 445.6px,#afff00 0 469.0px,#bcff00 0 492.4px,#c8ff00 0 515.9px,#d4ff00 0 539.4px,#deff00 0 562.8px,#e9ff00 0 586.2px,#f3ff00 0 609.7px,#fcff00 0 633.1px,#fffa00 0 656.6px,#fff200 0 680.0px,#ffeb00 0 703.5px,#ffe400 0 726.9px,#ffde00 0 750.4px,#ffd900 0 773.9px,#ffd400 0 797.3px,#ffd000 0 820.8px,#ffcc00 0 844.2px,#ffc900 0 867.6px,#ffc600 0 891.1px,#ffc400 0 914.5px,#ffc300 0 938.0px,#ffc200 0 961.4px,#ffc200 0 984.9px,#ffc200 0 1008.4px,#ffc300 0 1031.8px,#ffc500 0 1055.2px,#ffc700 0 1078.7px,#ffc900 0 1102.1px,#ffcd00 0 1125.6px,#ffd000 0 1149.0px,#ffd500 0 1172.5px,#ffda00 0 1196.0px,#ffdf00 0 1219.4px,#ffe500 0 1242.8px,#ffec00 0 1266.3px,#fff300 0 1289.8px,#fffb00 0 1313.2px,#faff00 0 1336.6px,#f1ff00 0 1360.1px,#e7ff00 0 1383.5px,#ddff00 0 1407.0px,#d2ff00 0 1430.5px,#c6ff00 0 1453.9px,#baff00 0 1477.3px,#adff00 0 1500.8px,#a0ff00 0 1524.2px,#92ff00 0 1547.7px,#83ff00 0 1571.1px,#74ff00 0 1594.6px,#64ff00 0 1618.0px,#54ff00 0 1641.5px,#43ff00 0 1665.0px,#31ff00 0 1688.4px,#1fff00 0 1711.8px,#0cff00 0 1735.3px,#00ff07 0 1758.8px,#00ff1a 0 1782.2px,#00ff2e 0 1805.6px,#00ff43 0 1829.1px,#00ff58 0 1852.5px,#00ff6d 0 1876.0px)"></div>
<div style="top:1711.85px;background:linear-gradient(90deg,#00ffb6 0 23.4px,#00ff9f 0 46.9px,#00ff88 0 70.3px,#00ff72 0 93.8px,#00ff5d 0 117.2px,#00ff48 0 140.7px,#00ff34 0 164.2px,#00ff20 0 187.6px,#00ff0d 0 211.0px,#06ff00 0 234.5px,#19ff00 0 257.9px,#2bff00 0 281.4px,#3cff00 0 304.8px,#4dff00 0 328.3px,#5dff00 0 351.8px,#6dff00 0 375.2px,#7cff00 0 398.6px,#8aff00 0 422.1px,#98ff00 0 445.6px,#a5ff00 0 469.0px,#b2ff00 0 492.4px,#beff00 0 515.9px,#c9ff00 0 539.4px,#d4ff00 0 562.8px,#deff00 0 586.2px,#e8ff00 0 609.7px,#f1ff00 0 633.1px,#faff00 0 656.6px,#fffc00 0 680.0px,#fff500 0 703.5px,#ffef00 0 726.9px,#ffe900 0 750.4px,#ffe300 0 773.9px,#ffdf00 0 797.3px,#ffda00 0 820.8px,#ffd700 0 844.2px,#ffd400 0 867.6px,#ffd100 0 891.1px,#ffcf00 0 914.5px,#ffce00 0 938.0px,#ffcd00 0 961.4px,#ffcd00 0 984.9px,#ffcd00 0 1008.4px,#ffce00 0 1031.8px,#ffd000 0 1055.2px,#ffd200 0 1078.7px,#ffd500 0 1102.1px,#ffd800 0 1125.6px,#ffdc00 0 1149.0px,#ffe100 0 1172.5px,#ffe600 0 1196.0px,#ffeb00 0 1219.4px,#fff100 0 1242.8px,#fff800 0 1266.3px,#feff00 0 1289.8px,#f6ff00 0 1313.2px,#eeff00 0 1336.6px,#e4ff00 0 1360.1px,#daff00 0 1383.5px,#d0ff00 0 1407.0px,#c5ff00 0 1430.5px,#b9ff00 0 1453.9px,#adff00 0 1477.3px,#a0ff00 0 1500.8px,#92ff00 0 1524.2px,#84ff00 0 1547.7px,#76ff00 0 1571.1px,#66ff00 0 1594.6px,#57ff00 0 1618.0px,#46ff00 0 1641.5px,#35ff00 0 1665.0px,#23ff00 0 1688.4px,#11ff00 0 1711.8px,#00ff02 0 1735.3px,#00ff14 0 1758.8px,#00ff28 0 1782.2px,#00ff3c 0 1805.6px,#00ff50 0 1829.1px,#00ff65 0 1852.5px,#00ff7b 0 1876.0px)"></div>
<div style="top:1735.30px;background:linear-gradient(90deg,#00ffbf 0 23.4px,#00ffa7 0 46.9px,#00ff91 0 70.3px,#00ff7b 0 93.8px,#00ff66 0 117.2px,#00ff51 0 140.7px,#00ff3d 0 164.2px,#00ff29 0 187.6px,#00ff16 0 211.0px,#00ff03 0 234.5px,#0fff00 0 257.9px,#21ff00 0 281.4px,#32ff00 0 304.8px,#43ff00 0 328.3px,#53ff00 0 351.8px,#63ff00 0 375.2px,#72ff00 0 398.6px,#80ff00 0 422.1px,#8eff00 0 445.6px,#9bff00 0 469.0px,#a7ff00 0 492.4px,#b3ff00 0 515.9px,#bfff00 0 539.4px,#caff00 0 562.8px,#d4ff00 0 586.2px,#ddff00 0 609.7px,#e6ff00 0 633.1px,#efff00 0 656.6px,#f7ff00 0 680.0px,#feff00 0 703.5px,#fffa00 0 726.9px,#fff400 0 750.4px,#ffee00 0 773.9px,#ffea00 0 797.3px,#ffe600 0 820.8px,#ffe200 0 844.2px,#ffdf00 0 867.6px,#ffdd00 0 891.1px,#ffdb00 0 914.5px,#ffd900 0 938.0px,#ffd900 0 961.4px,#ffd900 0 984.9px,#ffd900 0 1008.4px,#ffda00 0 1031.8px,#ffdc00 0 1055.2px,#ffde00 0 1078.7px,#ffe100 0 1102.1px,#ffe400 0 1125.6px,#ffe800 0 1149.0px,#ffed00 0 1172.5px,#fff200 0 1196.0px,#fff800 0 1219.4px,#fffe00 0 1242.8px,#f9ff00 0 1266.3px,#f2ff00 0 1289.8px,#e9ff00 0 1313.2px,#e1ff00 0 1336.6px,#d7ff00 0 1360.1px,#cdff00 0 1383.5px,#c3ff00 0 1407.0px,#b7ff00 0 1430.5px,#acff00 0 1453.9px,#9fff00 0 1477.3px,#92ff00 0 1500.8px,#85ff00 0 1524.2px,#77ff00 0 1547.7px,#68ff00 0 1571.1px,#59ff00 0 1594.6px,#49ff00 0 1618.0px,#38ff00 0 1641.5px,#27ff00 0 1665.0px,#15ff00 0 1688.4px,#03ff00 0 1711.8px,#00ff0f 0 1735.3px,#00ff22 0 1758.8px,#00ff36 0 1782.2px,#00ff4a 0 1805.6px,#00ff5e 0 1829.1px,#00ff73 0 1852.5px,#00ff89 0 1876.0px)"></div>
<div style="top:1758.75px;background:linear-gradient(90deg,#00ffc8 0 23.4px,#00ffb1 0 46.9px,#00ff9a 0 70.3px,#00ff84 0 93.8px,#00ff6f 0 117.2px,#00ff5a 0 140.7px,#00ff46 0 164.2px,#00ff33 0 187.6px,#00ff20 0 211.0px,#00ff0d 0 234.5px,#05ff00 0 257.9px,#17ff00 0 281.4px,#28ff00 0 304.8px,#39ff00 0 328.3px,#49ff00 0 351.8px,#58ff00 0 375.2px,#67ff00 0 398.6px,#75ff00 0 422.1px,#83ff00 0 445.6px,#90ff00 0 469.0px,#9dff00 0 492.4px,#a8ff00 0 515.9px,#b4ff00 0 539.4px,#bfff00 0 562.8px,#c9ff00 0 586.2px,#d2ff00 0 609.7px,#dbff00 0 633.1px,#e3ff00 0 656.6px,#ebff00 0 680.0px,#f2ff00 0 703.5px,#f9ff00 0 726.9px,#ffff00 0 750.4px,#fffa00 0 773.9px,#fff500 0 797.3px,#fff100 0 820.8px,#ffee00 0 844.2px,#ffeb00 0 867.6px,#ffe800 0 891.1px,#ffe600 0 914.5px,#ffe500 0 938.0px,#ffe500 0 961.4px,#ffe500 0 984.9px,#ffe500 0 1008.4px,#ffe600 0 1031.8px,#ffe800 0 1055.2px,#ffea00 0 1078.7px,#ffed00 0 1102.1px,#fff100 0 1125.6px,#fff500 0 1149.0px,#fff900 0 1172.5px,#fffe00 0 1196.0px,#faff00 0 1219.4px,#f3ff00 0 1242.8px,#ecff00 0 1266.3px,#e4ff00 0 1289.8px,#dcff00 0 1313.2px,#d3ff00 0 1336.6px,#caff00 0 1360.1px,#c0ff00 0 1383.5px,#b5ff00 0 1407.0px,#aaff00 0 1430.5px,#9eff00 0 1453.9px,#92ff00 0 1477.3px,#85ff00 0 1500.8px,#77ff00 0 1524.2px,#69ff00 0 1547.7px,#5aff00 0 1571.1px,#4bff00 0 1594.6px,#3bff00 0 1618.0px,#2aff00 0 1641.5px,#19ff00 0 1665.0px,#07ff00 0 1688.4px,#00ff0b 0 1711.8px,#00ff1d 0 1735.3px,#00ff30 0 1758.8px,#00ff44 0 1782.2px,#00ff58 0 1805.6px,#00ff6c 0 1829.1px,#00ff82 0 1852.5px,#00ff97 0 1876.0px)"></div>
<div style="top:1782.20px;background:linear-gradient(90deg,#00ffd1 0 23.4px,#00ffba 0 46.9px,#00ffa4 0 70.3px,#00ff8e 0 93.8px,#00ff79 0 117.2px,#00ff64 0 140.7px,#00ff50 0 164.2px,#00ff3d 0 187.6px,#00ff2a 0 211.0px,#00ff17 0 234.5px,#00ff05 0 257.9px,#0cff00 0 281.4px,#1dff00 0 304.8px,#2eff00 0 328.3px,#3eff00 0 351.8px,#4dff00 0 375.2px,#5cff00 0 398.6px,#6aff00 0 422.1px,#78ff00 0 445.6px,#85ff00 0 469.0px,#91ff00 0 492.4px,#9dff00 0 515.9px,#a9ff00 0 539.4px,#b3ff00 0 562.8px,#bdff00 0 586.2px,#c7ff00 0 609.7px,#d0ff00 0 633.1px,#d8ff00 0 656.6px,#e0ff00 0 680.0px,#e7ff00 0 703.5px,#edff00 0 726.9px,#f3ff00 0 750.4px,#f8ff00 0 773.9px,#fdff00 0 797.3px,#fffd00 0 820.8px,#fff900 0 844.2px,#fff700 0 867.6px,#fff400 0 891.1px,#fff300 0 914.5px,#fff100 0 938.0px,#fff100 0 961.4px,#fff100 0 984.9px,#fff200 0 1008.4px,#fff300 0 1031.8px,#fff500 0 1055.2px,#fff700 0 1078.7px,#fffa00 0 1102.1px,#fffd00 0 1125.6px,#fdff00 0 1149.0px,#f8ff00 0 1172.5px,#f2ff00 0 1196.0px,#ecff00 0 1219.4px,#e6ff00 0 1242.8px,#dfff00 0 1266.3px,#d7ff00 0 1289.8px,#cfff00 0 1313.2px,#c6ff00 0 1336.6px,#bcff00 0 1360.1px,#b2ff00 0 1383.5px,#a7ff00 0 1407.0px,#9cff00 0 1430.5px,#90ff00 0 1453.9px,#84ff00 0 1477.3px,#76ff00 0 1500.8px,#69ff00 0 1524.2px,#5aff00 0 1547.7px,#4cff00 0 1571.1px,#3cff00 0 1594.6px,#2cff00 0 1618.0px,#1bff00 0 1641.5px,#0aff00 0 1665.0px,#00ff07 0 1688.4px,#00ff19 0 1711.8px,#00ff2c 0 1735.3px,#00ff3f 0 1758.8px,#00ff52 0 1782.2px,#00ff66 0 1805.6px,#00ff7b 0 1829.1px,#00ff90 0 1852.5px,#00ffa6 0 1876.0px)"></div>
<div style="top:1805.65px;background:linear-gradient(90deg,#00ffdb 0 23.4px,#00ffc4 0 46.9px,#00ffae 0 70.3px,#00ff98 0 93.8px,#00ff83 0 117.2px,#00ff6e 0 140.7px,#00ff5a 0 164.2px,#00ff47 0 187.6px,#00ff34 0 211.0px,#00ff22 0 234.5px,#00ff10 0 257.9px,#01ff00 0 281.4px,#12ff00 0 304.8px,#23ff00 0 328.3px,#33ff00 0 351.8px,#42ff00 0 375.2px,#51ff00 0 398.6px,#5fff00 0 422.1px,#6dff00 0 445.6px,#7aff00 0 469.0px,#86ff00 0 492.4px,#92ff00 0 515.9px,#9dff00 0 539.4px,#a7ff00 0 562.8px,#b1ff00 0 586.2px,#bbff00 0 609.7px,#c4ff00 0 633.1px,#ccff00 0 656.6px,#d3ff00 0 680.0px,#daff00 0 703.5px,#e1ff00 0 726.9px,#e7ff00 0 750.4px,#ecff00 0 773.9px,#f1ff00 0 797.3px,#f5ff00 0 820.8px,#f8ff00 0 844.2px,#fbff00 0 867.6px,#fdff00 0 891.1px,#ffff00 0 914.5px,#fffe00 0 938.0px,#fffe00 0 961.4px,#fffe00 0 984.9px,#fffe00 0 1008.4px,#feff00 0 1031.8px,#fdff00 0 1055.2px,#faff00 0 1078.7px,#f7ff00 0 1102.1px,#f3ff00 0 1125.6px,#efff00 0 1149.0px,#eaff00 0 1172.5px,#e5ff00 0 1196.0px,#dfff00 0 1219.4px,#d8ff00 0 1242.8px,#d1ff00 0 1266.3px,#c9ff00 0 1289.8px,#c1ff00 0 1313.2px,#b8ff00 0 1336.6px,#aeff00 0 1360.1px,#a4ff00 0 1383.5px,#99ff00 0 1407.0px,#8eff00 0 1430.5px,#82ff00 0 1453.9px,#75ff00 0 1477.3px,#68ff00 0 1500.8px,#5aff00 0 1524.2px,#4cff00 0 1547.7px,#3dff00 0 1571.1px,#2dff00 0 1594.6px,#1dff00 0 1618.0px,#0cff00 0 1641.5px,#00ff05 0 1665.0px,#00ff16 0 1688.4px,#00ff28 0 1711.8px,#00ff3a 0 1735.3px,#00ff4d 0 1758.8px,#00ff61 0 1782.2px,#00ff75 0 1805.6px,#00ff8a 0 1829.1px,#00ff9f 0 1852.5px,#00ffb5 0 1876.0px)"></div>
<div style="top:1829.10px;background:linear-gradient(90deg,#00ffe5 0 23.4px,#00ffce 0 46.9px,#00ffb8 0 70.3px,#00ffa2 0 93.8px,#00ff8d 0 117.2px,#00ff79 0 140.7px,#00ff65 0 164.2px,#00ff51 0 187.6px,#00ff3f 0 211.0px,#00ff2c 0 234.5px,#00ff1b 0 257.9px,#00ff0a 0 281.4px,#07ff00 0 304.8px,#18ff00 0 328.3px,#27ff00 0 351.8px,#37ff00 0 375.2px,#45ff00 0 398.6px,#53ff00 0 422.1px,#61ff00 0 445.6px,#6eff00 0 469.0px,#7aff00 0 492.4px,#86ff00 0 515.9px,#91ff00 0 539.4px,#9bff00 0 562.8px,#a5ff00 0 586.2px,#afff00 0 609.7px,#b7ff00 0 633.1px,#bfff00 0 656.6px,#c7ff00 0 680.0px,#ceff00 0 703.5px,#d4ff00 0 726.9px,#daff00 0 750.4px,#dfff00 0 773.9px,#e4ff00 0 797.3px,#e8ff00 0 820.8px,#ebff00 0 844.2px,#eeff00 0 867.6px,#f0ff00 0 891.1px,#f2ff00 0 914.5px,#f3ff00 0 938.0px,#f3ff00 0 961.4px,#f3ff00 0 984.9px,#f2ff00 0 1008.4px,#f1ff00 0 1031.8px,#efff00 0 1055.2px,#ecff00 0 1078.7px,#e9ff00 0 1102.1px,#e6ff00 0 1125.6px,#e1ff00 0 1149.0px,#dcff00 0 1172.5px,#d7ff00 0 1196.0px,#d1ff00 0 1219.4px,#caff00 0 1242.8px,#c3ff00 0 1266.3px,#bbff00 0 1289.8px,#b2ff00 0 1313.2px,#a9ff00 0 1336.6px,#a0ff00 0 1360.1px,#95ff00 0 1383.5px,#8aff00 0 1407.0px,#7fff00 0 1430.5px,#73ff00 0 1453.9px,#66ff00 0 1477.3px,#59ff00 0 1500.8px,#4bff00 0 1524.2px,#3dff00 0 1547.7px,#2eff00 0 1571.1px,#1eff00 0 1594.6px,#0eff00 0 1618.0px,#00ff03 0 1641.5px,#00ff14 0 1665.0px,#00ff25 0 1688.4px,#00ff37 0 1711.8px,#00ff4a 0 1735.3px,#00ff5d 0 1758.8px,#00ff70 0 1782.2px,#00ff85 0 1805.6px,#00ff99 0 1829.1px,#00ffaf 0 1852.5px,#00ffc5 0 1876.0px)"></div>
<div style="top:1852.55px;background:linear-gradient(90deg,#00fff0 0 23.4px,#00ffd9 0 46.9px,#00ffc3 0 70.3px,#00ffad 0 93.8px,#00ff98 0 117.2px,#00ff84 0 140.7px,#00ff70 0 164.2px,#00ff5c 0 187.6px,#00ff4a 0 211.0px,#00ff37 0 234.5px,#00ff26 0 257.9px,#00ff15 0 281.4px,#00ff04 0 304.8px,#0cff00 0 328.3px,#1cff00 0 351.8px,#2bff00 0 375.2px,#39ff00 0 398.6px,#47ff00 0 422.1px,#55ff00 0 445.6px,#62ff00 0 469.0px,#6eff00 0 492.4px,#79ff00 0 515.9px,#84ff00 0 539.4px,#8fff00 0 562.8px,#99ff00 0 586.2px,#a2ff00 0 609.7px,#abff00 0 633.1px,#b3ff00 0 656.6px,#baff00 0 680.0px,#c1ff00 0 703.5px,#c7ff00 0 726.9px,#cdff00 0 750.4px,#d2ff00 0 773.9px,#d7ff00 0 797.3px,#dbff00 0 820.8px,#deff00 0 844.2px,#e1ff00 0 867.6px,#e3ff00 0 891.1px,#e4ff00 0 914.5px,#e5ff00 0 938.0px,#e6ff00 0 961.4px,#e5ff00 0 984.9px,#e4ff00 0 1008.4px,#e3ff00 0 1031.8px,#e1ff00 0 1055.2px,#deff00 0 1078.7px,#dbff00 0 1102.1px,#d7ff00 0 1125.6px,#d3ff00 0 1149.0px,#ceff00 0 1172.5px,#c8ff00 0 1196.0px,#c2ff00 0 1219.4px,#bbff00 0 1242.8px,#b4ff00 0 1266.3px,#acff00 0 1289.8px,#a4ff00 0 1313.2px,#9aff00 0 1336.6px,#91ff00 0 1360.1px,#86ff00 0 1383.5px,#7bff00 0 1407.0px,#70ff00 0 1430.5px,#64ff00 0 1453.9px,#57ff00 0 1477.3px,#4aff00 0 1500.8px,#3cff00 0 1524.2px,#2dff00 0 1547.7px,#1eff00 0 1571.1px,#0fff00 0 1594.6px,#00ff02 0 1618.0px,#00ff12 0 1641.5px,#00ff23 0 1665.0px,#00ff34 0 1688.4px,#00ff46 0 1711.8px,#00ff59 0 1735.3px,#00ff6c 0 1758.8px,#00ff80 0 1782.2px,#00ff94 0 1805.6px,#00ffa9 0 1829.1px,#00ffbf 0 1852.5px,#00ffd5 0 1876.0px)"></div>
</div></div>
<svg width="2316" height="2302" viewBox="0 0 2316 2302">
<defs><clipPath id="pc"><rect x="383.7" y="122.4" width="1871.3" height="1866.6"/></clipPath></defs>
<g fill="none" stroke="#000" stroke-width="3.1" stroke-linejoin="round" clip-path="url(#pc)"><path d="M379.7 289.4 L403.7 244.5 L427.5 202.4 L452.5 160.4 L478.9 118.4 M379.7 856.4 L392.6 804.4 L406.4 754.4 L421.7 704.4 L438.5 654.4 L456.1 606.4 L475.7 557.3 L495.8 510.4 L518.1 462.4 L541.0 416.4 L565.5 370.4 L591.7 324.5 L617.7 281.8 L645.7 238.7 L673.7 198.3 L703.7 157.6 L734.5 118.4 M500.7 1994.4 L481.7 1958.5 L464.2 1922.4 L447.2 1884.4 L431.7 1846.4 L416.8 1806.4 L403.3 1766.4 L391.1 1726.4 L379.7 1684.4 M2259.7 1847.6 L2235.7 1884.8 L2209.7 1922.9 L2183.7 1958.8 L2156.5 1994.4 M877.6 1994.4 L857.7 1975.8 L837.7 1955.6 L818.3 1934.4 L799.6 1912.4 L781.7 1889.6 L763.7 1865.0 L747.7 1841.4 L731.7 1815.9 L715.7 1788.4 L701.8 1762.4 L687.9 1734.4 L675.7 1707.7 L663.4 1678.4 L651.9 1648.4 L641.4 1618.4 L631.9 1588.4 L623.4 1558.4 L615.2 1526.4 L607.7 1492.6 L601.5 1460.4 L596.2 1428.4 L591.4 1394.4 L587.7 1360.4 L584.8 1326.4 L582.9 1292.4 L581.8 1258.4 L581.5 1224.4 L582.2 1188.4 L583.7 1153.1 L586.1 1118.4 L589.4 1082.4 L593.5 1048.4 L598.3 1014.4 L604.3 978.4 L611.2 942.4 L618.6 908.4 L627.3 872.4 L636.5 838.4 L646.5 804.4 L657.4 770.4 L669.2 736.4 L681.7 702.9 L694.8 670.4 L708.5 638.4 L723.2 606.4 L738.8 574.4 L755.5 542.4 L772.1 512.4 L789.6 482.4 L807.7 453.2 L826.6 424.4 L846.0 396.4 L865.7 369.4 L886.6 342.4 L907.8 316.4 L930.3 290.4 L952.2 266.4 L975.7 242.0 L999.7 218.6 L1023.7 196.5 L1047.7 175.7 L1071.7 156.1 L1097.4 136.4 L1122.4 118.4 M1976.9 118.4 L2001.7 140.0 L2025.7 163.0 L2048.1 186.4 L2070.9 212.4 L2091.7 238.4 L2112.3 266.4 L2131.7 295.3 L2150.8 326.4 L2167.7 356.5 L2184.0 388.4 L2199.7 422.3 L2214.0 456.4 L2226.8 490.4 L2239.0 526.4 L2249.7 562.4 L2259.7 600.5 M2259.7 1213.2 L2245.3 1272.4 L2228.6 1330.4 L2209.3 1388.4 L2187.7 1445.5 L2163.7 1501.7 L2137.7 1556.2 L2109.7 1609.0 L2079.7 1660.2 L2047.7 1709.8 L2013.7 1757.6 L1978.8 1802.4 L1941.7 1845.7 L1903.7 1886.1 L1863.7 1924.7 L1821.7 1961.4 L1779.7 1994.4 M1395.7 1692.5 L1369.7 1693.8 L1345.7 1693.4 L1319.7 1691.2 L1295.7 1687.5 L1271.7 1682.0 L1247.7 1674.8 L1225.7 1666.5 L1203.5 1656.4 L1181.7 1644.6 L1159.7 1630.8 L1139.7 1616.2 L1119.7 1599.6 L1101.5 1582.4 L1082.8 1562.4 L1065.7 1541.8 L1049.7 1519.9 L1034.4 1496.4 L1020.7 1472.4 L1007.7 1446.6 L996.2 1420.4 L985.7 1392.8 L976.4 1364.4 L968.8 1336.4 L962.0 1306.4 L956.6 1276.4 L952.3 1244.4 L949.6 1214.4 L948.0 1182.4 L947.8 1150.4 L948.8 1118.4 L951.2 1086.4 L954.8 1054.4 L959.6 1022.4 L965.7 990.4 L973.1 958.4 L981.8 926.4 L991.9 894.4 L1003.4 862.4 L1015.5 832.4 L1029.0 802.4 L1043.7 773.0 L1059.5 744.4 L1075.7 717.5 L1093.6 690.4 L1111.7 665.5 L1131.5 640.4 L1151.7 617.1 L1171.7 595.9 L1193.7 574.7 L1215.7 555.3 L1237.7 537.8 L1261.7 520.5 L1285.7 505.0 L1309.7 491.3 L1335.5 478.4 L1359.7 468.0 L1385.7 458.5 L1409.7 451.4 L1433.7 445.7 L1459.7 441.3 L1485.7 438.6 L1509.7 437.7 L1535.7 438.4 L1559.7 440.7 L1581.7 444.3 L1603.7 449.3 L1625.7 455.8 L1645.7 463.1 L1665.7 471.8 L1685.7 482.0 L1705.7 493.8 L1723.7 505.9 L1741.7 519.5 L1759.7 534.9 L1775.8 550.4 L1792.7 568.4 L1807.7 586.4 L1822.7 606.4 L1836.2 626.4 L1849.4 648.4 L1861.7 671.3 L1872.7 694.4 L1882.8 718.4 L1891.7 742.4 L1899.7 767.4 L1906.6 792.4 L1912.7 818.4 L1918.1 846.4 L1922.2 874.4 L1925.3 902.4 L1927.3 930.4 L1928.3 960.4 L1928.1 988.4 L1926.9 1018.4 L1924.8 1046.4 L1921.4 1076.4 L1917.3 1104.4 L1911.7 1134.4 L1905.6 1162.4 L1897.8 1192.4 L1889.6 1220.4 L1879.7 1250.0 L1869.7 1276.7 L1858.3 1304.4 L1845.7 1331.9 L1832.4 1358.4 L1818.2 1384.4 L1803.9 1408.4 L1788.4 1432.4 L1771.7 1456.2 L1754.8 1478.4 L1737.7 1499.3 L1718.9 1520.4 L1699.7 1540.3 L1679.7 1559.3 L1660.1 1576.4 L1639.7 1592.7 L1618.2 1608.4 L1597.7 1622.0 L1575.7 1635.1 L1553.7 1646.8 L1531.7 1657.1 L1509.7 1666.1 L1486.1 1674.4 L1463.7 1680.9 L1441.7 1686.0 L1417.7 1690.1 L1395.7 1692.5 M1431.7 1222.5 L1417.7 1223.3 L1405.7 1222.3 L1393.7 1219.6 L1381.7 1215.1 L1369.7 1208.5 L1359.7 1201.0 L1350.8 1192.4 L1342.6 1182.4 L1334.8 1170.4 L1328.8 1158.4 L1323.4 1144.4 L1319.5 1130.4 L1316.7 1114.4 L1315.2 1098.4 L1315.2 1082.4 L1316.4 1066.4 L1318.8 1050.4 L1322.6 1034.4 L1327.7 1018.4 L1334.2 1002.4 L1341.7 987.6 L1349.7 974.4 L1359.7 960.8 L1369.7 949.5 L1379.7 939.9 L1391.7 930.4 L1403.7 922.8 L1416.9 916.4 L1429.7 912.0 L1441.7 909.4 L1455.7 908.2 L1467.7 908.9 L1479.7 911.2 L1489.7 914.4 L1499.7 919.1 L1508.4 924.4 L1517.7 931.7 L1525.7 939.6 L1533.0 948.4 L1539.7 958.4 L1545.7 969.6 L1550.3 980.4 L1554.3 992.4 L1557.7 1006.6 L1559.8 1020.4 L1560.9 1034.4 L1560.9 1048.4 L1559.8 1064.4 L1557.7 1078.6 L1554.2 1094.4 L1550.1 1108.4 L1544.8 1122.4 L1538.4 1136.4 L1531.8 1148.4 L1524.1 1160.4 L1515.7 1171.5 L1507.7 1180.6 L1497.7 1190.4 L1487.7 1198.6 L1475.7 1206.7 L1465.2 1212.4 L1453.7 1217.2 L1443.1 1220.4 L1431.7 1222.5"/></g>
<rect x="383.7" y="122.4" width="1871.3" height="1866.6" fill="none" stroke="#000" stroke-width="3.8"/>
<path d="M383.7 1989V2041 M650.2 1989V2041 M917.0 1989V2041 M1183.6 1989V2041 M1449.9 1989V2041 M1716.3 1989V2041 M1987.9 1989V2041 M2255.0 1989V2041 M329.5 122.4H383.7 M329.5 493.4H383.7 M329.5 867.7H383.7 M329.5 1242.7H383.7 M329.5 1613.5H383.7 M329.5 1989.0H383.7" stroke="#000" stroke-width="3.8" fill="none"/>
<g font-family="Liberation Sans, Arial, sans-serif" font-weight="bold" font-size="57" letter-spacing="2.6" fill="#000">
<text x="377.0" y="2107" text-anchor="middle">200</text>
<text x="644.1" y="2107" text-anchor="middle">220</text>
<text x="915.0" y="2107" text-anchor="middle">240</text>
<text x="1182.0" y="2107" text-anchor="middle">260</text>
<text x="1448.6" y="2107" text-anchor="middle">280</text>
<text x="1714.9" y="2107" text-anchor="middle">300</text>
<text x="1985.9" y="2107" text-anchor="middle">320</text>
<text x="2252.2" y="2107" text-anchor="middle">340</text>
<text x="311.8" y="136.0" text-anchor="end">700</text>
<text x="311.8" y="507.0" text-anchor="end">640</text>
<text x="311.8" y="881.9" text-anchor="end">580</text>
<text x="311.8" y="1256.9" text-anchor="end">520</text>
<text x="311.8" y="1627.7" text-anchor="end">460</text>
<text x="311.8" y="2002.7" text-anchor="end">400</text>
</g>
<g>
<g fill="#fff" stroke="#000" stroke-width="3.8">
<rect x="463.0" y="376.7" width="120.3" height="66.0"/><rect x="2075.6" y="235.2" width="120.4" height="70.3"/><rect x="546.4" y="888.9" width="119.5" height="65.2"/><rect x="1267.1" y="1147.1" width="237.2" height="70.9"/><rect x="1213.1" y="1614.1" width="157.7" height="66.3"/><rect x="387.5" y="1818.1" width="125.4" height="66.6"/><rect x="2013.1" y="1589.4" width="120.5" height="70.1"/><rect x="2121.4" y="1884.7" width="120.5" height="66.7"/>
</g>
<g font-family="Liberation Sans, Arial, sans-serif" font-size="65" fill="#000" stroke="#fff" stroke-width="1.4" text-anchor="middle">
<text transform="translate(523.2 432.9) scale(0.965 1)">800</text><text transform="translate(2135.8 293.6) scale(0.965 1)">900</text><text transform="translate(606.1 944.7) scale(0.965 1)">900</text><text transform="translate(1385.7 1205.8) scale(0.965 1)">1045.67</text><text transform="translate(1292.0 1670.5) scale(0.965 1)">1000</text><text transform="translate(450.2 1874.6) scale(0.965 1)">800</text><text transform="translate(2073.3 1647.7) scale(0.965 1)">900</text><text transform="translate(2181.7 1941.2) scale(0.965 1)">800</text>
</g>
</g>
<g fill="#c00000" stroke="#000" stroke-width="3.8">
<circle cx="379.4" cy="118.0" r="16.6"/>
<circle cx="2250.4" cy="118.0" r="16.6"/>
<circle cx="379.5" cy="1987.0" r="16.6"/>
<circle cx="2250.4" cy="1987.1" r="16.6"/>
<circle cx="1315" cy="1054" r="18" fill="#b30000"/>
</g>
<text transform="translate(1271.3 1065.5) scale(0.88 1.06)" font-family="Liberation Sans, Arial, sans-serif" font-size="67" fill="#1a0000" text-anchor="middle">5</text>
<text x="1225" y="96.5" font-family="Liberation Sans, Arial, sans-serif" font-weight="bold" font-size="100.2" text-anchor="middle">Methanal (micromol/L.g)</text>
<text x="1203" y="2266" font-family="Liberation Sans, Arial, sans-serif" font-weight="bold" font-size="80" text-anchor="middle">A: Intensity of Light (W/m²)</text>
<text transform="translate(94 1140) rotate(-90)" x="0" y="0" font-family="Liberation Sans, Arial, sans-serif" font-weight="bold" font-size="79.8" text-anchor="middle">B: Stirring Rate (rpm)</text>
</svg>
</body></html>
